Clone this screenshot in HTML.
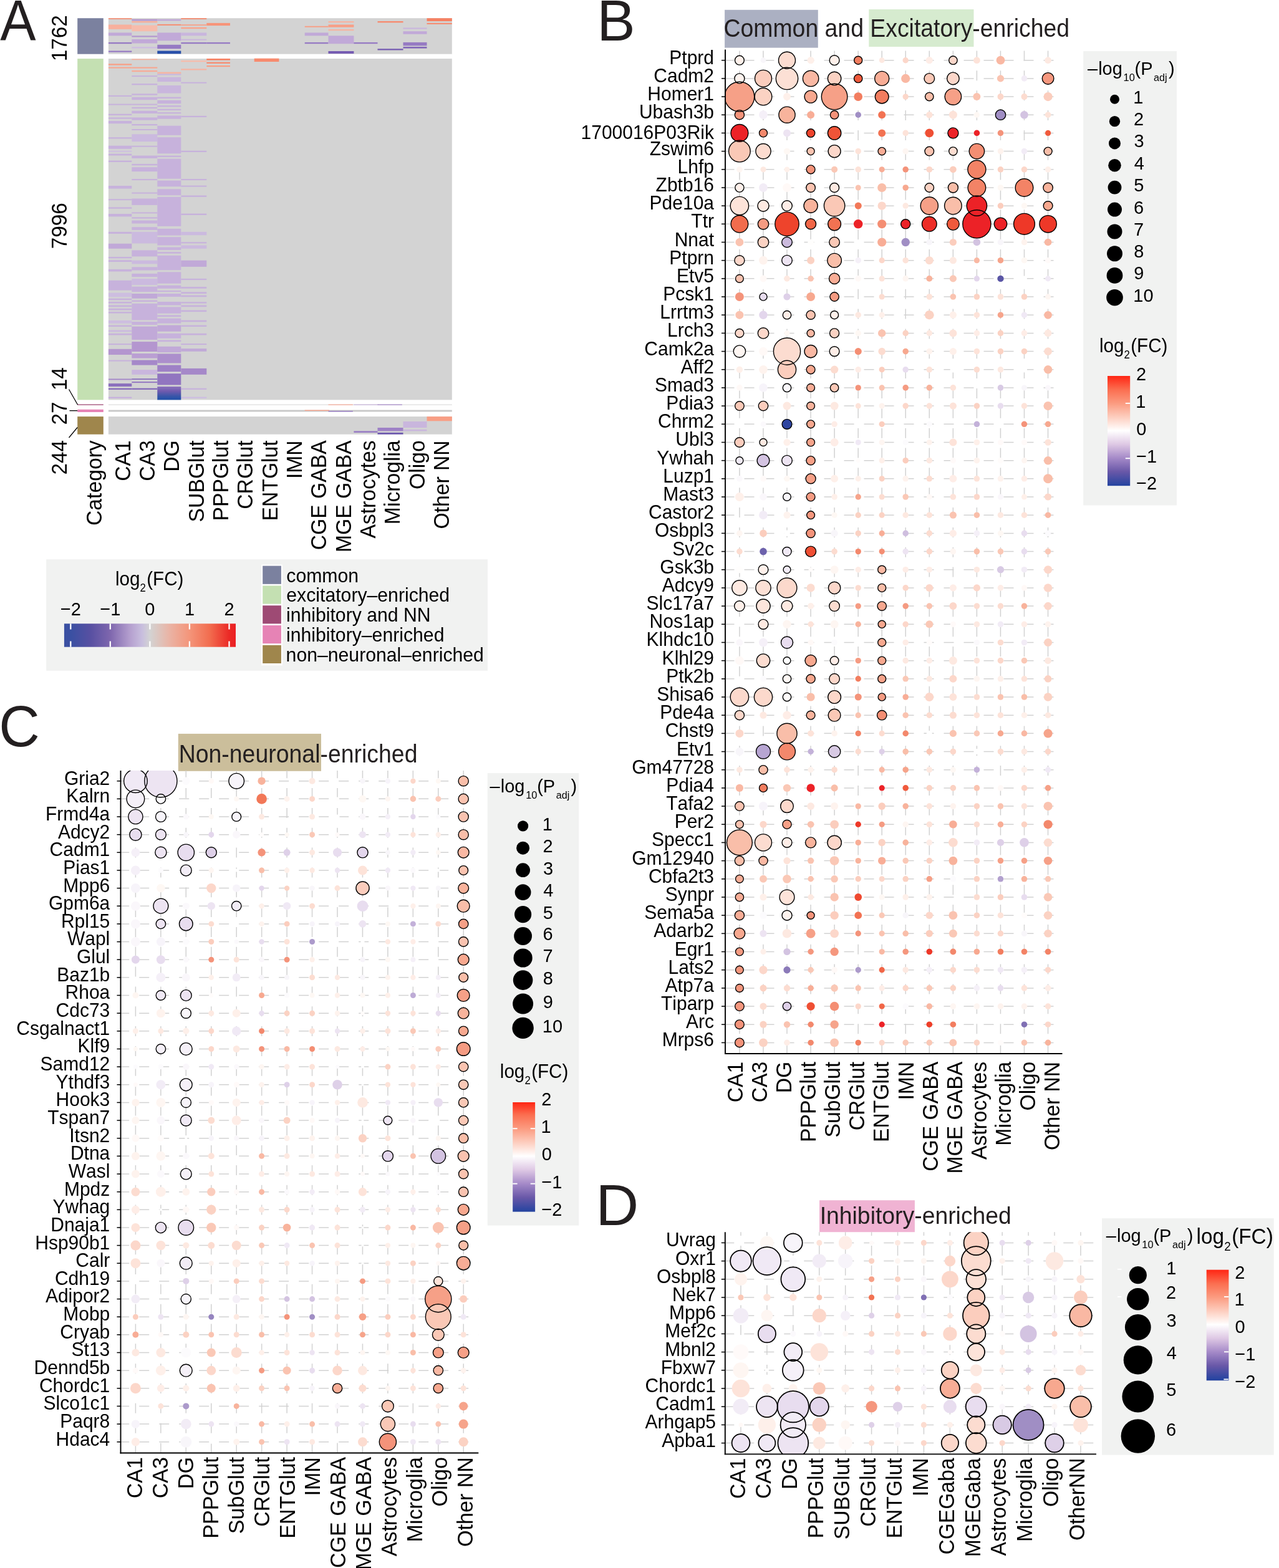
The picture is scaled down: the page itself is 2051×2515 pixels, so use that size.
<!DOCTYPE html>
<html><head><meta charset="utf-8"><title>Figure</title>
<style>
html,body{margin:0;padding:0;background:#fff;width:2051px;height:2515px;overflow:hidden;}
svg{display:block;}
text{font-family:"Liberation Sans", Arial, Helvetica, sans-serif;font-kerning:none;font-variant-ligatures:none;}
</style></head><body>
<svg xmlns="http://www.w3.org/2000/svg" width="2051" height="2515" viewBox="0 0 2051 2515">
<rect width="2051" height="2515" fill="#fff"/>
<text transform="translate(0.18,64.80) scale(1,1.0436)" font-size="89" text-anchor="start" fill="#231f20" textLength="57.34" lengthAdjust="spacingAndGlyphs">A</text>
<rect x="124.2" y="29.2" width="41.6" height="57.5" fill="#7b819f"/>
<rect x="124.2" y="94.1" width="41.6" height="547.3" fill="#c4e0b2"/>
<rect x="124.2" y="648.5" width="41.6" height="1.3" fill="#9e4a74"/>
<rect x="124.2" y="656.8" width="41.6" height="4.2" fill="#e683b5"/>
<rect x="124.2" y="668.1" width="41.6" height="28.6" fill="#9f864c"/>
<rect x="173.9" y="29.2" width="550.9" height="57.5" fill="#d3d3d3"/>
<rect x="173.9" y="94.1" width="550.9" height="547.3" fill="#d3d3d3"/>
<rect x="173.9" y="648.6" width="550.9" height="1.2" fill="#dcdcdc"/>
<rect x="173.9" y="657.6" width="550.9" height="2.8" fill="#c8c8c8"/>
<rect x="173.9" y="668.1" width="550.9" height="28.6" fill="#d3d3d3"/>
<rect x="173.90" y="29.20" width="37.40" height="1.60" fill="#f78a6e"/>
<rect x="173.90" y="39.50" width="37.40" height="7.40" fill="#f7b09d"/>
<rect x="173.90" y="52.40" width="37.40" height="4.90" fill="#c1a9d8"/>
<rect x="173.90" y="67.90" width="37.40" height="2.30" fill="#967ac3"/>
<rect x="173.90" y="81.50" width="37.40" height="2.20" fill="#967ac3"/>
<rect x="211.30" y="30.80" width="41.00" height="2.60" fill="#b496cf"/>
<rect x="211.30" y="34.00" width="41.00" height="2.30" fill="#f7ac98"/>
<rect x="211.30" y="40.50" width="41.00" height="9.70" fill="#f6bcac"/>
<rect x="211.30" y="57.30" width="41.00" height="2.20" fill="#b496cf"/>
<rect x="211.30" y="63.00" width="41.00" height="6.50" fill="#c1a9d8"/>
<rect x="211.30" y="75.00" width="41.00" height="2.60" fill="#cdbee0"/>
<rect x="252.30" y="30.80" width="38.00" height="2.60" fill="#c1a9d8"/>
<rect x="252.30" y="38.90" width="38.00" height="1.90" fill="#f78a6e"/>
<rect x="252.30" y="52.40" width="38.00" height="12.90" fill="#c1a9d8"/>
<rect x="252.30" y="71.80" width="38.00" height="6.40" fill="#967ac3"/>
<rect x="252.30" y="81.50" width="38.00" height="4.80" fill="#2850aa"/>
<rect x="290.30" y="29.20" width="41.00" height="1.60" fill="#f68062"/>
<rect x="290.30" y="39.30" width="41.00" height="1.70" fill="#f89e85"/>
<rect x="290.30" y="43.70" width="41.00" height="2.50" fill="#f8a58e"/>
<rect x="290.30" y="52.40" width="41.00" height="4.90" fill="#c9b6dd"/>
<rect x="290.30" y="62.70" width="41.00" height="1.90" fill="#c9b6dd"/>
<rect x="290.30" y="67.90" width="41.00" height="2.30" fill="#967ac3"/>
<rect x="331.30" y="36.90" width="37.70" height="4.20" fill="#f79479"/>
<rect x="331.30" y="67.90" width="37.70" height="2.30" fill="#967ac3"/>
<rect x="488.70" y="41.80" width="37.80" height="1.90" fill="#f89e85"/>
<rect x="488.70" y="52.40" width="37.80" height="4.90" fill="#c1a9d8"/>
<rect x="488.70" y="67.90" width="37.80" height="2.30" fill="#967ac3"/>
<rect x="526.50" y="34.00" width="40.90" height="2.30" fill="#f6b4a2"/>
<rect x="526.50" y="39.50" width="40.90" height="4.20" fill="#f89e85"/>
<rect x="526.50" y="46.90" width="40.90" height="2.30" fill="#f6b4a2"/>
<rect x="526.50" y="57.30" width="40.90" height="12.90" fill="#c1a9d8"/>
<rect x="526.50" y="82.00" width="40.90" height="4.00" fill="#765cb2"/>
<rect x="567.40" y="67.90" width="38.10" height="2.30" fill="#967ac3"/>
<rect x="605.50" y="34.00" width="41.00" height="2.30" fill="#f78a6e"/>
<rect x="605.50" y="78.20" width="41.00" height="2.30" fill="#765cb2"/>
<rect x="646.50" y="44.40" width="38.00" height="2.20" fill="#c9b6dd"/>
<rect x="646.50" y="50.20" width="38.00" height="4.50" fill="#c1a9d8"/>
<rect x="646.50" y="67.90" width="38.00" height="5.50" fill="#967ac3"/>
<rect x="646.50" y="75.00" width="38.00" height="2.60" fill="#8166b8"/>
<rect x="684.50" y="29.20" width="40.30" height="4.80" fill="#f68062"/>
<rect x="684.50" y="36.90" width="40.30" height="2.00" fill="#f78a6e"/>
<rect x="173.90" y="102.30" width="37.40" height="2.30" fill="#f89e85"/>
<rect x="173.90" y="107.60" width="37.40" height="2.00" fill="#f8a58e"/>
<rect x="173.90" y="152.90" width="37.40" height="2.00" fill="#c7b2dc"/>
<rect x="173.90" y="166.60" width="37.40" height="2.00" fill="#c7b2dc"/>
<rect x="173.90" y="182.70" width="37.40" height="2.30" fill="#c7b2dc"/>
<rect x="173.90" y="188.40" width="37.40" height="2.30" fill="#c7b2dc"/>
<rect x="173.90" y="194.00" width="37.40" height="4.20" fill="#c7b2dc"/>
<rect x="173.90" y="220.20" width="37.40" height="2.30" fill="#c7b2dc"/>
<rect x="173.90" y="233.70" width="37.40" height="5.10" fill="#c7b2dc"/>
<rect x="173.90" y="241.70" width="37.40" height="2.00" fill="#cdbee0"/>
<rect x="173.90" y="246.70" width="37.40" height="2.70" fill="#c7b2dc"/>
<rect x="173.90" y="257.60" width="37.40" height="2.40" fill="#c7b2dc"/>
<rect x="173.90" y="298.00" width="37.40" height="4.60" fill="#c7b2dc"/>
<rect x="173.90" y="319.20" width="37.40" height="2.00" fill="#c7b2dc"/>
<rect x="173.90" y="332.40" width="37.40" height="2.30" fill="#c7b2dc"/>
<rect x="173.90" y="343.00" width="37.40" height="4.40" fill="#c7b2dc"/>
<rect x="173.90" y="371.90" width="37.40" height="3.00" fill="#c7b2dc"/>
<rect x="173.90" y="390.80" width="37.40" height="8.00" fill="#c1a9d8"/>
<rect x="173.90" y="412.00" width="37.40" height="2.30" fill="#c7b2dc"/>
<rect x="173.90" y="417.30" width="37.40" height="2.70" fill="#c7b2dc"/>
<rect x="173.90" y="431.90" width="37.40" height="3.60" fill="#c7b2dc"/>
<rect x="173.90" y="449.80" width="37.40" height="15.90" fill="#c7b2dc"/>
<rect x="173.90" y="469.70" width="37.40" height="6.60" fill="#cdbee0"/>
<rect x="173.90" y="478.70" width="37.40" height="2.60" fill="#c7b2dc"/>
<rect x="173.90" y="484.00" width="37.40" height="2.60" fill="#c7b2dc"/>
<rect x="173.90" y="489.50" width="37.40" height="2.70" fill="#c7b2dc"/>
<rect x="173.90" y="494.80" width="37.40" height="2.70" fill="#c7b2dc"/>
<rect x="173.90" y="500.10" width="37.40" height="2.40" fill="#c7b2dc"/>
<rect x="173.90" y="514.00" width="37.40" height="4.70" fill="#cdbee0"/>
<rect x="173.90" y="521.60" width="37.40" height="2.40" fill="#c7b2dc"/>
<rect x="173.90" y="529.50" width="37.40" height="2.70" fill="#cbbadf"/>
<rect x="173.90" y="534.80" width="37.40" height="2.70" fill="#c7b2dc"/>
<rect x="173.90" y="551.10" width="37.40" height="2.00" fill="#c7b2dc"/>
<rect x="173.90" y="559.80" width="37.40" height="9.20" fill="#b496cf"/>
<rect x="173.90" y="577.60" width="37.40" height="2.00" fill="#c7b2dc"/>
<rect x="173.90" y="607.50" width="37.40" height="1.90" fill="#a588c9"/>
<rect x="173.90" y="615.10" width="37.40" height="4.90" fill="#8b70bd"/>
<rect x="173.90" y="622.70" width="37.40" height="2.20" fill="#8166b8"/>
<rect x="173.90" y="636.60" width="37.40" height="2.40" fill="#c7b2dc"/>
<rect x="211.30" y="94.40" width="41.00" height="1.80" fill="#f6b4a2"/>
<rect x="211.30" y="107.60" width="41.00" height="2.00" fill="#f8a58e"/>
<rect x="211.30" y="112.90" width="41.00" height="2.30" fill="#f7ac98"/>
<rect x="211.30" y="121.10" width="41.00" height="2.00" fill="#c7b2dc"/>
<rect x="211.30" y="134.10" width="41.00" height="2.30" fill="#c7b2dc"/>
<rect x="211.30" y="150.30" width="41.00" height="2.40" fill="#c7b2dc"/>
<rect x="211.30" y="155.80" width="41.00" height="4.40" fill="#c7b2dc"/>
<rect x="211.30" y="166.60" width="41.00" height="2.00" fill="#c7b2dc"/>
<rect x="211.30" y="171.90" width="41.00" height="2.20" fill="#c7b2dc"/>
<rect x="211.30" y="177.80" width="41.00" height="4.20" fill="#c7b2dc"/>
<rect x="211.30" y="188.40" width="41.00" height="4.30" fill="#c7b2dc"/>
<rect x="211.30" y="199.00" width="41.00" height="2.30" fill="#c7b2dc"/>
<rect x="211.30" y="207.00" width="41.00" height="2.00" fill="#c7b2dc"/>
<rect x="211.30" y="215.20" width="41.00" height="11.90" fill="#cbbadf"/>
<rect x="211.30" y="233.70" width="41.00" height="2.00" fill="#c7b2dc"/>
<rect x="211.30" y="249.60" width="41.00" height="4.30" fill="#c7b2dc"/>
<rect x="211.30" y="262.90" width="41.00" height="2.40" fill="#c7b2dc"/>
<rect x="211.30" y="268.20" width="41.00" height="6.90" fill="#c7b2dc"/>
<rect x="211.30" y="287.00" width="41.00" height="2.10" fill="#c7b2dc"/>
<rect x="211.30" y="308.60" width="41.00" height="2.00" fill="#c7b2dc"/>
<rect x="211.30" y="318.50" width="41.00" height="10.40" fill="#c7b2dc"/>
<rect x="211.30" y="340.40" width="41.00" height="2.00" fill="#c7b2dc"/>
<rect x="211.30" y="348.30" width="41.00" height="2.30" fill="#c7b2dc"/>
<rect x="211.30" y="353.60" width="41.00" height="4.90" fill="#c7b2dc"/>
<rect x="211.30" y="364.20" width="41.00" height="4.70" fill="#c7b2dc"/>
<rect x="211.30" y="371.90" width="41.00" height="18.50" fill="#cbbadf"/>
<rect x="211.30" y="401.40" width="41.00" height="10.00" fill="#c7b2dc"/>
<rect x="211.30" y="417.70" width="41.00" height="5.60" fill="#cbbadf"/>
<rect x="211.30" y="428.30" width="41.00" height="5.30" fill="#c7b2dc"/>
<rect x="211.30" y="438.90" width="41.00" height="5.30" fill="#c7b2dc"/>
<rect x="211.30" y="447.10" width="41.00" height="10.00" fill="#cbbadf"/>
<rect x="211.30" y="459.70" width="41.00" height="8.40" fill="#c7b2dc"/>
<rect x="211.30" y="471.00" width="41.00" height="7.70" fill="#c1a9d8"/>
<rect x="211.30" y="481.60" width="41.00" height="2.40" fill="#c7b2dc"/>
<rect x="211.30" y="486.90" width="41.00" height="26.50" fill="#c7b2dc"/>
<rect x="211.30" y="516.00" width="41.00" height="5.00" fill="#c7b2dc"/>
<rect x="211.30" y="523.70" width="41.00" height="21.20" fill="#c1a9d8"/>
<rect x="211.30" y="548.10" width="41.00" height="15.90" fill="#b496cf"/>
<rect x="211.30" y="567.00" width="41.00" height="7.60" fill="#ba9fd3"/>
<rect x="211.30" y="577.60" width="41.00" height="8.00" fill="#a588c9"/>
<rect x="211.30" y="593.10" width="41.00" height="7.70" fill="#c9b6dd"/>
<rect x="211.30" y="607.20" width="41.00" height="1.80" fill="#8b70bd"/>
<rect x="211.30" y="612.10" width="41.00" height="2.00" fill="#967ac3"/>
<rect x="211.30" y="622.70" width="41.00" height="2.20" fill="#8166b8"/>
<rect x="252.30" y="115.60" width="38.00" height="2.60" fill="#f6b4a2"/>
<rect x="252.30" y="118.50" width="38.00" height="2.00" fill="#c9b6dd"/>
<rect x="252.30" y="123.80" width="38.00" height="7.30" fill="#c9b6dd"/>
<rect x="252.30" y="137.00" width="38.00" height="12.60" fill="#c9b6dd"/>
<rect x="252.30" y="155.60" width="38.00" height="2.40" fill="#c7b2dc"/>
<rect x="252.30" y="160.90" width="38.00" height="5.30" fill="#c7b2dc"/>
<rect x="252.30" y="169.10" width="38.00" height="2.40" fill="#c7b2dc"/>
<rect x="252.30" y="174.80" width="38.00" height="2.20" fill="#c7b2dc"/>
<rect x="252.30" y="180.10" width="38.00" height="2.20" fill="#c7b2dc"/>
<rect x="252.30" y="185.40" width="38.00" height="5.30" fill="#c7b2dc"/>
<rect x="252.30" y="201.70" width="38.00" height="15.10" fill="#c7b2dc"/>
<rect x="252.30" y="220.20" width="38.00" height="26.10" fill="#c7b2dc"/>
<rect x="252.30" y="249.60" width="38.00" height="2.40" fill="#c7b2dc"/>
<rect x="252.30" y="254.70" width="38.00" height="32.00" fill="#c7b2dc"/>
<rect x="252.30" y="289.60" width="38.00" height="9.70" fill="#c7b2dc"/>
<rect x="252.30" y="303.30" width="38.00" height="9.90" fill="#c7b2dc"/>
<rect x="252.30" y="315.90" width="38.00" height="47.00" fill="#c7b2dc"/>
<rect x="252.30" y="366.90" width="38.00" height="10.70" fill="#c7b2dc"/>
<rect x="252.30" y="380.20" width="38.00" height="13.30" fill="#c7b2dc"/>
<rect x="252.30" y="396.50" width="38.00" height="4.50" fill="#c7b2dc"/>
<rect x="252.30" y="404.10" width="38.00" height="2.60" fill="#c7b2dc"/>
<rect x="252.30" y="409.80" width="38.00" height="23.40" fill="#c7b2dc"/>
<rect x="252.30" y="436.30" width="38.00" height="18.50" fill="#c7b2dc"/>
<rect x="252.30" y="457.70" width="38.00" height="5.10" fill="#c7b2dc"/>
<rect x="252.30" y="466.00" width="38.00" height="2.10" fill="#c7b2dc"/>
<rect x="252.30" y="471.00" width="38.00" height="5.00" fill="#c7b2dc"/>
<rect x="252.30" y="484.00" width="38.00" height="5.50" fill="#c7b2dc"/>
<rect x="252.30" y="492.40" width="38.00" height="10.40" fill="#c7b2dc"/>
<rect x="252.30" y="505.40" width="38.00" height="2.70" fill="#c7b2dc"/>
<rect x="252.30" y="510.70" width="38.00" height="8.00" fill="#c7b2dc"/>
<rect x="252.30" y="521.60" width="38.00" height="10.10" fill="#c1a9d8"/>
<rect x="252.30" y="534.80" width="38.00" height="8.00" fill="#c7b2dc"/>
<rect x="252.30" y="545.40" width="38.00" height="2.70" fill="#c7b2dc"/>
<rect x="252.30" y="555.80" width="38.00" height="9.30" fill="#c1a9d8"/>
<rect x="252.30" y="567.40" width="38.00" height="15.10" fill="#ac8fcc"/>
<rect x="252.30" y="585.60" width="38.00" height="10.60" fill="#9e81c6"/>
<rect x="252.30" y="599.20" width="38.00" height="18.20" fill="#9175c0"/>
<rect x="290.30" y="97.00" width="41.00" height="2.30" fill="#f6bcac"/>
<rect x="290.30" y="110.30" width="41.00" height="2.20" fill="#f6b4a2"/>
<rect x="290.30" y="131.70" width="41.00" height="2.00" fill="#c7b2dc"/>
<rect x="290.30" y="185.80" width="41.00" height="2.20" fill="#c7b2dc"/>
<rect x="290.30" y="241.70" width="41.00" height="2.30" fill="#c7b2dc"/>
<rect x="290.30" y="287.00" width="41.00" height="2.10" fill="#c7b2dc"/>
<rect x="290.30" y="297.60" width="41.00" height="2.10" fill="#c7b2dc"/>
<rect x="290.30" y="313.50" width="41.00" height="2.40" fill="#c7b2dc"/>
<rect x="290.30" y="342.60" width="41.00" height="2.40" fill="#c7b2dc"/>
<rect x="290.30" y="371.90" width="41.00" height="5.30" fill="#cbbadf"/>
<rect x="290.30" y="388.20" width="41.00" height="2.20" fill="#c7b2dc"/>
<rect x="290.30" y="393.50" width="41.00" height="5.30" fill="#cbbadf"/>
<rect x="290.30" y="417.70" width="41.00" height="10.20" fill="#c1a9d8"/>
<rect x="290.30" y="446.90" width="41.00" height="2.20" fill="#c7b2dc"/>
<rect x="290.30" y="460.10" width="41.00" height="2.70" fill="#c7b2dc"/>
<rect x="290.30" y="468.30" width="41.00" height="2.70" fill="#c7b2dc"/>
<rect x="290.30" y="473.60" width="41.00" height="2.70" fill="#c7b2dc"/>
<rect x="290.30" y="484.20" width="41.00" height="2.40" fill="#c7b2dc"/>
<rect x="290.30" y="489.50" width="41.00" height="2.70" fill="#c7b2dc"/>
<rect x="290.30" y="497.50" width="41.00" height="2.60" fill="#c7b2dc"/>
<rect x="290.30" y="513.60" width="41.00" height="2.70" fill="#c7b2dc"/>
<rect x="290.30" y="521.60" width="41.00" height="2.40" fill="#c7b2dc"/>
<rect x="290.30" y="534.80" width="41.00" height="2.70" fill="#c7b2dc"/>
<rect x="290.30" y="551.10" width="41.00" height="2.00" fill="#c7b2dc"/>
<rect x="290.30" y="559.10" width="41.00" height="4.60" fill="#c1a9d8"/>
<rect x="290.30" y="590.90" width="41.00" height="9.90" fill="#a588c9"/>
<rect x="290.30" y="622.70" width="41.00" height="2.20" fill="#c7b2dc"/>
<rect x="290.30" y="636.60" width="41.00" height="2.40" fill="#cdbee0"/>
<rect x="331.30" y="94.00" width="37.70" height="2.60" fill="#f68062"/>
<rect x="331.30" y="99.70" width="37.70" height="2.20" fill="#f78a6e"/>
<rect x="331.30" y="105.00" width="37.70" height="2.20" fill="#f89e85"/>
<rect x="407.70" y="93.70" width="39.70" height="5.30" fill="#f78a6e"/>
<rect x="684.50" y="668.10" width="40.30" height="7.20" fill="#f89e85"/>
<rect x="646.50" y="676.00" width="38.00" height="10.00" fill="#c9b6dd"/>
<rect x="646.50" y="688.90" width="38.00" height="2.50" fill="#c9b6dd"/>
<rect x="605.50" y="686.00" width="41.00" height="5.40" fill="#9e81c6"/>
<rect x="605.50" y="693.90" width="41.00" height="2.80" fill="#6e59af"/>
<rect x="567.40" y="691.40" width="38.10" height="2.50" fill="#967ac3"/>
<defs><linearGradient id="gDG" x1="0" x2="0" y1="0" y2="1"><stop offset="0" stop-color="#8d74bd"/><stop offset="0.35" stop-color="#6f5aae"/><stop offset="0.75" stop-color="#3555a8"/><stop offset="1" stop-color="#2150a8"/></linearGradient></defs>
<rect x="252.30" y="620.0" width="38.00" height="21.4" fill="url(#gDG)"/>
<rect x="526.50" y="648.6" width="39.35" height="1.2" fill="#f7ac98"/>
<rect x="567.40" y="648.6" width="39.35" height="1.2" fill="#c9b6dd"/>
<rect x="605.50" y="648.6" width="39.35" height="1.2" fill="#a588c9"/>
<rect x="488.70" y="657.6" width="39.35" height="1.4" fill="#f8a58e"/>
<rect x="526.50" y="659.0" width="39.35" height="1.4" fill="#967ac3"/>
<text transform="translate(107.20,61.30) rotate(-90) scale(1,1.0436)" font-size="33.3" text-anchor="middle" fill="#000">1762</text>
<text transform="translate(107.20,362.30) rotate(-90) scale(1,1.0436)" font-size="33.3" text-anchor="middle" fill="#000">7996</text>
<text transform="translate(107.20,607.70) rotate(-90) scale(1,1.0436)" font-size="33.3" text-anchor="middle" fill="#000">14</text>
<text transform="translate(107.20,663.00) rotate(-90) scale(1,1.0436)" font-size="33.3" text-anchor="middle" fill="#000">27</text>
<text transform="translate(107.20,733.80) rotate(-90) scale(1,1.0436)" font-size="33.3" text-anchor="middle" fill="#000">244</text>
<line x1="110.5" y1="624.5" x2="124.6" y2="649.2" stroke="#000" stroke-width="1.3"/>
<line x1="111.5" y1="658.7" x2="124.2" y2="658.7" stroke="#000" stroke-width="1.3"/>
<line x1="110.5" y1="702" x2="124.2" y2="685.5" stroke="#000" stroke-width="1.3"/>
<text transform="translate(162.60,706.30) rotate(-90) scale(1,1.0436)" font-size="33.7" text-anchor="end" fill="#000">Category</text>
<text transform="translate(208.60,706.30) rotate(-90) scale(1,1.0436)" font-size="33.7" text-anchor="end" fill="#000">CA1</text>
<text transform="translate(247.95,706.30) rotate(-90) scale(1,1.0436)" font-size="33.7" text-anchor="end" fill="#000">CA3</text>
<text transform="translate(287.30,706.30) rotate(-90) scale(1,1.0436)" font-size="33.7" text-anchor="end" fill="#000">DG</text>
<text transform="translate(326.65,706.30) rotate(-90) scale(1,1.0436)" font-size="33.7" text-anchor="end" fill="#000">SUBGlut</text>
<text transform="translate(366.00,706.30) rotate(-90) scale(1,1.0436)" font-size="33.7" text-anchor="end" fill="#000">PPPGlut</text>
<text transform="translate(405.35,706.30) rotate(-90) scale(1,1.0436)" font-size="33.7" text-anchor="end" fill="#000">CRGlut</text>
<text transform="translate(444.70,706.30) rotate(-90) scale(1,1.0436)" font-size="33.7" text-anchor="end" fill="#000">ENTGlut</text>
<text transform="translate(484.05,706.30) rotate(-90) scale(1,1.0436)" font-size="33.7" text-anchor="end" fill="#000">IMN</text>
<text transform="translate(523.40,706.30) rotate(-90) scale(1,1.0436)" font-size="33.7" text-anchor="end" fill="#000">CGE GABA</text>
<text transform="translate(562.75,706.30) rotate(-90) scale(1,1.0436)" font-size="33.7" text-anchor="end" fill="#000">MGE GABA</text>
<text transform="translate(602.10,706.30) rotate(-90) scale(1,1.0436)" font-size="33.7" text-anchor="end" fill="#000">Astrocytes</text>
<text transform="translate(641.45,706.30) rotate(-90) scale(1,1.0436)" font-size="33.7" text-anchor="end" fill="#000">Microglia</text>
<text transform="translate(680.80,706.30) rotate(-90) scale(1,1.0436)" font-size="33.7" text-anchor="end" fill="#000">Oligo</text>
<text transform="translate(720.15,706.30) rotate(-90) scale(1,1.0436)" font-size="33.7" text-anchor="end" fill="#000">Other NN</text>
<rect x="74.2" y="897.2" width="707.8" height="178.6" fill="#f1f2f1"/>
<defs><linearGradient id="gA" x1="0" x2="1" y1="0" y2="0"><stop offset="0.0000" stop-color="#3a50a2"/><stop offset="0.0392" stop-color="#3a50a2"/><stop offset="0.1544" stop-color="#5850a2"/><stop offset="0.2696" stop-color="#7f67ae"/><stop offset="0.3848" stop-color="#b5a0cf"/><stop offset="0.4539" stop-color="#c8bede"/><stop offset="0.5000" stop-color="#d3d3d3"/><stop offset="0.6152" stop-color="#eab3a4"/><stop offset="0.7304" stop-color="#f4957a"/><stop offset="0.8456" stop-color="#f26e50"/><stop offset="0.9608" stop-color="#eb2a26"/><stop offset="1.0000" stop-color="#eb2024"/></linearGradient></defs>
<rect x="102.9" y="1000.3" width="275.1" height="37.4" fill="url(#gA)"/>
<line x1="113.3" y1="1000.3" x2="113.3" y2="1009.5" stroke="#fff" stroke-width="2.3"/>
<line x1="113.3" y1="1028.5" x2="113.3" y2="1037.7" stroke="#fff" stroke-width="2.3"/>
<text transform="translate(113.30,987.30) scale(1,1.0436)" font-size="29" text-anchor="middle" fill="#000">−2</text>
<line x1="176.8" y1="1000.3" x2="176.8" y2="1009.5" stroke="#fff" stroke-width="2.3"/>
<line x1="176.8" y1="1028.5" x2="176.8" y2="1037.7" stroke="#fff" stroke-width="2.3"/>
<text transform="translate(176.85,987.30) scale(1,1.0436)" font-size="29" text-anchor="middle" fill="#000">−1</text>
<line x1="240.4" y1="1000.3" x2="240.4" y2="1009.5" stroke="#fff" stroke-width="2.3"/>
<line x1="240.4" y1="1028.5" x2="240.4" y2="1037.7" stroke="#fff" stroke-width="2.3"/>
<text transform="translate(240.40,987.30) scale(1,1.0436)" font-size="29" text-anchor="middle" fill="#000">0</text>
<line x1="303.9" y1="1000.3" x2="303.9" y2="1009.5" stroke="#fff" stroke-width="2.3"/>
<line x1="303.9" y1="1028.5" x2="303.9" y2="1037.7" stroke="#fff" stroke-width="2.3"/>
<text transform="translate(303.95,987.30) scale(1,1.0436)" font-size="29" text-anchor="middle" fill="#000">1</text>
<line x1="367.5" y1="1000.3" x2="367.5" y2="1009.5" stroke="#fff" stroke-width="2.3"/>
<line x1="367.5" y1="1028.5" x2="367.5" y2="1037.7" stroke="#fff" stroke-width="2.3"/>
<text transform="translate(367.50,987.30) scale(1,1.0436)" font-size="29" text-anchor="middle" fill="#000">2</text>
<text transform="translate(0,938.70) scale(1,1.0436)" fill="#000"><tspan x="184.91" y="0.00" font-size="29.6">log</tspan><tspan x="224.56" y="9.49" font-size="16.8">2</tspan><tspan x="235.26" y="0.00" font-size="29.6">(FC)</tspan></text>
<rect x="419.2" y="905.6" width="33.6" height="161.8" fill="#fff"/>
<rect x="421.2" y="907.6" width="29.7" height="29.2" fill="#7b819f"/>
<text transform="translate(459.32,933.50) scale(1,1.0436)" font-size="30.2" text-anchor="start" fill="#000">common</text>
<rect x="421.2" y="939.4" width="29.7" height="29.2" fill="#c4e0b2"/>
<text transform="translate(459.32,965.30) scale(1,1.0436)" font-size="30.2" text-anchor="start" fill="#000">excitatory–enriched</text>
<rect x="421.2" y="971.2" width="29.7" height="29.2" fill="#9e4a74"/>
<text transform="translate(458.98,997.10) scale(1,1.0436)" font-size="30.2" text-anchor="start" fill="#000">inhibitory and NN</text>
<rect x="421.2" y="1003.0" width="29.7" height="29.2" fill="#e683b5"/>
<text transform="translate(458.98,1028.90) scale(1,1.0436)" font-size="30.2" text-anchor="start" fill="#000">inhibitory–enriched</text>
<rect x="421.2" y="1034.8" width="29.7" height="29.2" fill="#9f864c"/>
<text transform="translate(458.59,1060.70) scale(1,1.0436)" font-size="30.2" text-anchor="start" fill="#000">non–neuronal–enriched</text>
<text transform="translate(957.35,65.00) scale(1,1.0436)" font-size="89" text-anchor="start" fill="#231f20" textLength="61.41" lengthAdjust="spacingAndGlyphs">B</text>
<rect x="1162.1" y="15.8" width="149.7" height="60.8" fill="#abb0c2"/>
<rect x="1393.3" y="15" width="168.2" height="60" fill="#d6ebcf"/>
<text transform="translate(1160.60,59.00) scale(1,1.0436)" font-size="38.3" text-anchor="start" fill="#231f20" textLength="554.51" lengthAdjust="spacingAndGlyphs">Common and Excitatory-enriched</text>
<clipPath id="clipB"><rect x="1163.0" y="79.4" width="540.5" height="1610.6"/></clipPath>
<g stroke="#d2d2d2" stroke-width="1.5" fill="none"><line x1="1161.5" y1="96.70" x2="1703.5" y2="96.70" stroke-dasharray="16 16"/><line x1="1161.5" y1="125.88" x2="1703.5" y2="125.88" stroke-dasharray="16 16"/><line x1="1161.5" y1="155.06" x2="1703.5" y2="155.06" stroke-dasharray="16 16"/><line x1="1161.5" y1="184.24" x2="1703.5" y2="184.24" stroke-dasharray="16 16"/><line x1="1161.5" y1="213.42" x2="1703.5" y2="213.42" stroke-dasharray="16 16"/><line x1="1161.5" y1="242.60" x2="1703.5" y2="242.60" stroke-dasharray="16 16"/><line x1="1161.5" y1="271.78" x2="1703.5" y2="271.78" stroke-dasharray="16 16"/><line x1="1161.5" y1="300.96" x2="1703.5" y2="300.96" stroke-dasharray="16 16"/><line x1="1161.5" y1="330.14" x2="1703.5" y2="330.14" stroke-dasharray="16 16"/><line x1="1161.5" y1="359.32" x2="1703.5" y2="359.32" stroke-dasharray="16 16"/><line x1="1161.5" y1="388.50" x2="1703.5" y2="388.50" stroke-dasharray="16 16"/><line x1="1161.5" y1="417.68" x2="1703.5" y2="417.68" stroke-dasharray="16 16"/><line x1="1161.5" y1="446.86" x2="1703.5" y2="446.86" stroke-dasharray="16 16"/><line x1="1161.5" y1="476.04" x2="1703.5" y2="476.04" stroke-dasharray="16 16"/><line x1="1161.5" y1="505.22" x2="1703.5" y2="505.22" stroke-dasharray="16 16"/><line x1="1161.5" y1="534.40" x2="1703.5" y2="534.40" stroke-dasharray="16 16"/><line x1="1161.5" y1="563.58" x2="1703.5" y2="563.58" stroke-dasharray="16 16"/><line x1="1161.5" y1="592.76" x2="1703.5" y2="592.76" stroke-dasharray="16 16"/><line x1="1161.5" y1="621.94" x2="1703.5" y2="621.94" stroke-dasharray="16 16"/><line x1="1161.5" y1="651.12" x2="1703.5" y2="651.12" stroke-dasharray="16 16"/><line x1="1161.5" y1="680.30" x2="1703.5" y2="680.30" stroke-dasharray="16 16"/><line x1="1161.5" y1="709.48" x2="1703.5" y2="709.48" stroke-dasharray="16 16"/><line x1="1161.5" y1="738.66" x2="1703.5" y2="738.66" stroke-dasharray="16 16"/><line x1="1161.5" y1="767.84" x2="1703.5" y2="767.84" stroke-dasharray="16 16"/><line x1="1161.5" y1="797.02" x2="1703.5" y2="797.02" stroke-dasharray="16 16"/><line x1="1161.5" y1="826.20" x2="1703.5" y2="826.20" stroke-dasharray="16 16"/><line x1="1161.5" y1="855.38" x2="1703.5" y2="855.38" stroke-dasharray="16 16"/><line x1="1161.5" y1="884.56" x2="1703.5" y2="884.56" stroke-dasharray="16 16"/><line x1="1161.5" y1="913.74" x2="1703.5" y2="913.74" stroke-dasharray="16 16"/><line x1="1161.5" y1="942.92" x2="1703.5" y2="942.92" stroke-dasharray="16 16"/><line x1="1161.5" y1="972.10" x2="1703.5" y2="972.10" stroke-dasharray="16 16"/><line x1="1161.5" y1="1001.28" x2="1703.5" y2="1001.28" stroke-dasharray="16 16"/><line x1="1161.5" y1="1030.46" x2="1703.5" y2="1030.46" stroke-dasharray="16 16"/><line x1="1161.5" y1="1059.64" x2="1703.5" y2="1059.64" stroke-dasharray="16 16"/><line x1="1161.5" y1="1088.82" x2="1703.5" y2="1088.82" stroke-dasharray="16 16"/><line x1="1161.5" y1="1118.00" x2="1703.5" y2="1118.00" stroke-dasharray="16 16"/><line x1="1161.5" y1="1147.18" x2="1703.5" y2="1147.18" stroke-dasharray="16 16"/><line x1="1161.5" y1="1176.36" x2="1703.5" y2="1176.36" stroke-dasharray="16 16"/><line x1="1161.5" y1="1205.54" x2="1703.5" y2="1205.54" stroke-dasharray="16 16"/><line x1="1161.5" y1="1234.72" x2="1703.5" y2="1234.72" stroke-dasharray="16 16"/><line x1="1161.5" y1="1263.90" x2="1703.5" y2="1263.90" stroke-dasharray="16 16"/><line x1="1161.5" y1="1293.08" x2="1703.5" y2="1293.08" stroke-dasharray="16 16"/><line x1="1161.5" y1="1322.26" x2="1703.5" y2="1322.26" stroke-dasharray="16 16"/><line x1="1161.5" y1="1351.44" x2="1703.5" y2="1351.44" stroke-dasharray="16 16"/><line x1="1161.5" y1="1380.62" x2="1703.5" y2="1380.62" stroke-dasharray="16 16"/><line x1="1161.5" y1="1409.80" x2="1703.5" y2="1409.80" stroke-dasharray="16 16"/><line x1="1161.5" y1="1438.98" x2="1703.5" y2="1438.98" stroke-dasharray="16 16"/><line x1="1161.5" y1="1468.16" x2="1703.5" y2="1468.16" stroke-dasharray="16 16"/><line x1="1161.5" y1="1497.34" x2="1703.5" y2="1497.34" stroke-dasharray="16 16"/><line x1="1161.5" y1="1526.52" x2="1703.5" y2="1526.52" stroke-dasharray="16 16"/><line x1="1161.5" y1="1555.70" x2="1703.5" y2="1555.70" stroke-dasharray="16 16"/><line x1="1161.5" y1="1584.88" x2="1703.5" y2="1584.88" stroke-dasharray="16 16"/><line x1="1161.5" y1="1614.06" x2="1703.5" y2="1614.06" stroke-dasharray="16 16"/><line x1="1161.5" y1="1643.24" x2="1703.5" y2="1643.24" stroke-dasharray="16 16"/><line x1="1161.5" y1="1672.42" x2="1703.5" y2="1672.42" stroke-dasharray="16 16"/><line x1="1185.90" y1="1690.0" x2="1185.90" y2="79.4" stroke-dasharray="16 15.85"/><line x1="1223.95" y1="1690.0" x2="1223.95" y2="79.4" stroke-dasharray="16 15.85"/><line x1="1262.00" y1="1690.0" x2="1262.00" y2="79.4" stroke-dasharray="16 15.85"/><line x1="1300.05" y1="1690.0" x2="1300.05" y2="79.4" stroke-dasharray="16 15.85"/><line x1="1338.10" y1="1690.0" x2="1338.10" y2="79.4" stroke-dasharray="16 15.85"/><line x1="1376.15" y1="1690.0" x2="1376.15" y2="79.4" stroke-dasharray="16 15.85"/><line x1="1414.20" y1="1690.0" x2="1414.20" y2="79.4" stroke-dasharray="16 15.85"/><line x1="1452.25" y1="1690.0" x2="1452.25" y2="79.4" stroke-dasharray="16 15.85"/><line x1="1490.30" y1="1690.0" x2="1490.30" y2="79.4" stroke-dasharray="16 15.85"/><line x1="1528.35" y1="1690.0" x2="1528.35" y2="79.4" stroke-dasharray="16 15.85"/><line x1="1566.40" y1="1690.0" x2="1566.40" y2="79.4" stroke-dasharray="16 15.85"/><line x1="1604.45" y1="1690.0" x2="1604.45" y2="79.4" stroke-dasharray="16 15.85"/><line x1="1642.50" y1="1690.0" x2="1642.50" y2="79.4" stroke-dasharray="16 15.85"/><line x1="1680.55" y1="1690.0" x2="1680.55" y2="79.4" stroke-dasharray="16 15.85"/></g>
<g clip-path="url(#clipB)"><circle cx="1185.9" cy="155.1" r="23.8" fill="#f6a087"/><circle cx="1566.4" cy="359.3" r="22.6" fill="#ec2227"/><circle cx="1262.0" cy="563.6" r="21.6" fill="#fcdcd0"/><circle cx="1338.1" cy="155.1" r="20.8" fill="#f6a087"/><circle cx="1185.9" cy="1351.4" r="20.4" fill="#f9bea9"/><circle cx="1262.0" cy="359.3" r="19.2" fill="#ee442c"/><circle cx="1262.0" cy="125.9" r="17.7" fill="#fce0d5"/><circle cx="1185.9" cy="242.6" r="17.3" fill="#fac8b6"/><circle cx="1642.5" cy="359.3" r="16.9" fill="#ee3828"/><circle cx="1338.1" cy="330.1" r="16.7" fill="#fac8b6"/><circle cx="1566.4" cy="330.1" r="16.2" fill="#ec2227"/><circle cx="1262.0" cy="1176.4" r="16.1" fill="#f9bea9"/><circle cx="1262.0" cy="942.9" r="15.9" fill="#fcd9cc"/><circle cx="1185.9" cy="330.1" r="14.7" fill="#fde3d9"/><circle cx="1185.9" cy="1118.0" r="14.7" fill="#fcd9cc"/><circle cx="1262.0" cy="592.8" r="14.6" fill="#fbcdbd"/><circle cx="1224.0" cy="1118.0" r="14.6" fill="#fcd9cc"/><circle cx="1566.4" cy="271.8" r="14.5" fill="#f38366"/><circle cx="1566.4" cy="301.0" r="14.3" fill="#f38366"/><circle cx="1642.5" cy="301.0" r="14.3" fill="#f38366"/><circle cx="1490.3" cy="330.1" r="14.1" fill="#f6a087"/><circle cx="1185.9" cy="213.4" r="13.9" fill="#ec2227"/><circle cx="1224.0" cy="155.1" r="13.8" fill="#fbd2c3"/><circle cx="1528.4" cy="330.1" r="13.8" fill="#f9bea9"/><circle cx="1185.9" cy="359.3" r="13.8" fill="#f16c4d"/><circle cx="1680.6" cy="359.3" r="13.7" fill="#ee3828"/><circle cx="1262.0" cy="96.7" r="13.5" fill="#fcdcd0"/><circle cx="1224.0" cy="125.9" r="13.5" fill="#fbcdbd"/><circle cx="1224.0" cy="1351.4" r="13.5" fill="#fcdcd0"/><circle cx="1262.0" cy="1205.5" r="13.4" fill="#f3886c"/><circle cx="1528.4" cy="155.1" r="13.2" fill="#f6a087"/><circle cx="1262.0" cy="184.2" r="13.1" fill="#f8b39c"/><circle cx="1300.1" cy="125.9" r="12.7" fill="#f9b8a3"/><circle cx="1566.4" cy="242.6" r="12.2" fill="#f48e73"/><circle cx="1224.0" cy="242.6" r="12.1" fill="#fcdcd0"/><circle cx="1185.9" cy="942.9" r="12.1" fill="#fde9e1"/><circle cx="1224.0" cy="942.9" r="12.1" fill="#fce0d5"/><circle cx="1262.0" cy="1439.0" r="11.9" fill="#fde3d9"/><circle cx="1490.3" cy="359.3" r="11.8" fill="#ed2d27"/><circle cx="1414.2" cy="125.9" r="11.5" fill="#f8ad96"/><circle cx="1224.0" cy="1205.5" r="11.5" fill="#b7a5d2"/><circle cx="1338.1" cy="417.7" r="11.3" fill="#f9bea9"/><circle cx="1338.1" cy="1351.4" r="11.2" fill="#fcd7ca"/><circle cx="1300.1" cy="330.1" r="11.1" fill="#f8b39c"/><circle cx="1224.0" cy="972.1" r="11.1" fill="#fde5dc"/><circle cx="1414.2" cy="155.1" r="10.9" fill="#f27d5f"/><circle cx="1338.1" cy="125.9" r="10.7" fill="#fbd2c3"/><circle cx="1338.1" cy="213.4" r="10.7" fill="#f05438"/><circle cx="1224.0" cy="1059.6" r="10.7" fill="#fcdcd0"/><circle cx="1338.1" cy="359.3" r="10.4" fill="#f27252"/><circle cx="1338.1" cy="1118.0" r="10.4" fill="#fcd7ca"/><circle cx="1262.0" cy="1293.1" r="10.3" fill="#fcd9cc"/><circle cx="1604.5" cy="359.3" r="10.2" fill="#ec2227"/><circle cx="1300.1" cy="563.6" r="10.1" fill="#f9b8a3"/><circle cx="1300.1" cy="155.1" r="10.0" fill="#f7a88f"/><circle cx="1338.1" cy="242.6" r="10.0" fill="#fcd7ca"/><circle cx="1224.0" cy="738.7" r="9.9" fill="#d3c3e1"/><circle cx="1338.1" cy="1147.2" r="9.9" fill="#fac8b6"/><circle cx="1528.4" cy="125.9" r="9.8" fill="#fcd7ca"/><circle cx="1528.4" cy="359.3" r="9.8" fill="#f05a3c"/><circle cx="1185.9" cy="563.6" r="9.7" fill="#fef6f2"/><circle cx="1338.1" cy="942.9" r="9.7" fill="#fcd7ca"/><circle cx="1338.1" cy="1205.5" r="9.7" fill="#d8cae4"/><circle cx="1262.0" cy="1030.5" r="9.5" fill="#e8ddef"/><circle cx="1680.6" cy="125.9" r="9.3" fill="#f5977e"/><circle cx="1224.0" cy="330.1" r="9.1" fill="#fde9e1"/><circle cx="1300.1" cy="1059.6" r="9.1" fill="#f7a88f"/><circle cx="1262.0" cy="972.1" r="8.9" fill="#fde9e1"/><circle cx="1185.9" cy="1497.3" r="8.8" fill="#f7a88f"/><circle cx="1224.0" cy="359.3" r="8.7" fill="#f59b82"/><circle cx="1224.0" cy="388.5" r="8.7" fill="#fbd2c3"/><circle cx="1224.0" cy="534.4" r="8.7" fill="#fcd7ca"/><circle cx="1338.1" cy="446.9" r="8.6" fill="#f8ad96"/><circle cx="1528.4" cy="213.4" r="8.5" fill="#ec2227"/><circle cx="1300.1" cy="359.3" r="8.5" fill="#f16647"/><circle cx="1300.1" cy="884.6" r="8.5" fill="#ef4f34"/><circle cx="1300.1" cy="1351.4" r="8.5" fill="#f8b39c"/><circle cx="1490.3" cy="125.9" r="8.3" fill="#fac8b6"/><circle cx="1262.0" cy="330.1" r="8.3" fill="#feede7"/><circle cx="1262.0" cy="388.5" r="8.3" fill="#cbbadd"/><circle cx="1338.1" cy="388.5" r="8.3" fill="#fac8b6"/><circle cx="1262.0" cy="417.7" r="8.3" fill="#ede4f2"/><circle cx="1262.0" cy="738.7" r="8.3" fill="#ede4f2"/><circle cx="1185.9" cy="972.1" r="8.3" fill="#fef0ea"/><circle cx="1338.1" cy="972.1" r="8.3" fill="#fcdcd0"/><circle cx="1338.1" cy="1088.8" r="8.3" fill="#fcd7ca"/><circle cx="1604.5" cy="184.2" r="8.2" fill="#a08ec4"/><circle cx="1185.9" cy="125.9" r="8.0" fill="#fef3ee"/><circle cx="1528.4" cy="301.0" r="8.0" fill="#f9bea9"/><circle cx="1185.9" cy="417.7" r="8.0" fill="#fcd7ca"/><circle cx="1300.1" cy="767.8" r="8.0" fill="#f6a087"/><circle cx="1262.0" cy="1468.2" r="8.0" fill="#fef3ee"/><circle cx="1338.1" cy="96.7" r="7.9" fill="#fef0ea"/><circle cx="1338.1" cy="563.6" r="7.9" fill="#feede7"/><circle cx="1262.0" cy="680.3" r="7.9" fill="#2e45a0"/><circle cx="1224.0" cy="913.7" r="7.9" fill="#fef0ea"/><circle cx="1224.0" cy="1001.3" r="7.9" fill="#fde9e1"/><circle cx="1262.0" cy="1351.4" r="7.9" fill="#feede7"/><circle cx="1185.9" cy="709.5" r="7.8" fill="#fbcdbd"/><circle cx="1680.6" cy="301.0" r="7.7" fill="#f8b39c"/><circle cx="1224.0" cy="651.1" r="7.7" fill="#fbcdbd"/><circle cx="1414.2" cy="1147.2" r="7.7" fill="#f48e73"/><circle cx="1185.9" cy="184.2" r="7.6" fill="#f4937a"/><circle cx="1452.2" cy="359.3" r="7.6" fill="#ec2227"/><circle cx="1185.9" cy="1147.2" r="7.6" fill="#fcd7ca"/><circle cx="1185.9" cy="1380.6" r="7.6" fill="#f9bea9"/><circle cx="1185.9" cy="1468.2" r="7.6" fill="#f8ad96"/><circle cx="1338.1" cy="301.0" r="7.5" fill="#fde9e1"/><circle cx="1338.1" cy="534.4" r="7.5" fill="#fbd2c3"/><circle cx="1185.9" cy="96.7" r="7.4" fill="#fef0ea"/><circle cx="1680.6" cy="330.1" r="7.4" fill="#f7a88f"/><circle cx="1490.3" cy="242.6" r="7.3" fill="#fac3b0"/><circle cx="1300.1" cy="301.0" r="7.3" fill="#fac3b0"/><circle cx="1185.9" cy="651.1" r="7.3" fill="#fac8b6"/><circle cx="1185.9" cy="1293.1" r="7.3" fill="#fac3b0"/><circle cx="1185.9" cy="1614.1" r="7.3" fill="#f5977e"/><circle cx="1185.9" cy="1643.2" r="7.3" fill="#f4937a"/><circle cx="1185.9" cy="1672.4" r="7.3" fill="#f4937a"/><circle cx="1490.3" cy="301.0" r="7.2" fill="#fbd2c3"/><circle cx="1338.1" cy="476.0" r="7.2" fill="#f59b82"/><circle cx="1414.2" cy="972.1" r="7.2" fill="#f7a88f"/><circle cx="1185.9" cy="301.0" r="7.1" fill="#fef0ea"/><circle cx="1300.1" cy="505.2" r="7.1" fill="#fac3b0"/><circle cx="1300.1" cy="738.7" r="7.1" fill="#f6a087"/><circle cx="1300.1" cy="855.4" r="7.1" fill="#f4937a"/><circle cx="1262.0" cy="884.6" r="7.1" fill="#f0e9f5"/><circle cx="1300.1" cy="1088.8" r="7.1" fill="#f7a88f"/><circle cx="1224.0" cy="1234.7" r="7.1" fill="#f9bea9"/><circle cx="1262.0" cy="1322.3" r="7.1" fill="#f6a087"/><circle cx="1224.0" cy="1380.6" r="7.1" fill="#f9b8a3"/><circle cx="1300.1" cy="271.8" r="6.9" fill="#f4937a"/><circle cx="1185.9" cy="534.4" r="6.9" fill="#fcd7ca"/><circle cx="1300.1" cy="592.8" r="6.9" fill="#f7a88f"/><circle cx="1680.6" cy="767.8" r="7.5" fill="#f9bea9"/><circle cx="1300.1" cy="797.0" r="6.9" fill="#f59b82"/><circle cx="1300.1" cy="1147.2" r="6.9" fill="#f8b39c"/><circle cx="1300.1" cy="1497.3" r="7.5" fill="#f6a087"/><circle cx="1338.1" cy="1059.6" r="6.8" fill="#feede7"/><circle cx="1338.1" cy="1380.6" r="7.4" fill="#fac8b6"/><circle cx="1528.4" cy="96.7" r="6.7" fill="#fcd7ca"/><circle cx="1376.2" cy="125.9" r="6.7" fill="#f05a3c"/><circle cx="1490.3" cy="155.1" r="6.7" fill="#f9bea9"/><circle cx="1338.1" cy="184.2" r="6.7" fill="#f4937a"/><circle cx="1300.1" cy="213.4" r="6.7" fill="#ee442c"/><circle cx="1528.4" cy="242.6" r="6.7" fill="#fcdcd0"/><circle cx="1376.2" cy="359.3" r="7.3" fill="#ec2227"/><circle cx="1262.0" cy="505.2" r="6.7" fill="#feede7"/><circle cx="1490.3" cy="505.2" r="7.3" fill="#fbd2c3"/><circle cx="1262.0" cy="621.9" r="6.7" fill="#faf7fb"/><circle cx="1338.1" cy="621.9" r="6.7" fill="#fac8b6"/><circle cx="1262.0" cy="1088.8" r="6.7" fill="#fef8f4"/><circle cx="1262.0" cy="1118.0" r="6.7" fill="#fffcfb"/><circle cx="1528.4" cy="1351.4" r="7.3" fill="#fcdcd0"/><circle cx="1642.5" cy="1351.4" r="7.3" fill="#ded0e8"/><circle cx="1185.9" cy="1439.0" r="6.7" fill="#f8ad96"/><circle cx="1262.0" cy="1497.3" r="7.3" fill="#fde9e1"/><circle cx="1262.0" cy="1614.1" r="6.7" fill="#ded0e8"/><circle cx="1338.1" cy="1614.1" r="7.3" fill="#f48e73"/><circle cx="1376.2" cy="96.7" r="6.5" fill="#f27d5f"/><circle cx="1452.2" cy="125.9" r="7.1" fill="#f9b8a3"/><circle cx="1680.6" cy="155.1" r="7.1" fill="#fbcdbd"/><circle cx="1224.0" cy="213.4" r="6.5" fill="#f3886c"/><circle cx="1680.6" cy="242.6" r="6.5" fill="#f9bea9"/><circle cx="1414.2" cy="301.0" r="7.1" fill="#f9bea9"/><circle cx="1414.2" cy="359.3" r="7.1" fill="#f48e73"/><circle cx="1414.2" cy="388.5" r="7.1" fill="#f8ad96"/><circle cx="1338.1" cy="505.2" r="6.5" fill="#fef0ea"/><circle cx="1680.6" cy="651.1" r="7.1" fill="#fac3b0"/><circle cx="1414.2" cy="913.7" r="6.5" fill="#f9b8a3"/><circle cx="1414.2" cy="942.9" r="6.5" fill="#f9bea9"/><circle cx="1414.2" cy="1030.5" r="6.5" fill="#f7a88f"/><circle cx="1414.2" cy="1059.6" r="6.5" fill="#f7a88f"/><circle cx="1414.2" cy="1088.8" r="6.5" fill="#f6a48b"/><circle cx="1680.6" cy="1176.4" r="7.1" fill="#f6a48b"/><circle cx="1224.0" cy="1263.9" r="6.5" fill="#f27d5f"/><circle cx="1224.0" cy="1293.1" r="7.1" fill="#f7f4fa"/><circle cx="1680.6" cy="1293.1" r="7.1" fill="#fac3b0"/><circle cx="1680.6" cy="1322.3" r="7.1" fill="#f3886c"/><circle cx="1185.9" cy="446.9" r="6.4" fill="#fac3b0"/><circle cx="1185.9" cy="476.0" r="7.0" fill="#f4937a"/><circle cx="1300.1" cy="476.0" r="7.0" fill="#f7a88f"/><circle cx="1300.1" cy="621.9" r="6.4" fill="#f8ad96"/><circle cx="1300.1" cy="651.1" r="6.4" fill="#f8b39c"/><circle cx="1300.1" cy="680.3" r="6.4" fill="#f7a88f"/><circle cx="1300.1" cy="709.5" r="6.4" fill="#f6a48b"/><circle cx="1185.9" cy="797.0" r="7.0" fill="#fef0ea"/><circle cx="1300.1" cy="826.2" r="6.4" fill="#f5977e"/><circle cx="1185.9" cy="1059.6" r="7.0" fill="#fff9f7"/><circle cx="1185.9" cy="1322.3" r="6.4" fill="#fac3b0"/><circle cx="1185.9" cy="1409.8" r="6.4" fill="#f8ad96"/><circle cx="1185.9" cy="1526.5" r="6.4" fill="#f59b82"/><circle cx="1185.9" cy="1555.7" r="6.4" fill="#f5977e"/><circle cx="1185.9" cy="1584.9" r="6.4" fill="#f5977e"/><circle cx="1604.5" cy="96.7" r="6.9" fill="#f9b8a3"/><circle cx="1376.2" cy="155.1" r="6.9" fill="#f27d5f"/><circle cx="1224.0" cy="184.2" r="6.9" fill="#f5f0f8"/><circle cx="1490.3" cy="213.4" r="6.9" fill="#ef4f34"/><circle cx="1224.0" cy="301.0" r="6.9" fill="#f2ecf6"/><circle cx="1262.0" cy="301.0" r="6.9" fill="#fff9f7"/><circle cx="1224.0" cy="417.7" r="6.9" fill="#fef3ee"/><circle cx="1224.0" cy="563.6" r="6.9" fill="#fff9f7"/><circle cx="1224.0" cy="592.8" r="6.9" fill="#fef3ee"/><circle cx="1224.0" cy="621.9" r="6.9" fill="#f7f4fa"/><circle cx="1262.0" cy="797.0" r="6.3" fill="#f8f6fa"/><circle cx="1224.0" cy="826.2" r="6.9" fill="#f2ecf6"/><circle cx="1224.0" cy="1030.5" r="6.9" fill="#f5f0f8"/><circle cx="1490.3" cy="1118.0" r="6.9" fill="#fcd7ca"/><circle cx="1338.1" cy="1322.3" r="6.9" fill="#fbcdbd"/><circle cx="1528.4" cy="1380.6" r="6.9" fill="#f8b39c"/><circle cx="1262.0" cy="1409.8" r="6.9" fill="#fac8b6"/><circle cx="1528.4" cy="1468.2" r="6.9" fill="#fac3b0"/><circle cx="1338.1" cy="1497.3" r="6.9" fill="#fcd7ca"/><circle cx="1224.0" cy="1672.4" r="6.9" fill="#fbd2c3"/><circle cx="1338.1" cy="1672.4" r="6.9" fill="#fac3b0"/><circle cx="1414.2" cy="242.6" r="6.2" fill="#f8ad96"/><circle cx="1414.2" cy="330.1" r="6.7" fill="#fcd7ca"/><circle cx="1452.2" cy="388.5" r="6.7" fill="#a08ec4"/><circle cx="1224.0" cy="476.0" r="6.1" fill="#e8ddef"/><circle cx="1224.0" cy="505.2" r="6.7" fill="#e3d6ec"/><circle cx="1680.6" cy="592.8" r="6.7" fill="#f9bea9"/><circle cx="1680.6" cy="738.7" r="6.7" fill="#f9bea9"/><circle cx="1680.6" cy="942.9" r="6.7" fill="#fcd7ca"/><circle cx="1262.0" cy="1001.3" r="6.7" fill="#fef6f2"/><circle cx="1414.2" cy="1001.3" r="6.1" fill="#f7a88f"/><circle cx="1414.2" cy="1118.0" r="6.1" fill="#f59b82"/><circle cx="1680.6" cy="1118.0" r="6.7" fill="#fbd2c3"/><circle cx="1262.0" cy="1147.2" r="6.7" fill="#feede7"/><circle cx="1680.6" cy="1351.4" r="6.7" fill="#fcdcd0"/><circle cx="1680.6" cy="1380.6" r="6.7" fill="#f6a087"/><circle cx="1338.1" cy="1439.0" r="6.7" fill="#fac3b0"/><circle cx="1680.6" cy="1439.0" r="6.7" fill="#fac8b6"/><circle cx="1338.1" cy="1468.2" r="6.7" fill="#fbcdbd"/><circle cx="1680.6" cy="1468.2" r="6.7" fill="#fbd2c3"/><circle cx="1338.1" cy="1526.5" r="6.7" fill="#f5977e"/><circle cx="1224.0" cy="1555.7" r="6.7" fill="#fcd7ca"/><circle cx="1338.1" cy="1643.2" r="6.7" fill="#f6a48b"/><circle cx="1300.1" cy="242.6" r="6.0" fill="#fac3b0"/><circle cx="1300.1" cy="534.4" r="6.0" fill="#f9b8a3"/><circle cx="1224.0" cy="709.5" r="6.0" fill="#fde9e1"/><circle cx="1185.9" cy="738.7" r="6.0" fill="#f0e9f5"/><circle cx="1300.1" cy="942.9" r="6.6" fill="#fcdcd0"/><circle cx="1300.1" cy="1118.0" r="6.6" fill="#f9bea9"/><circle cx="1300.1" cy="1263.9" r="6.6" fill="#ec2227"/><circle cx="1300.1" cy="1468.2" r="6.0" fill="#f4937a"/><circle cx="1300.1" cy="1614.1" r="6.6" fill="#ef4f34"/><circle cx="1528.4" cy="184.2" r="6.5" fill="#fde3d9"/><circle cx="1185.9" cy="388.5" r="6.5" fill="#fac3b0"/><circle cx="1490.3" cy="417.7" r="6.5" fill="#fcdcd0"/><circle cx="1185.9" cy="505.2" r="6.5" fill="#fac3b0"/><circle cx="1262.0" cy="651.1" r="6.5" fill="#fde9e1"/><circle cx="1338.1" cy="651.1" r="6.5" fill="#fde9e1"/><circle cx="1338.1" cy="709.5" r="6.5" fill="#feede7"/><circle cx="1262.0" cy="913.7" r="5.9" fill="#f2ecf6"/><circle cx="1338.1" cy="913.7" r="6.5" fill="#fef6f2"/><circle cx="1680.6" cy="913.7" r="6.5" fill="#fcd7ca"/><circle cx="1338.1" cy="1001.3" r="6.5" fill="#fef6f2"/><circle cx="1680.6" cy="1030.5" r="6.5" fill="#fbd2c3"/><circle cx="1262.0" cy="1059.6" r="5.9" fill="#ffffff"/><circle cx="1528.4" cy="1059.6" r="6.5" fill="#fde9e1"/><circle cx="1185.9" cy="1176.4" r="6.5" fill="#fcd7ca"/><circle cx="1185.9" cy="1205.5" r="6.5" fill="#f8f6fa"/><circle cx="1528.4" cy="1497.3" r="6.5" fill="#fac8b6"/><circle cx="1642.5" cy="184.2" r="6.3" fill="#d3c3e1"/><circle cx="1680.6" cy="505.2" r="6.3" fill="#f9b8a3"/><circle cx="1680.6" cy="563.6" r="6.3" fill="#fcdcd0"/><circle cx="1680.6" cy="972.1" r="6.3" fill="#fcd7ca"/><circle cx="1528.4" cy="1322.3" r="6.3" fill="#f8ad96"/><circle cx="1680.6" cy="1497.3" r="6.3" fill="#fbd2c3"/><circle cx="1414.2" cy="534.4" r="6.2" fill="#fac3b0"/><circle cx="1338.1" cy="592.8" r="6.2" fill="#fcdcd0"/><circle cx="1262.0" cy="1263.9" r="6.2" fill="#fac8b6"/><circle cx="1414.2" cy="1380.6" r="6.2" fill="#f8ad96"/><circle cx="1185.9" cy="1263.9" r="6.1" fill="#f9b8a3"/><circle cx="1262.0" cy="155.1" r="6.0" fill="#fef0ea"/><circle cx="1566.4" cy="155.1" r="6.0" fill="#fac3b0"/><circle cx="1300.1" cy="184.2" r="6.0" fill="#f8ad96"/><circle cx="1414.2" cy="184.2" r="6.0" fill="#f27252"/><circle cx="1262.0" cy="213.4" r="6.0" fill="#ede4f2"/><circle cx="1414.2" cy="213.4" r="6.0" fill="#f27252"/><circle cx="1300.1" cy="417.7" r="6.0" fill="#fbd2c3"/><circle cx="1528.4" cy="534.4" r="6.0" fill="#fde3d9"/><circle cx="1528.4" cy="709.5" r="6.0" fill="#fde3d9"/><circle cx="1338.1" cy="767.8" r="6.0" fill="#fef0ea"/><circle cx="1528.4" cy="767.8" r="6.0" fill="#feede7"/><circle cx="1490.3" cy="942.9" r="6.0" fill="#fcd7ca"/><circle cx="1528.4" cy="972.1" r="6.0" fill="#fcd7ca"/><circle cx="1490.3" cy="1001.3" r="6.0" fill="#fac8b6"/><circle cx="1528.4" cy="1088.8" r="6.0" fill="#fcd7ca"/><circle cx="1528.4" cy="1118.0" r="6.0" fill="#fde3d9"/><circle cx="1338.1" cy="1293.1" r="6.0" fill="#fef3ee"/><circle cx="1224.0" cy="1409.8" r="6.0" fill="#fac8b6"/><circle cx="1300.1" cy="1293.1" r="5.9" fill="#fde9e1"/><circle cx="1376.2" cy="1439.0" r="5.9" fill="#ef4930"/><circle cx="1376.2" cy="1468.2" r="5.9" fill="#f27252"/><circle cx="1528.4" cy="1672.4" r="5.9" fill="#fac3b0"/><circle cx="1566.4" cy="388.5" r="5.8" fill="#d3c3e1"/><circle cx="1680.6" cy="388.5" r="5.8" fill="#f9b8a3"/><circle cx="1680.6" cy="534.4" r="5.8" fill="#fde9e1"/><circle cx="1414.2" cy="563.6" r="5.8" fill="#fcdcd0"/><circle cx="1224.0" cy="797.0" r="5.8" fill="#faf7fb"/><circle cx="1224.0" cy="855.4" r="5.8" fill="#fbcdbd"/><circle cx="1224.0" cy="884.6" r="5.8" fill="#6d62ac"/><circle cx="1680.6" cy="1088.8" r="5.8" fill="#fbd2c3"/><circle cx="1414.2" cy="1293.1" r="5.8" fill="#fbcdbd"/><circle cx="1414.2" cy="1351.4" r="5.8" fill="#fbd2c3"/><circle cx="1338.1" cy="1409.8" r="5.8" fill="#fac8b6"/><circle cx="1490.3" cy="1468.2" r="5.8" fill="#fcd7ca"/><circle cx="1338.1" cy="1584.9" r="5.8" fill="#fac8b6"/><circle cx="1300.1" cy="96.7" r="5.6" fill="#fef0ea"/><circle cx="1490.3" cy="96.7" r="5.6" fill="#feede7"/><circle cx="1604.5" cy="125.9" r="5.6" fill="#fac3b0"/><circle cx="1376.2" cy="330.1" r="5.6" fill="#f27858"/><circle cx="1528.4" cy="388.5" r="5.6" fill="#fbcdbd"/><circle cx="1528.4" cy="417.7" r="5.6" fill="#fde9e1"/><circle cx="1528.4" cy="446.9" r="5.6" fill="#fac8b6"/><circle cx="1262.0" cy="476.0" r="5.6" fill="#ded0e8"/><circle cx="1528.4" cy="505.2" r="5.6" fill="#fef0ea"/><circle cx="1376.2" cy="563.6" r="5.6" fill="#f48e73"/><circle cx="1528.4" cy="563.6" r="5.6" fill="#fef0ea"/><circle cx="1528.4" cy="651.1" r="5.6" fill="#fde3d9"/><circle cx="1262.0" cy="709.5" r="5.6" fill="#fef0ea"/><circle cx="1680.6" cy="797.0" r="5.6" fill="#fcd7ca"/><circle cx="1262.0" cy="826.2" r="5.6" fill="#fef3ee"/><circle cx="1528.4" cy="826.2" r="5.6" fill="#fac3b0"/><circle cx="1338.1" cy="855.4" r="5.6" fill="#f8f6fa"/><circle cx="1528.4" cy="855.4" r="5.6" fill="#feede7"/><circle cx="1185.9" cy="913.7" r="5.6" fill="#fffefd"/><circle cx="1604.5" cy="913.7" r="5.6" fill="#d8cae4"/><circle cx="1528.4" cy="942.9" r="5.6" fill="#feede7"/><circle cx="1566.4" cy="942.9" r="5.6" fill="#fcd7ca"/><circle cx="1376.2" cy="1118.0" r="5.6" fill="#f4937a"/><circle cx="1224.0" cy="1147.2" r="5.6" fill="#fde9e1"/><circle cx="1528.4" cy="1147.2" r="5.6" fill="#fcdcd0"/><circle cx="1528.4" cy="1176.4" r="5.6" fill="#fac3b0"/><circle cx="1338.1" cy="1263.9" r="5.6" fill="#f9bea9"/><circle cx="1224.0" cy="1322.3" r="5.6" fill="#fcd7ca"/><circle cx="1604.5" cy="1351.4" r="5.6" fill="#ded0e8"/><circle cx="1262.0" cy="1380.6" r="5.6" fill="#fde3d9"/><circle cx="1224.0" cy="1439.0" r="5.6" fill="#fef0ea"/><circle cx="1224.0" cy="1468.2" r="5.6" fill="#fcfbfd"/><circle cx="1224.0" cy="1497.3" r="5.6" fill="#ede4f2"/><circle cx="1490.3" cy="1497.3" r="5.6" fill="#fbcdbd"/><circle cx="1262.0" cy="1526.5" r="5.6" fill="#d3c3e1"/><circle cx="1262.0" cy="1555.7" r="5.6" fill="#8b7ab9"/><circle cx="1224.0" cy="1614.1" r="5.6" fill="#fcdcd0"/><circle cx="1224.0" cy="1643.2" r="5.6" fill="#fbd2c3"/><circle cx="1224.0" cy="446.9" r="5.5" fill="#fff9f7"/><circle cx="1224.0" cy="1584.9" r="5.5" fill="#fbd2c3"/><circle cx="1566.4" cy="96.7" r="5.4" fill="#fde3d9"/><circle cx="1680.6" cy="96.7" r="5.4" fill="#fde9e1"/><circle cx="1528.4" cy="271.8" r="5.4" fill="#fbcdbd"/><circle cx="1185.9" cy="1030.5" r="5.4" fill="#faf7fb"/><circle cx="1680.6" cy="1059.6" r="5.4" fill="#fde9e1"/><circle cx="1300.1" cy="1322.3" r="5.4" fill="#fac3b0"/><circle cx="1490.3" cy="184.2" r="5.2" fill="#fde3d9"/><circle cx="1262.0" cy="242.6" r="5.2" fill="#fef8f4"/><circle cx="1604.5" cy="446.9" r="5.2" fill="#5a55a5"/><circle cx="1185.9" cy="592.8" r="5.2" fill="#fef0ea"/><circle cx="1680.6" cy="709.5" r="5.2" fill="#fde3d9"/><circle cx="1262.0" cy="1584.9" r="5.2" fill="#fcdcd0"/><circle cx="1262.0" cy="1643.2" r="5.2" fill="#fac3b0"/><circle cx="1338.1" cy="271.8" r="5.1" fill="#fac8b6"/><circle cx="1604.5" cy="155.1" r="5.0" fill="#fcd7ca"/><circle cx="1642.5" cy="155.1" r="5.0" fill="#fcdcd0"/><circle cx="1300.1" cy="972.1" r="5.0" fill="#fef0ea"/><circle cx="1300.1" cy="1176.4" r="5.0" fill="#fde3d9"/><circle cx="1300.1" cy="1380.6" r="5.0" fill="#fac3b0"/><circle cx="1490.3" cy="271.8" r="4.9" fill="#fcd7ca"/><circle cx="1490.3" cy="446.9" r="4.9" fill="#f8b39c"/><circle cx="1528.4" cy="1526.5" r="4.9" fill="#f3886c"/><circle cx="1642.5" cy="125.9" r="4.8" fill="#f2ecf6"/><circle cx="1376.2" cy="184.2" r="4.8" fill="#a08ec4"/><circle cx="1680.6" cy="184.2" r="4.8" fill="#fde3d9"/><circle cx="1452.2" cy="213.4" r="4.8" fill="#fde3d9"/><circle cx="1566.4" cy="213.4" r="4.8" fill="#ec2227"/><circle cx="1604.5" cy="213.4" r="4.8" fill="#f4937a"/><circle cx="1376.2" cy="242.6" r="4.8" fill="#fde3d9"/><circle cx="1452.2" cy="242.6" r="4.8" fill="#fef6f2"/><circle cx="1604.5" cy="242.6" r="4.8" fill="#fef3ee"/><circle cx="1642.5" cy="242.6" r="4.8" fill="#f2ecf6"/><circle cx="1185.9" cy="271.8" r="4.8" fill="#fef6f2"/><circle cx="1376.2" cy="271.8" r="4.8" fill="#fde3d9"/><circle cx="1452.2" cy="271.8" r="4.8" fill="#f4937a"/><circle cx="1604.5" cy="271.8" r="4.8" fill="#fbd2c3"/><circle cx="1642.5" cy="271.8" r="4.8" fill="#fcd7ca"/><circle cx="1680.6" cy="271.8" r="4.8" fill="#fef0ea"/><circle cx="1452.2" cy="301.0" r="4.8" fill="#f7a88f"/><circle cx="1604.5" cy="301.0" r="4.8" fill="#fef8f4"/><circle cx="1452.2" cy="330.1" r="4.8" fill="#fde9e1"/><circle cx="1604.5" cy="330.1" r="4.8" fill="#fbcdbd"/><circle cx="1642.5" cy="330.1" r="4.8" fill="#fef8f4"/><circle cx="1300.1" cy="388.5" r="4.8" fill="#fffefd"/><circle cx="1490.3" cy="388.5" r="4.8" fill="#f8f6fa"/><circle cx="1604.5" cy="388.5" r="4.8" fill="#f8f6fa"/><circle cx="1642.5" cy="388.5" r="4.8" fill="#fef3ee"/><circle cx="1376.2" cy="417.7" r="4.8" fill="#f5f0f8"/><circle cx="1452.2" cy="417.7" r="4.8" fill="#fde3d9"/><circle cx="1604.5" cy="417.7" r="4.8" fill="#f6a48b"/><circle cx="1642.5" cy="417.7" r="4.8" fill="#fef8f4"/><circle cx="1262.0" cy="446.9" r="4.8" fill="#fde9e1"/><circle cx="1376.2" cy="446.9" r="4.8" fill="#fff9f7"/><circle cx="1452.2" cy="446.9" r="4.8" fill="#fef6f2"/><circle cx="1490.3" cy="476.0" r="4.8" fill="#fde3d9"/><circle cx="1528.4" cy="476.0" r="4.8" fill="#fac3b0"/><circle cx="1566.4" cy="476.0" r="4.8" fill="#fbd2c3"/><circle cx="1604.5" cy="476.0" r="4.8" fill="#fde3d9"/><circle cx="1642.5" cy="476.0" r="4.8" fill="#fbd2c3"/><circle cx="1376.2" cy="505.2" r="4.8" fill="#fde9e1"/><circle cx="1566.4" cy="505.2" r="4.8" fill="#fde3d9"/><circle cx="1604.5" cy="505.2" r="4.8" fill="#f6a48b"/><circle cx="1642.5" cy="505.2" r="4.8" fill="#f0e9f5"/><circle cx="1376.2" cy="534.4" r="4.8" fill="#fef8f4"/><circle cx="1452.2" cy="534.4" r="4.8" fill="#fbd2c3"/><circle cx="1490.3" cy="534.4" r="4.8" fill="#fde9e1"/><circle cx="1566.4" cy="534.4" r="4.8" fill="#feede7"/><circle cx="1604.5" cy="534.4" r="4.8" fill="#fbd2c3"/><circle cx="1642.5" cy="534.4" r="4.8" fill="#feede7"/><circle cx="1452.2" cy="563.6" r="4.8" fill="#f7a88f"/><circle cx="1490.3" cy="563.6" r="4.8" fill="#fef3ee"/><circle cx="1566.4" cy="563.6" r="4.8" fill="#fde3d9"/><circle cx="1604.5" cy="563.6" r="4.8" fill="#fbd2c3"/><circle cx="1642.5" cy="563.6" r="4.8" fill="#fbd2c3"/><circle cx="1376.2" cy="592.8" r="4.8" fill="#feede7"/><circle cx="1452.2" cy="592.8" r="4.8" fill="#e8ddef"/><circle cx="1490.3" cy="592.8" r="4.8" fill="#fde3d9"/><circle cx="1528.4" cy="592.8" r="4.8" fill="#ffffff"/><circle cx="1566.4" cy="592.8" r="4.8" fill="#fcdcd0"/><circle cx="1604.5" cy="592.8" r="4.8" fill="#fde9e1"/><circle cx="1185.9" cy="621.9" r="4.8" fill="#fff9f7"/><circle cx="1452.2" cy="621.9" r="4.8" fill="#f59b82"/><circle cx="1490.3" cy="621.9" r="4.8" fill="#f8b39c"/><circle cx="1528.4" cy="621.9" r="4.8" fill="#fde3d9"/><circle cx="1604.5" cy="621.9" r="4.8" fill="#d8cae4"/><circle cx="1452.2" cy="651.1" r="4.8" fill="#fcd7ca"/><circle cx="1490.3" cy="651.1" r="4.8" fill="#fde3d9"/><circle cx="1566.4" cy="651.1" r="4.8" fill="#fbd2c3"/><circle cx="1604.5" cy="651.1" r="4.8" fill="#e8ddef"/><circle cx="1642.5" cy="651.1" r="4.8" fill="#fde3d9"/><circle cx="1338.1" cy="680.3" r="4.8" fill="#feede7"/><circle cx="1566.4" cy="680.3" r="4.8" fill="#c3b1d9"/><circle cx="1642.5" cy="680.3" r="4.8" fill="#f4937a"/><circle cx="1680.6" cy="680.3" r="4.8" fill="#f7a88f"/><circle cx="1566.4" cy="709.5" r="4.8" fill="#fef0ea"/><circle cx="1452.2" cy="738.7" r="4.8" fill="#fbcdbd"/><circle cx="1490.3" cy="738.7" r="4.8" fill="#fde9e1"/><circle cx="1566.4" cy="738.7" r="4.8" fill="#fef3ee"/><circle cx="1185.9" cy="767.8" r="4.8" fill="#fbf9fc"/><circle cx="1224.0" cy="767.8" r="4.8" fill="#fffaf9"/><circle cx="1262.0" cy="767.8" r="4.8" fill="#fef8f4"/><circle cx="1452.2" cy="767.8" r="4.8" fill="#fef3ee"/><circle cx="1490.3" cy="767.8" r="4.8" fill="#fcdcd0"/><circle cx="1566.4" cy="767.8" r="4.8" fill="#fde3d9"/><circle cx="1604.5" cy="767.8" r="4.8" fill="#fef3ee"/><circle cx="1642.5" cy="767.8" r="4.8" fill="#feede7"/><circle cx="1338.1" cy="797.0" r="4.8" fill="#fef0ea"/><circle cx="1452.2" cy="797.0" r="4.8" fill="#fac8b6"/><circle cx="1528.4" cy="797.0" r="4.8" fill="#fde3d9"/><circle cx="1566.4" cy="797.0" r="4.8" fill="#fcd7ca"/><circle cx="1452.2" cy="826.2" r="4.8" fill="#fde9e1"/><circle cx="1490.3" cy="826.2" r="4.8" fill="#fde3d9"/><circle cx="1566.4" cy="826.2" r="4.8" fill="#f9bea9"/><circle cx="1604.5" cy="826.2" r="4.8" fill="#fde9e1"/><circle cx="1642.5" cy="826.2" r="4.8" fill="#fde3d9"/><circle cx="1680.6" cy="826.2" r="4.8" fill="#f9b8a3"/><circle cx="1185.9" cy="855.4" r="4.8" fill="#fef6f2"/><circle cx="1262.0" cy="855.4" r="4.8" fill="#ffffff"/><circle cx="1452.2" cy="855.4" r="4.8" fill="#cfbedf"/><circle cx="1490.3" cy="855.4" r="4.8" fill="#fcdcd0"/><circle cx="1566.4" cy="855.4" r="4.8" fill="#f5f0f8"/><circle cx="1642.5" cy="855.4" r="4.8" fill="#e8ddef"/><circle cx="1185.9" cy="884.6" r="4.8" fill="#fcdcd0"/><circle cx="1338.1" cy="884.6" r="4.8" fill="#fcdcd0"/><circle cx="1452.2" cy="884.6" r="4.8" fill="#ede4f2"/><circle cx="1490.3" cy="884.6" r="4.8" fill="#fcd7ca"/><circle cx="1528.4" cy="884.6" r="4.8" fill="#fef6f2"/><circle cx="1566.4" cy="884.6" r="4.8" fill="#f9bea9"/><circle cx="1604.5" cy="884.6" r="4.8" fill="#fac8b6"/><circle cx="1642.5" cy="884.6" r="4.8" fill="#e8ddef"/><circle cx="1680.6" cy="884.6" r="4.8" fill="#fac8b6"/><circle cx="1452.2" cy="913.7" r="4.8" fill="#feede7"/><circle cx="1490.3" cy="913.7" r="4.8" fill="#feede7"/><circle cx="1566.4" cy="913.7" r="4.8" fill="#fde9e1"/><circle cx="1642.5" cy="913.7" r="4.8" fill="#f2ecf6"/><circle cx="1452.2" cy="942.9" r="4.8" fill="#fcd7ca"/><circle cx="1604.5" cy="942.9" r="4.8" fill="#feede7"/><circle cx="1452.2" cy="972.1" r="4.8" fill="#f59b82"/><circle cx="1490.3" cy="972.1" r="4.8" fill="#fac3b0"/><circle cx="1566.4" cy="972.1" r="4.8" fill="#fcdcd0"/><circle cx="1604.5" cy="972.1" r="4.8" fill="#fcdcd0"/><circle cx="1642.5" cy="972.1" r="4.8" fill="#f8b39c"/><circle cx="1452.2" cy="1001.3" r="4.8" fill="#fcd7ca"/><circle cx="1566.4" cy="1001.3" r="4.8" fill="#fde9e1"/><circle cx="1604.5" cy="1001.3" r="4.8" fill="#f2ecf6"/><circle cx="1642.5" cy="1001.3" r="4.8" fill="#feede7"/><circle cx="1680.6" cy="1001.3" r="4.8" fill="#fef3ee"/><circle cx="1338.1" cy="1030.5" r="4.8" fill="#fcfbfd"/><circle cx="1452.2" cy="1030.5" r="4.8" fill="#feede7"/><circle cx="1604.5" cy="1030.5" r="4.8" fill="#fcdcd0"/><circle cx="1642.5" cy="1030.5" r="4.8" fill="#f2ecf6"/><circle cx="1452.2" cy="1059.6" r="4.8" fill="#fde9e1"/><circle cx="1490.3" cy="1059.6" r="4.8" fill="#feede7"/><circle cx="1566.4" cy="1059.6" r="4.8" fill="#fde3d9"/><circle cx="1604.5" cy="1059.6" r="4.8" fill="#fcd7ca"/><circle cx="1642.5" cy="1059.6" r="4.8" fill="#fac8b6"/><circle cx="1224.0" cy="1088.8" r="4.8" fill="#fcfbfd"/><circle cx="1452.2" cy="1088.8" r="4.8" fill="#fac8b6"/><circle cx="1490.3" cy="1088.8" r="4.8" fill="#fde9e1"/><circle cx="1566.4" cy="1088.8" r="4.8" fill="#fef6f2"/><circle cx="1604.5" cy="1088.8" r="4.8" fill="#fef0ea"/><circle cx="1642.5" cy="1088.8" r="4.8" fill="#fde3d9"/><circle cx="1452.2" cy="1118.0" r="4.8" fill="#f8ad96"/><circle cx="1566.4" cy="1118.0" r="4.8" fill="#fcdcd0"/><circle cx="1604.5" cy="1118.0" r="4.8" fill="#fac3b0"/><circle cx="1642.5" cy="1118.0" r="4.8" fill="#f9bea9"/><circle cx="1452.2" cy="1147.2" r="4.8" fill="#fac3b0"/><circle cx="1490.3" cy="1147.2" r="4.8" fill="#fcdcd0"/><circle cx="1566.4" cy="1147.2" r="4.8" fill="#fde3d9"/><circle cx="1604.5" cy="1147.2" r="4.8" fill="#fde3d9"/><circle cx="1642.5" cy="1147.2" r="4.8" fill="#fef0ea"/><circle cx="1680.6" cy="1147.2" r="4.8" fill="#fde9e1"/><circle cx="1338.1" cy="1176.4" r="4.8" fill="#fef3ee"/><circle cx="1452.2" cy="1176.4" r="4.8" fill="#f3886c"/><circle cx="1566.4" cy="1176.4" r="4.8" fill="#fac8b6"/><circle cx="1604.5" cy="1176.4" r="4.8" fill="#f7a88f"/><circle cx="1642.5" cy="1176.4" r="4.8" fill="#f9b8a3"/><circle cx="1452.2" cy="1205.5" r="4.8" fill="#f9bea9"/><circle cx="1490.3" cy="1205.5" r="4.8" fill="#fac8b6"/><circle cx="1528.4" cy="1205.5" r="4.8" fill="#fcd7ca"/><circle cx="1604.5" cy="1205.5" r="4.8" fill="#fcdcd0"/><circle cx="1642.5" cy="1205.5" r="4.8" fill="#fde9e1"/><circle cx="1680.6" cy="1205.5" r="4.8" fill="#fcd7ca"/><circle cx="1185.9" cy="1234.7" r="4.8" fill="#fde9e1"/><circle cx="1262.0" cy="1234.7" r="4.8" fill="#fde3d9"/><circle cx="1338.1" cy="1234.7" r="4.8" fill="#fcdcd0"/><circle cx="1452.2" cy="1234.7" r="4.8" fill="#f6a48b"/><circle cx="1490.3" cy="1234.7" r="4.8" fill="#fde9e1"/><circle cx="1566.4" cy="1234.7" r="4.8" fill="#c3b1d9"/><circle cx="1642.5" cy="1234.7" r="4.8" fill="#fef0ea"/><circle cx="1452.2" cy="1263.9" r="4.8" fill="#f05a3c"/><circle cx="1490.3" cy="1263.9" r="4.8" fill="#fbd2c3"/><circle cx="1528.4" cy="1263.9" r="4.8" fill="#fbd2c3"/><circle cx="1566.4" cy="1263.9" r="4.8" fill="#fac3b0"/><circle cx="1642.5" cy="1263.9" r="4.8" fill="#fcd7ca"/><circle cx="1680.6" cy="1263.9" r="4.8" fill="#f6a087"/><circle cx="1452.2" cy="1293.1" r="4.8" fill="#f8b39c"/><circle cx="1490.3" cy="1293.1" r="4.8" fill="#fde3d9"/><circle cx="1528.4" cy="1293.1" r="4.8" fill="#fef3ee"/><circle cx="1566.4" cy="1293.1" r="4.8" fill="#fbd2c3"/><circle cx="1604.5" cy="1293.1" r="4.8" fill="#fac3b0"/><circle cx="1642.5" cy="1293.1" r="4.8" fill="#fde3d9"/><circle cx="1452.2" cy="1322.3" r="4.8" fill="#fef6f2"/><circle cx="1490.3" cy="1322.3" r="4.8" fill="#fde3d9"/><circle cx="1566.4" cy="1322.3" r="4.8" fill="#fcdcd0"/><circle cx="1604.5" cy="1322.3" r="4.8" fill="#f8ad96"/><circle cx="1642.5" cy="1322.3" r="4.8" fill="#fbd2c3"/><circle cx="1452.2" cy="1351.4" r="4.8" fill="#f8b39c"/><circle cx="1490.3" cy="1351.4" r="4.8" fill="#feede7"/><circle cx="1566.4" cy="1351.4" r="4.8" fill="#f2ecf6"/><circle cx="1452.2" cy="1380.6" r="4.8" fill="#fac8b6"/><circle cx="1490.3" cy="1380.6" r="4.8" fill="#fbd2c3"/><circle cx="1566.4" cy="1380.6" r="4.8" fill="#fbd2c3"/><circle cx="1604.5" cy="1380.6" r="4.8" fill="#f6a087"/><circle cx="1642.5" cy="1380.6" r="4.8" fill="#f6a087"/><circle cx="1452.2" cy="1409.8" r="4.8" fill="#fbd2c3"/><circle cx="1490.3" cy="1409.8" r="4.8" fill="#f6a087"/><circle cx="1528.4" cy="1409.8" r="4.8" fill="#fcfbfd"/><circle cx="1566.4" cy="1409.8" r="4.8" fill="#fbd2c3"/><circle cx="1604.5" cy="1409.8" r="4.8" fill="#b2a0ce"/><circle cx="1642.5" cy="1409.8" r="4.8" fill="#f8b39c"/><circle cx="1680.6" cy="1409.8" r="4.8" fill="#fac8b6"/><circle cx="1452.2" cy="1439.0" r="4.8" fill="#fef0ea"/><circle cx="1490.3" cy="1439.0" r="4.8" fill="#fef3ee"/><circle cx="1566.4" cy="1439.0" r="4.8" fill="#fcdcd0"/><circle cx="1604.5" cy="1439.0" r="4.8" fill="#fbcdbd"/><circle cx="1642.5" cy="1439.0" r="4.8" fill="#e8ddef"/><circle cx="1452.2" cy="1468.2" r="4.8" fill="#f8f6fa"/><circle cx="1566.4" cy="1468.2" r="4.8" fill="#fbd2c3"/><circle cx="1604.5" cy="1468.2" r="4.8" fill="#fde3d9"/><circle cx="1452.2" cy="1497.3" r="4.8" fill="#f9bea9"/><circle cx="1566.4" cy="1497.3" r="4.8" fill="#fcdcd0"/><circle cx="1604.5" cy="1497.3" r="4.8" fill="#fcd7ca"/><circle cx="1642.5" cy="1497.3" r="4.8" fill="#f8f6fa"/><circle cx="1452.2" cy="1526.5" r="4.8" fill="#f5977e"/><circle cx="1490.3" cy="1526.5" r="4.8" fill="#ee3828"/><circle cx="1566.4" cy="1526.5" r="4.8" fill="#f7a88f"/><circle cx="1604.5" cy="1526.5" r="4.8" fill="#f27d5f"/><circle cx="1642.5" cy="1526.5" r="4.8" fill="#f38366"/><circle cx="1680.6" cy="1526.5" r="4.8" fill="#f38366"/><circle cx="1338.1" cy="1555.7" r="4.8" fill="#fff9f7"/><circle cx="1452.2" cy="1555.7" r="4.8" fill="#fde9e1"/><circle cx="1490.3" cy="1555.7" r="4.8" fill="#f5f0f8"/><circle cx="1528.4" cy="1555.7" r="4.8" fill="#fcd7ca"/><circle cx="1566.4" cy="1555.7" r="4.8" fill="#fcdcd0"/><circle cx="1604.5" cy="1555.7" r="4.8" fill="#f0e9f5"/><circle cx="1642.5" cy="1555.7" r="4.8" fill="#f5f0f8"/><circle cx="1680.6" cy="1555.7" r="4.8" fill="#fcd7ca"/><circle cx="1452.2" cy="1584.9" r="4.8" fill="#fcd7ca"/><circle cx="1490.3" cy="1584.9" r="4.8" fill="#fac8b6"/><circle cx="1528.4" cy="1584.9" r="4.8" fill="#fbd2c3"/><circle cx="1566.4" cy="1584.9" r="4.8" fill="#f5f0f8"/><circle cx="1604.5" cy="1584.9" r="4.8" fill="#e8ddef"/><circle cx="1642.5" cy="1584.9" r="4.8" fill="#fde3d9"/><circle cx="1680.6" cy="1584.9" r="4.8" fill="#feede7"/><circle cx="1452.2" cy="1614.1" r="4.8" fill="#fcfbfd"/><circle cx="1490.3" cy="1614.1" r="4.8" fill="#f9b8a3"/><circle cx="1528.4" cy="1614.1" r="4.8" fill="#fef6f2"/><circle cx="1566.4" cy="1614.1" r="4.8" fill="#fef6f2"/><circle cx="1604.5" cy="1614.1" r="4.8" fill="#fef3ee"/><circle cx="1642.5" cy="1614.1" r="4.8" fill="#fef3ee"/><circle cx="1680.6" cy="1614.1" r="4.8" fill="#fde3d9"/><circle cx="1490.3" cy="1643.2" r="4.8" fill="#ee3e28"/><circle cx="1528.4" cy="1643.2" r="4.8" fill="#f27d5f"/><circle cx="1642.5" cy="1643.2" r="4.8" fill="#8070b4"/><circle cx="1680.6" cy="1643.2" r="4.8" fill="#fcd7ca"/><circle cx="1262.0" cy="1672.4" r="4.8" fill="#feede7"/><circle cx="1452.2" cy="1672.4" r="4.8" fill="#fac8b6"/><circle cx="1490.3" cy="1672.4" r="4.8" fill="#fac8b6"/><circle cx="1566.4" cy="1672.4" r="4.8" fill="#fbd2c3"/><circle cx="1642.5" cy="1672.4" r="4.8" fill="#fac3b0"/><circle cx="1680.6" cy="1672.4" r="4.8" fill="#f8b39c"/><circle cx="1452.2" cy="96.7" r="4.7" fill="#fcd7ca"/><circle cx="1452.2" cy="155.1" r="4.7" fill="#fcd7ca"/><circle cx="1300.1" cy="446.9" r="4.7" fill="#fac3b0"/><circle cx="1376.2" cy="621.9" r="4.7" fill="#f4937a"/><circle cx="1376.2" cy="797.0" r="4.7" fill="#f6a48b"/><circle cx="1376.2" cy="826.2" r="4.7" fill="#fbd2c3"/><circle cx="1376.2" cy="855.4" r="4.7" fill="#fbd2c3"/><circle cx="1376.2" cy="884.6" r="4.7" fill="#f3886c"/><circle cx="1376.2" cy="913.7" r="4.7" fill="#feede7"/><circle cx="1376.2" cy="942.9" r="4.7" fill="#fcdcd0"/><circle cx="1376.2" cy="972.1" r="4.7" fill="#f59b82"/><circle cx="1300.1" cy="1001.3" r="4.7" fill="#fde3d9"/><circle cx="1376.2" cy="1001.3" r="4.7" fill="#f8b39c"/><circle cx="1300.1" cy="1030.5" r="4.7" fill="#fff9f7"/><circle cx="1376.2" cy="1059.6" r="4.7" fill="#f59b82"/><circle cx="1376.2" cy="1088.8" r="4.7" fill="#f27d5f"/><circle cx="1376.2" cy="1147.2" r="4.7" fill="#fac3b0"/><circle cx="1376.2" cy="1176.4" r="4.7" fill="#f38366"/><circle cx="1300.1" cy="1205.5" r="4.7" fill="#c3b1d9"/><circle cx="1376.2" cy="1205.5" r="4.7" fill="#fcdcd0"/><circle cx="1300.1" cy="1234.7" r="4.7" fill="#fef3ee"/><circle cx="1376.2" cy="1293.1" r="4.7" fill="#f9b8a3"/><circle cx="1376.2" cy="1322.3" r="4.7" fill="#ee3828"/><circle cx="1376.2" cy="1351.4" r="4.7" fill="#f8ad96"/><circle cx="1376.2" cy="1380.6" r="4.7" fill="#f8b39c"/><circle cx="1300.1" cy="1409.8" r="4.7" fill="#fac3b0"/><circle cx="1376.2" cy="1409.8" r="4.7" fill="#fbcdbd"/><circle cx="1300.1" cy="1439.0" r="4.7" fill="#fde9e1"/><circle cx="1376.2" cy="1497.3" r="4.7" fill="#f4937a"/><circle cx="1300.1" cy="1526.5" r="4.7" fill="#f5977e"/><circle cx="1300.1" cy="1555.7" r="4.7" fill="#fac8b6"/><circle cx="1376.2" cy="1555.7" r="4.7" fill="#ac9acb"/><circle cx="1300.1" cy="1584.9" r="4.7" fill="#f8ad96"/><circle cx="1376.2" cy="1584.9" r="4.7" fill="#fac3b0"/><circle cx="1376.2" cy="1614.1" r="4.7" fill="#fcd7ca"/><circle cx="1300.1" cy="1643.2" r="4.7" fill="#f3886c"/><circle cx="1300.1" cy="1672.4" r="4.7" fill="#f3886c"/><circle cx="1376.2" cy="1672.4" r="4.7" fill="#f27d5f"/><circle cx="1566.4" cy="184.2" r="4.6" fill="#fef8f4"/><circle cx="1680.6" cy="213.4" r="4.6" fill="#f05a3c"/><circle cx="1224.0" cy="271.8" r="4.6" fill="#fde9e1"/><circle cx="1414.2" cy="271.8" r="4.6" fill="#f8ad96"/><circle cx="1414.2" cy="417.7" r="4.6" fill="#fcd7ca"/><circle cx="1566.4" cy="417.7" r="4.6" fill="#f9b8a3"/><circle cx="1680.6" cy="417.7" r="4.6" fill="#fffaf9"/><circle cx="1414.2" cy="446.9" r="4.6" fill="#fde3d9"/><circle cx="1566.4" cy="446.9" r="4.6" fill="#e3d6ec"/><circle cx="1414.2" cy="476.0" r="4.6" fill="#fcdcd0"/><circle cx="1414.2" cy="505.2" r="4.6" fill="#fef0ea"/><circle cx="1414.2" cy="592.8" r="4.6" fill="#fbcdbd"/><circle cx="1642.5" cy="592.8" r="4.6" fill="#ffffff"/><circle cx="1414.2" cy="621.9" r="4.6" fill="#fac3b0"/><circle cx="1414.2" cy="651.1" r="4.6" fill="#fef3ee"/><circle cx="1414.2" cy="680.3" r="4.6" fill="#fbcdbd"/><circle cx="1414.2" cy="709.5" r="4.6" fill="#fef6f2"/><circle cx="1414.2" cy="738.7" r="4.6" fill="#fef0ea"/><circle cx="1376.2" cy="767.8" r="4.6" fill="#fef0ea"/><circle cx="1414.2" cy="767.8" r="4.6" fill="#fbd2c3"/><circle cx="1414.2" cy="797.0" r="4.6" fill="#fcdcd0"/><circle cx="1414.2" cy="826.2" r="4.6" fill="#fbd2c3"/><circle cx="1414.2" cy="855.4" r="4.6" fill="#f8ad96"/><circle cx="1604.5" cy="855.4" r="4.6" fill="#fef8f4"/><circle cx="1680.6" cy="855.4" r="4.6" fill="#fcfbfd"/><circle cx="1414.2" cy="884.6" r="4.6" fill="#f48e73"/><circle cx="1642.5" cy="942.9" r="4.6" fill="#fff9f7"/><circle cx="1566.4" cy="1030.5" r="4.6" fill="#fbf9fc"/><circle cx="1414.2" cy="1176.4" r="4.6" fill="#fcdcd0"/><circle cx="1414.2" cy="1205.5" r="4.6" fill="#ded0e8"/><circle cx="1414.2" cy="1234.7" r="4.6" fill="#f9b8a3"/><circle cx="1680.6" cy="1234.7" r="4.6" fill="#f0e9f5"/><circle cx="1414.2" cy="1263.9" r="4.6" fill="#ec2227"/><circle cx="1604.5" cy="1263.9" r="4.6" fill="#fff9f7"/><circle cx="1414.2" cy="1322.3" r="4.6" fill="#f59b82"/><circle cx="1414.2" cy="1409.8" r="4.6" fill="#fcd7ca"/><circle cx="1414.2" cy="1439.0" r="4.6" fill="#fef8f4"/><circle cx="1414.2" cy="1468.2" r="4.6" fill="#fac8b6"/><circle cx="1414.2" cy="1497.3" r="4.6" fill="#fac3b0"/><circle cx="1224.0" cy="1526.5" r="4.6" fill="#fef0ea"/><circle cx="1414.2" cy="1526.5" r="4.6" fill="#f9b8a3"/><circle cx="1414.2" cy="1555.7" r="4.6" fill="#f16647"/><circle cx="1414.2" cy="1584.9" r="4.6" fill="#feede7"/><circle cx="1414.2" cy="1614.1" r="4.6" fill="#f16647"/><circle cx="1414.2" cy="1643.2" r="4.6" fill="#ec2227"/><circle cx="1414.2" cy="1672.4" r="4.6" fill="#fcd7ca"/><circle cx="1376.2" cy="301.0" r="4.5" fill="#fac3b0"/><circle cx="1642.5" cy="446.9" r="4.5" fill="#ffffff"/><circle cx="1680.6" cy="446.9" r="4.5" fill="#f0e9f5"/><circle cx="1680.6" cy="476.0" r="4.5" fill="#fef6f2"/><circle cx="1642.5" cy="621.9" r="4.5" fill="#f8f6fa"/><circle cx="1680.6" cy="621.9" r="4.5" fill="#faf7fb"/><circle cx="1376.2" cy="651.1" r="4.5" fill="#fde3d9"/><circle cx="1490.3" cy="680.3" r="4.5" fill="#fcfbfd"/><circle cx="1376.2" cy="709.5" r="4.5" fill="#f0e9f5"/><circle cx="1452.2" cy="709.5" r="4.5" fill="#fcfbfd"/><circle cx="1490.3" cy="709.5" r="4.5" fill="#fef3ee"/><circle cx="1604.5" cy="709.5" r="4.5" fill="#fffaf9"/><circle cx="1642.5" cy="709.5" r="4.5" fill="#fffaf9"/><circle cx="1528.4" cy="738.7" r="4.5" fill="#fffaf9"/><circle cx="1604.5" cy="738.7" r="4.5" fill="#fffcfb"/><circle cx="1642.5" cy="738.7" r="4.5" fill="#fef6f2"/><circle cx="1490.3" cy="797.0" r="4.5" fill="#fff9f7"/><circle cx="1604.5" cy="797.0" r="4.5" fill="#faf7fb"/><circle cx="1642.5" cy="797.0" r="4.5" fill="#fef0ea"/><circle cx="1338.1" cy="826.2" r="4.5" fill="#fef8f4"/><circle cx="1528.4" cy="1001.3" r="4.5" fill="#fffaf9"/><circle cx="1490.3" cy="1030.5" r="4.5" fill="#fffcfb"/><circle cx="1490.3" cy="1176.4" r="4.5" fill="#ffffff"/><circle cx="1566.4" cy="1205.5" r="4.5" fill="#ffffff"/><circle cx="1528.4" cy="1234.7" r="4.5" fill="#fef8f4"/><circle cx="1642.5" cy="1468.2" r="4.5" fill="#fffcfb"/><circle cx="1604.5" cy="1672.4" r="4.5" fill="#fffcfb"/><circle cx="1224.0" cy="96.7" r="4.4" fill="#f8f6fa"/><circle cx="1414.2" cy="96.7" r="4.4" fill="#fde9e1"/><circle cx="1262.0" cy="271.8" r="4.4" fill="#fef0ea"/><circle cx="1262.0" cy="534.4" r="4.4" fill="#fef8f4"/><circle cx="1224.0" cy="680.3" r="4.4" fill="#fbf9fc"/><circle cx="1300.1" cy="913.7" r="3.5" fill="#fffcfb"/><circle cx="1338.1" cy="738.7" r="3.2" fill="#ffffff"/><circle cx="1376.2" cy="738.7" r="3.2" fill="#fffcfb"/><circle cx="1185.9" cy="96.7" r="7.4" fill="none" stroke="#000" stroke-width="1.4"/><circle cx="1262.0" cy="96.7" r="13.5" fill="none" stroke="#000" stroke-width="1.4"/><circle cx="1338.1" cy="96.7" r="7.9" fill="none" stroke="#000" stroke-width="1.4"/><circle cx="1376.2" cy="96.7" r="6.5" fill="none" stroke="#000" stroke-width="1.4"/><circle cx="1528.4" cy="96.7" r="6.7" fill="none" stroke="#000" stroke-width="1.4"/><circle cx="1185.9" cy="125.9" r="8.0" fill="none" stroke="#000" stroke-width="1.4"/><circle cx="1224.0" cy="125.9" r="13.5" fill="none" stroke="#000" stroke-width="1.4"/><circle cx="1262.0" cy="125.9" r="17.7" fill="none" stroke="#000" stroke-width="1.4"/><circle cx="1300.1" cy="125.9" r="12.7" fill="none" stroke="#000" stroke-width="1.4"/><circle cx="1338.1" cy="125.9" r="10.7" fill="none" stroke="#000" stroke-width="1.4"/><circle cx="1376.2" cy="125.9" r="6.7" fill="none" stroke="#000" stroke-width="1.4"/><circle cx="1414.2" cy="125.9" r="11.5" fill="none" stroke="#000" stroke-width="1.4"/><circle cx="1490.3" cy="125.9" r="8.3" fill="none" stroke="#000" stroke-width="1.4"/><circle cx="1528.4" cy="125.9" r="9.8" fill="none" stroke="#000" stroke-width="1.4"/><circle cx="1680.6" cy="125.9" r="9.3" fill="none" stroke="#000" stroke-width="1.4"/><circle cx="1185.9" cy="155.1" r="23.8" fill="none" stroke="#000" stroke-width="1.4"/><circle cx="1224.0" cy="155.1" r="13.8" fill="none" stroke="#000" stroke-width="1.4"/><circle cx="1300.1" cy="155.1" r="10.0" fill="none" stroke="#000" stroke-width="1.4"/><circle cx="1338.1" cy="155.1" r="20.8" fill="none" stroke="#000" stroke-width="1.4"/><circle cx="1414.2" cy="155.1" r="10.9" fill="none" stroke="#000" stroke-width="1.4"/><circle cx="1490.3" cy="155.1" r="6.7" fill="none" stroke="#000" stroke-width="1.4"/><circle cx="1528.4" cy="155.1" r="13.2" fill="none" stroke="#000" stroke-width="1.4"/><circle cx="1185.9" cy="184.2" r="7.6" fill="none" stroke="#000" stroke-width="1.4"/><circle cx="1262.0" cy="184.2" r="13.1" fill="none" stroke="#000" stroke-width="1.4"/><circle cx="1338.1" cy="184.2" r="6.7" fill="none" stroke="#000" stroke-width="1.4"/><circle cx="1604.5" cy="184.2" r="8.2" fill="none" stroke="#000" stroke-width="1.4"/><circle cx="1185.9" cy="213.4" r="13.9" fill="none" stroke="#000" stroke-width="1.4"/><circle cx="1224.0" cy="213.4" r="6.5" fill="none" stroke="#000" stroke-width="1.4"/><circle cx="1300.1" cy="213.4" r="6.7" fill="none" stroke="#000" stroke-width="1.4"/><circle cx="1338.1" cy="213.4" r="10.7" fill="none" stroke="#000" stroke-width="1.4"/><circle cx="1528.4" cy="213.4" r="8.5" fill="none" stroke="#000" stroke-width="1.4"/><circle cx="1185.9" cy="242.6" r="17.3" fill="none" stroke="#000" stroke-width="1.4"/><circle cx="1224.0" cy="242.6" r="12.1" fill="none" stroke="#000" stroke-width="1.4"/><circle cx="1300.1" cy="242.6" r="6.0" fill="none" stroke="#000" stroke-width="1.4"/><circle cx="1338.1" cy="242.6" r="10.0" fill="none" stroke="#000" stroke-width="1.4"/><circle cx="1414.2" cy="242.6" r="6.2" fill="none" stroke="#000" stroke-width="1.4"/><circle cx="1490.3" cy="242.6" r="7.3" fill="none" stroke="#000" stroke-width="1.4"/><circle cx="1528.4" cy="242.6" r="6.7" fill="none" stroke="#000" stroke-width="1.4"/><circle cx="1566.4" cy="242.6" r="12.2" fill="none" stroke="#000" stroke-width="1.4"/><circle cx="1680.6" cy="242.6" r="6.5" fill="none" stroke="#000" stroke-width="1.4"/><circle cx="1300.1" cy="271.8" r="6.9" fill="none" stroke="#000" stroke-width="1.4"/><circle cx="1566.4" cy="271.8" r="14.5" fill="none" stroke="#000" stroke-width="1.4"/><circle cx="1185.9" cy="301.0" r="7.1" fill="none" stroke="#000" stroke-width="1.4"/><circle cx="1300.1" cy="301.0" r="7.3" fill="none" stroke="#000" stroke-width="1.4"/><circle cx="1338.1" cy="301.0" r="7.5" fill="none" stroke="#000" stroke-width="1.4"/><circle cx="1490.3" cy="301.0" r="7.2" fill="none" stroke="#000" stroke-width="1.4"/><circle cx="1528.4" cy="301.0" r="8.0" fill="none" stroke="#000" stroke-width="1.4"/><circle cx="1566.4" cy="301.0" r="14.3" fill="none" stroke="#000" stroke-width="1.4"/><circle cx="1642.5" cy="301.0" r="14.3" fill="none" stroke="#000" stroke-width="1.4"/><circle cx="1680.6" cy="301.0" r="7.7" fill="none" stroke="#000" stroke-width="1.4"/><circle cx="1185.9" cy="330.1" r="14.7" fill="none" stroke="#000" stroke-width="1.4"/><circle cx="1224.0" cy="330.1" r="9.1" fill="none" stroke="#000" stroke-width="1.4"/><circle cx="1262.0" cy="330.1" r="8.3" fill="none" stroke="#000" stroke-width="1.4"/><circle cx="1300.1" cy="330.1" r="11.1" fill="none" stroke="#000" stroke-width="1.4"/><circle cx="1338.1" cy="330.1" r="16.7" fill="none" stroke="#000" stroke-width="1.4"/><circle cx="1490.3" cy="330.1" r="14.1" fill="none" stroke="#000" stroke-width="1.4"/><circle cx="1528.4" cy="330.1" r="13.8" fill="none" stroke="#000" stroke-width="1.4"/><circle cx="1566.4" cy="330.1" r="16.2" fill="none" stroke="#000" stroke-width="1.4"/><circle cx="1680.6" cy="330.1" r="7.4" fill="none" stroke="#000" stroke-width="1.4"/><circle cx="1185.9" cy="359.3" r="13.8" fill="none" stroke="#000" stroke-width="1.4"/><circle cx="1224.0" cy="359.3" r="8.7" fill="none" stroke="#000" stroke-width="1.4"/><circle cx="1262.0" cy="359.3" r="19.2" fill="none" stroke="#000" stroke-width="1.4"/><circle cx="1300.1" cy="359.3" r="8.5" fill="none" stroke="#000" stroke-width="1.4"/><circle cx="1338.1" cy="359.3" r="10.4" fill="none" stroke="#000" stroke-width="1.4"/><circle cx="1452.2" cy="359.3" r="7.6" fill="none" stroke="#000" stroke-width="1.4"/><circle cx="1490.3" cy="359.3" r="11.8" fill="none" stroke="#000" stroke-width="1.4"/><circle cx="1528.4" cy="359.3" r="9.8" fill="none" stroke="#000" stroke-width="1.4"/><circle cx="1566.4" cy="359.3" r="22.6" fill="none" stroke="#000" stroke-width="1.4"/><circle cx="1604.5" cy="359.3" r="10.2" fill="none" stroke="#000" stroke-width="1.4"/><circle cx="1642.5" cy="359.3" r="16.9" fill="none" stroke="#000" stroke-width="1.4"/><circle cx="1680.6" cy="359.3" r="13.7" fill="none" stroke="#000" stroke-width="1.4"/><circle cx="1224.0" cy="388.5" r="8.7" fill="none" stroke="#000" stroke-width="1.4"/><circle cx="1262.0" cy="388.5" r="8.3" fill="none" stroke="#000" stroke-width="1.4"/><circle cx="1338.1" cy="388.5" r="8.3" fill="none" stroke="#000" stroke-width="1.4"/><circle cx="1185.9" cy="417.7" r="8.0" fill="none" stroke="#000" stroke-width="1.4"/><circle cx="1262.0" cy="417.7" r="8.3" fill="none" stroke="#000" stroke-width="1.4"/><circle cx="1338.1" cy="417.7" r="11.3" fill="none" stroke="#000" stroke-width="1.4"/><circle cx="1185.9" cy="446.9" r="6.4" fill="none" stroke="#000" stroke-width="1.4"/><circle cx="1338.1" cy="446.9" r="8.6" fill="none" stroke="#000" stroke-width="1.4"/><circle cx="1224.0" cy="476.0" r="6.1" fill="none" stroke="#000" stroke-width="1.4"/><circle cx="1338.1" cy="476.0" r="7.2" fill="none" stroke="#000" stroke-width="1.4"/><circle cx="1262.0" cy="505.2" r="6.7" fill="none" stroke="#000" stroke-width="1.4"/><circle cx="1300.1" cy="505.2" r="7.1" fill="none" stroke="#000" stroke-width="1.4"/><circle cx="1338.1" cy="505.2" r="6.5" fill="none" stroke="#000" stroke-width="1.4"/><circle cx="1185.9" cy="534.4" r="6.9" fill="none" stroke="#000" stroke-width="1.4"/><circle cx="1224.0" cy="534.4" r="8.7" fill="none" stroke="#000" stroke-width="1.4"/><circle cx="1300.1" cy="534.4" r="6.0" fill="none" stroke="#000" stroke-width="1.4"/><circle cx="1338.1" cy="534.4" r="7.5" fill="none" stroke="#000" stroke-width="1.4"/><circle cx="1185.9" cy="563.6" r="9.7" fill="none" stroke="#000" stroke-width="1.4"/><circle cx="1262.0" cy="563.6" r="21.6" fill="none" stroke="#000" stroke-width="1.4"/><circle cx="1300.1" cy="563.6" r="10.1" fill="none" stroke="#000" stroke-width="1.4"/><circle cx="1338.1" cy="563.6" r="7.9" fill="none" stroke="#000" stroke-width="1.4"/><circle cx="1262.0" cy="592.8" r="14.6" fill="none" stroke="#000" stroke-width="1.4"/><circle cx="1300.1" cy="592.8" r="6.9" fill="none" stroke="#000" stroke-width="1.4"/><circle cx="1262.0" cy="621.9" r="6.7" fill="none" stroke="#000" stroke-width="1.4"/><circle cx="1300.1" cy="621.9" r="6.4" fill="none" stroke="#000" stroke-width="1.4"/><circle cx="1338.1" cy="621.9" r="6.7" fill="none" stroke="#000" stroke-width="1.4"/><circle cx="1185.9" cy="651.1" r="7.3" fill="none" stroke="#000" stroke-width="1.4"/><circle cx="1224.0" cy="651.1" r="7.7" fill="none" stroke="#000" stroke-width="1.4"/><circle cx="1300.1" cy="651.1" r="6.4" fill="none" stroke="#000" stroke-width="1.4"/><circle cx="1262.0" cy="680.3" r="7.9" fill="none" stroke="#000" stroke-width="1.4"/><circle cx="1300.1" cy="680.3" r="6.4" fill="none" stroke="#000" stroke-width="1.4"/><circle cx="1185.9" cy="709.5" r="7.8" fill="none" stroke="#000" stroke-width="1.4"/><circle cx="1224.0" cy="709.5" r="6.0" fill="none" stroke="#000" stroke-width="1.4"/><circle cx="1300.1" cy="709.5" r="6.4" fill="none" stroke="#000" stroke-width="1.4"/><circle cx="1185.9" cy="738.7" r="6.0" fill="none" stroke="#000" stroke-width="1.4"/><circle cx="1224.0" cy="738.7" r="9.9" fill="none" stroke="#000" stroke-width="1.4"/><circle cx="1262.0" cy="738.7" r="8.3" fill="none" stroke="#000" stroke-width="1.4"/><circle cx="1300.1" cy="738.7" r="7.1" fill="none" stroke="#000" stroke-width="1.4"/><circle cx="1300.1" cy="767.8" r="8.0" fill="none" stroke="#000" stroke-width="1.4"/><circle cx="1262.0" cy="797.0" r="6.3" fill="none" stroke="#000" stroke-width="1.4"/><circle cx="1300.1" cy="797.0" r="6.9" fill="none" stroke="#000" stroke-width="1.4"/><circle cx="1300.1" cy="826.2" r="6.4" fill="none" stroke="#000" stroke-width="1.4"/><circle cx="1300.1" cy="855.4" r="7.1" fill="none" stroke="#000" stroke-width="1.4"/><circle cx="1262.0" cy="884.6" r="7.1" fill="none" stroke="#000" stroke-width="1.4"/><circle cx="1300.1" cy="884.6" r="8.5" fill="none" stroke="#000" stroke-width="1.4"/><circle cx="1224.0" cy="913.7" r="7.9" fill="none" stroke="#000" stroke-width="1.4"/><circle cx="1262.0" cy="913.7" r="5.9" fill="none" stroke="#000" stroke-width="1.4"/><circle cx="1414.2" cy="913.7" r="6.5" fill="none" stroke="#000" stroke-width="1.4"/><circle cx="1185.9" cy="942.9" r="12.1" fill="none" stroke="#000" stroke-width="1.4"/><circle cx="1224.0" cy="942.9" r="12.1" fill="none" stroke="#000" stroke-width="1.4"/><circle cx="1262.0" cy="942.9" r="15.9" fill="none" stroke="#000" stroke-width="1.4"/><circle cx="1338.1" cy="942.9" r="9.7" fill="none" stroke="#000" stroke-width="1.4"/><circle cx="1414.2" cy="942.9" r="6.5" fill="none" stroke="#000" stroke-width="1.4"/><circle cx="1185.9" cy="972.1" r="8.3" fill="none" stroke="#000" stroke-width="1.4"/><circle cx="1224.0" cy="972.1" r="11.1" fill="none" stroke="#000" stroke-width="1.4"/><circle cx="1262.0" cy="972.1" r="8.9" fill="none" stroke="#000" stroke-width="1.4"/><circle cx="1338.1" cy="972.1" r="8.3" fill="none" stroke="#000" stroke-width="1.4"/><circle cx="1414.2" cy="972.1" r="7.2" fill="none" stroke="#000" stroke-width="1.4"/><circle cx="1224.0" cy="1001.3" r="7.9" fill="none" stroke="#000" stroke-width="1.4"/><circle cx="1414.2" cy="1001.3" r="6.1" fill="none" stroke="#000" stroke-width="1.4"/><circle cx="1262.0" cy="1030.5" r="9.5" fill="none" stroke="#000" stroke-width="1.4"/><circle cx="1414.2" cy="1030.5" r="6.5" fill="none" stroke="#000" stroke-width="1.4"/><circle cx="1224.0" cy="1059.6" r="10.7" fill="none" stroke="#000" stroke-width="1.4"/><circle cx="1262.0" cy="1059.6" r="5.9" fill="none" stroke="#000" stroke-width="1.4"/><circle cx="1300.1" cy="1059.6" r="9.1" fill="none" stroke="#000" stroke-width="1.4"/><circle cx="1338.1" cy="1059.6" r="6.8" fill="none" stroke="#000" stroke-width="1.4"/><circle cx="1414.2" cy="1059.6" r="6.5" fill="none" stroke="#000" stroke-width="1.4"/><circle cx="1262.0" cy="1088.8" r="6.7" fill="none" stroke="#000" stroke-width="1.4"/><circle cx="1300.1" cy="1088.8" r="7.1" fill="none" stroke="#000" stroke-width="1.4"/><circle cx="1338.1" cy="1088.8" r="8.3" fill="none" stroke="#000" stroke-width="1.4"/><circle cx="1414.2" cy="1088.8" r="6.5" fill="none" stroke="#000" stroke-width="1.4"/><circle cx="1185.9" cy="1118.0" r="14.7" fill="none" stroke="#000" stroke-width="1.4"/><circle cx="1224.0" cy="1118.0" r="14.6" fill="none" stroke="#000" stroke-width="1.4"/><circle cx="1262.0" cy="1118.0" r="6.7" fill="none" stroke="#000" stroke-width="1.4"/><circle cx="1338.1" cy="1118.0" r="10.4" fill="none" stroke="#000" stroke-width="1.4"/><circle cx="1414.2" cy="1118.0" r="6.1" fill="none" stroke="#000" stroke-width="1.4"/><circle cx="1185.9" cy="1147.2" r="7.6" fill="none" stroke="#000" stroke-width="1.4"/><circle cx="1300.1" cy="1147.2" r="6.9" fill="none" stroke="#000" stroke-width="1.4"/><circle cx="1338.1" cy="1147.2" r="9.9" fill="none" stroke="#000" stroke-width="1.4"/><circle cx="1414.2" cy="1147.2" r="7.7" fill="none" stroke="#000" stroke-width="1.4"/><circle cx="1262.0" cy="1176.4" r="16.1" fill="none" stroke="#000" stroke-width="1.4"/><circle cx="1224.0" cy="1205.5" r="11.5" fill="none" stroke="#000" stroke-width="1.4"/><circle cx="1262.0" cy="1205.5" r="13.4" fill="none" stroke="#000" stroke-width="1.4"/><circle cx="1338.1" cy="1205.5" r="9.7" fill="none" stroke="#000" stroke-width="1.4"/><circle cx="1224.0" cy="1234.7" r="7.1" fill="none" stroke="#000" stroke-width="1.4"/><circle cx="1224.0" cy="1263.9" r="6.5" fill="none" stroke="#000" stroke-width="1.4"/><circle cx="1185.9" cy="1293.1" r="7.3" fill="none" stroke="#000" stroke-width="1.4"/><circle cx="1262.0" cy="1293.1" r="10.3" fill="none" stroke="#000" stroke-width="1.4"/><circle cx="1185.9" cy="1322.3" r="6.4" fill="none" stroke="#000" stroke-width="1.4"/><circle cx="1262.0" cy="1322.3" r="7.1" fill="none" stroke="#000" stroke-width="1.4"/><circle cx="1185.9" cy="1351.4" r="20.4" fill="none" stroke="#000" stroke-width="1.4"/><circle cx="1224.0" cy="1351.4" r="13.5" fill="none" stroke="#000" stroke-width="1.4"/><circle cx="1262.0" cy="1351.4" r="7.9" fill="none" stroke="#000" stroke-width="1.4"/><circle cx="1300.1" cy="1351.4" r="8.5" fill="none" stroke="#000" stroke-width="1.4"/><circle cx="1338.1" cy="1351.4" r="11.2" fill="none" stroke="#000" stroke-width="1.4"/><circle cx="1185.9" cy="1380.6" r="7.6" fill="none" stroke="#000" stroke-width="1.4"/><circle cx="1224.0" cy="1380.6" r="7.1" fill="none" stroke="#000" stroke-width="1.4"/><circle cx="1185.9" cy="1409.8" r="6.4" fill="none" stroke="#000" stroke-width="1.4"/><circle cx="1185.9" cy="1439.0" r="6.7" fill="none" stroke="#000" stroke-width="1.4"/><circle cx="1262.0" cy="1439.0" r="11.9" fill="none" stroke="#000" stroke-width="1.4"/><circle cx="1185.9" cy="1468.2" r="7.6" fill="none" stroke="#000" stroke-width="1.4"/><circle cx="1262.0" cy="1468.2" r="8.0" fill="none" stroke="#000" stroke-width="1.4"/><circle cx="1300.1" cy="1468.2" r="6.0" fill="none" stroke="#000" stroke-width="1.4"/><circle cx="1185.9" cy="1497.3" r="8.8" fill="none" stroke="#000" stroke-width="1.4"/><circle cx="1185.9" cy="1526.5" r="6.4" fill="none" stroke="#000" stroke-width="1.4"/><circle cx="1185.9" cy="1555.7" r="6.4" fill="none" stroke="#000" stroke-width="1.4"/><circle cx="1185.9" cy="1584.9" r="6.4" fill="none" stroke="#000" stroke-width="1.4"/><circle cx="1185.9" cy="1614.1" r="7.3" fill="none" stroke="#000" stroke-width="1.4"/><circle cx="1262.0" cy="1614.1" r="6.7" fill="none" stroke="#000" stroke-width="1.4"/><circle cx="1185.9" cy="1643.2" r="7.3" fill="none" stroke="#000" stroke-width="1.4"/><circle cx="1185.9" cy="1672.4" r="7.3" fill="none" stroke="#000" stroke-width="1.4"/></g>
<line x1="1163.0" y1="79.4" x2="1163.0" y2="1691.0" stroke="#000" stroke-width="1.9"/>
<line x1="1162.0" y1="1690.0" x2="1703.5" y2="1690.0" stroke="#000" stroke-width="1.9"/>
<g stroke="#000" stroke-width="1.5"><line x1="1157.0" y1="96.70" x2="1163.0" y2="96.70"/><line x1="1157.0" y1="125.88" x2="1163.0" y2="125.88"/><line x1="1157.0" y1="155.06" x2="1163.0" y2="155.06"/><line x1="1157.0" y1="184.24" x2="1163.0" y2="184.24"/><line x1="1157.0" y1="213.42" x2="1163.0" y2="213.42"/><line x1="1157.0" y1="242.60" x2="1163.0" y2="242.60"/><line x1="1157.0" y1="271.78" x2="1163.0" y2="271.78"/><line x1="1157.0" y1="300.96" x2="1163.0" y2="300.96"/><line x1="1157.0" y1="330.14" x2="1163.0" y2="330.14"/><line x1="1157.0" y1="359.32" x2="1163.0" y2="359.32"/><line x1="1157.0" y1="388.50" x2="1163.0" y2="388.50"/><line x1="1157.0" y1="417.68" x2="1163.0" y2="417.68"/><line x1="1157.0" y1="446.86" x2="1163.0" y2="446.86"/><line x1="1157.0" y1="476.04" x2="1163.0" y2="476.04"/><line x1="1157.0" y1="505.22" x2="1163.0" y2="505.22"/><line x1="1157.0" y1="534.40" x2="1163.0" y2="534.40"/><line x1="1157.0" y1="563.58" x2="1163.0" y2="563.58"/><line x1="1157.0" y1="592.76" x2="1163.0" y2="592.76"/><line x1="1157.0" y1="621.94" x2="1163.0" y2="621.94"/><line x1="1157.0" y1="651.12" x2="1163.0" y2="651.12"/><line x1="1157.0" y1="680.30" x2="1163.0" y2="680.30"/><line x1="1157.0" y1="709.48" x2="1163.0" y2="709.48"/><line x1="1157.0" y1="738.66" x2="1163.0" y2="738.66"/><line x1="1157.0" y1="767.84" x2="1163.0" y2="767.84"/><line x1="1157.0" y1="797.02" x2="1163.0" y2="797.02"/><line x1="1157.0" y1="826.20" x2="1163.0" y2="826.20"/><line x1="1157.0" y1="855.38" x2="1163.0" y2="855.38"/><line x1="1157.0" y1="884.56" x2="1163.0" y2="884.56"/><line x1="1157.0" y1="913.74" x2="1163.0" y2="913.74"/><line x1="1157.0" y1="942.92" x2="1163.0" y2="942.92"/><line x1="1157.0" y1="972.10" x2="1163.0" y2="972.10"/><line x1="1157.0" y1="1001.28" x2="1163.0" y2="1001.28"/><line x1="1157.0" y1="1030.46" x2="1163.0" y2="1030.46"/><line x1="1157.0" y1="1059.64" x2="1163.0" y2="1059.64"/><line x1="1157.0" y1="1088.82" x2="1163.0" y2="1088.82"/><line x1="1157.0" y1="1118.00" x2="1163.0" y2="1118.00"/><line x1="1157.0" y1="1147.18" x2="1163.0" y2="1147.18"/><line x1="1157.0" y1="1176.36" x2="1163.0" y2="1176.36"/><line x1="1157.0" y1="1205.54" x2="1163.0" y2="1205.54"/><line x1="1157.0" y1="1234.72" x2="1163.0" y2="1234.72"/><line x1="1157.0" y1="1263.90" x2="1163.0" y2="1263.90"/><line x1="1157.0" y1="1293.08" x2="1163.0" y2="1293.08"/><line x1="1157.0" y1="1322.26" x2="1163.0" y2="1322.26"/><line x1="1157.0" y1="1351.44" x2="1163.0" y2="1351.44"/><line x1="1157.0" y1="1380.62" x2="1163.0" y2="1380.62"/><line x1="1157.0" y1="1409.80" x2="1163.0" y2="1409.80"/><line x1="1157.0" y1="1438.98" x2="1163.0" y2="1438.98"/><line x1="1157.0" y1="1468.16" x2="1163.0" y2="1468.16"/><line x1="1157.0" y1="1497.34" x2="1163.0" y2="1497.34"/><line x1="1157.0" y1="1526.52" x2="1163.0" y2="1526.52"/><line x1="1157.0" y1="1555.70" x2="1163.0" y2="1555.70"/><line x1="1157.0" y1="1584.88" x2="1163.0" y2="1584.88"/><line x1="1157.0" y1="1614.06" x2="1163.0" y2="1614.06"/><line x1="1157.0" y1="1643.24" x2="1163.0" y2="1643.24"/><line x1="1157.0" y1="1672.42" x2="1163.0" y2="1672.42"/></g>
<text transform="translate(1145.00,102.70) scale(1,1.0436)" font-size="30.0" text-anchor="end" fill="#000">Ptprd</text>
<text transform="translate(1145.00,131.88) scale(1,1.0436)" font-size="30.0" text-anchor="end" fill="#000">Cadm2</text>
<text transform="translate(1145.00,161.06) scale(1,1.0436)" font-size="30.0" text-anchor="end" fill="#000">Homer1</text>
<text transform="translate(1145.00,190.24) scale(1,1.0436)" font-size="30.0" text-anchor="end" fill="#000">Ubash3b</text>
<text transform="translate(1145.00,222.82) scale(1,1.0436)" font-size="30.0" text-anchor="end" fill="#000">1700016P03Rik</text>
<text transform="translate(1145.00,248.60) scale(1,1.0436)" font-size="30.0" text-anchor="end" fill="#000">Zswim6</text>
<text transform="translate(1145.00,277.78) scale(1,1.0436)" font-size="30.0" text-anchor="end" fill="#000">Lhfp</text>
<text transform="translate(1145.00,306.96) scale(1,1.0436)" font-size="30.0" text-anchor="end" fill="#000">Zbtb16</text>
<text transform="translate(1145.00,336.14) scale(1,1.0436)" font-size="30.0" text-anchor="end" fill="#000">Pde10a</text>
<text transform="translate(1145.00,365.32) scale(1,1.0436)" font-size="30.0" text-anchor="end" fill="#000">Ttr</text>
<text transform="translate(1145.00,394.50) scale(1,1.0436)" font-size="30.0" text-anchor="end" fill="#000">Nnat</text>
<text transform="translate(1145.00,423.68) scale(1,1.0436)" font-size="30.0" text-anchor="end" fill="#000">Ptprn</text>
<text transform="translate(1145.00,452.86) scale(1,1.0436)" font-size="30.0" text-anchor="end" fill="#000">Etv5</text>
<text transform="translate(1145.00,482.04) scale(1,1.0436)" font-size="30.0" text-anchor="end" fill="#000">Pcsk1</text>
<text transform="translate(1145.00,511.22) scale(1,1.0436)" font-size="30.0" text-anchor="end" fill="#000">Lrrtm3</text>
<text transform="translate(1145.00,540.40) scale(1,1.0436)" font-size="30.0" text-anchor="end" fill="#000">Lrch3</text>
<text transform="translate(1145.00,569.58) scale(1,1.0436)" font-size="30.0" text-anchor="end" fill="#000">Camk2a</text>
<text transform="translate(1145.00,598.76) scale(1,1.0436)" font-size="30.0" text-anchor="end" fill="#000">Aff2</text>
<text transform="translate(1145.00,627.94) scale(1,1.0436)" font-size="30.0" text-anchor="end" fill="#000">Smad3</text>
<text transform="translate(1145.00,657.12) scale(1,1.0436)" font-size="30.0" text-anchor="end" fill="#000">Pdia3</text>
<text transform="translate(1145.00,686.30) scale(1,1.0436)" font-size="30.0" text-anchor="end" fill="#000">Chrm2</text>
<text transform="translate(1145.00,715.48) scale(1,1.0436)" font-size="30.0" text-anchor="end" fill="#000">Ubl3</text>
<text transform="translate(1145.00,744.66) scale(1,1.0436)" font-size="30.0" text-anchor="end" fill="#000">Ywhah</text>
<text transform="translate(1145.00,773.84) scale(1,1.0436)" font-size="30.0" text-anchor="end" fill="#000">Luzp1</text>
<text transform="translate(1145.00,803.02) scale(1,1.0436)" font-size="30.0" text-anchor="end" fill="#000">Mast3</text>
<text transform="translate(1145.00,832.20) scale(1,1.0436)" font-size="30.0" text-anchor="end" fill="#000">Castor2</text>
<text transform="translate(1145.00,861.38) scale(1,1.0436)" font-size="30.0" text-anchor="end" fill="#000">Osbpl3</text>
<text transform="translate(1145.00,890.56) scale(1,1.0436)" font-size="30.0" text-anchor="end" fill="#000">Sv2c</text>
<text transform="translate(1145.00,919.74) scale(1,1.0436)" font-size="30.0" text-anchor="end" fill="#000">Gsk3b</text>
<text transform="translate(1145.00,948.92) scale(1,1.0436)" font-size="30.0" text-anchor="end" fill="#000">Adcy9</text>
<text transform="translate(1145.00,978.10) scale(1,1.0436)" font-size="30.0" text-anchor="end" fill="#000">Slc17a7</text>
<text transform="translate(1145.00,1007.28) scale(1,1.0436)" font-size="30.0" text-anchor="end" fill="#000">Nos1ap</text>
<text transform="translate(1145.00,1036.46) scale(1,1.0436)" font-size="30.0" text-anchor="end" fill="#000">Klhdc10</text>
<text transform="translate(1145.00,1065.64) scale(1,1.0436)" font-size="30.0" text-anchor="end" fill="#000">Klhl29</text>
<text transform="translate(1145.00,1094.82) scale(1,1.0436)" font-size="30.0" text-anchor="end" fill="#000">Ptk2b</text>
<text transform="translate(1145.00,1124.00) scale(1,1.0436)" font-size="30.0" text-anchor="end" fill="#000">Shisa6</text>
<text transform="translate(1145.00,1153.18) scale(1,1.0436)" font-size="30.0" text-anchor="end" fill="#000">Pde4a</text>
<text transform="translate(1145.00,1182.36) scale(1,1.0436)" font-size="30.0" text-anchor="end" fill="#000">Chst9</text>
<text transform="translate(1145.00,1211.54) scale(1,1.0436)" font-size="30.0" text-anchor="end" fill="#000">Etv1</text>
<text transform="translate(1145.00,1240.72) scale(1,1.0436)" font-size="30.0" text-anchor="end" fill="#000">Gm47728</text>
<text transform="translate(1145.00,1269.90) scale(1,1.0436)" font-size="30.0" text-anchor="end" fill="#000">Pdia4</text>
<text transform="translate(1145.00,1299.08) scale(1,1.0436)" font-size="30.0" text-anchor="end" fill="#000">Tafa2</text>
<text transform="translate(1145.00,1328.26) scale(1,1.0436)" font-size="30.0" text-anchor="end" fill="#000">Per2</text>
<text transform="translate(1145.00,1357.44) scale(1,1.0436)" font-size="30.0" text-anchor="end" fill="#000">Specc1</text>
<text transform="translate(1145.00,1386.62) scale(1,1.0436)" font-size="30.0" text-anchor="end" fill="#000">Gm12940</text>
<text transform="translate(1145.00,1415.80) scale(1,1.0436)" font-size="30.0" text-anchor="end" fill="#000">Cbfa2t3</text>
<text transform="translate(1145.00,1444.98) scale(1,1.0436)" font-size="30.0" text-anchor="end" fill="#000">Synpr</text>
<text transform="translate(1145.00,1474.16) scale(1,1.0436)" font-size="30.0" text-anchor="end" fill="#000">Sema5a</text>
<text transform="translate(1145.00,1503.34) scale(1,1.0436)" font-size="30.0" text-anchor="end" fill="#000">Adarb2</text>
<text transform="translate(1145.00,1532.52) scale(1,1.0436)" font-size="30.0" text-anchor="end" fill="#000">Egr1</text>
<text transform="translate(1145.00,1561.70) scale(1,1.0436)" font-size="30.0" text-anchor="end" fill="#000">Lats2</text>
<text transform="translate(1145.00,1590.88) scale(1,1.0436)" font-size="30.0" text-anchor="end" fill="#000">Atp7a</text>
<text transform="translate(1145.00,1620.06) scale(1,1.0436)" font-size="30.0" text-anchor="end" fill="#000">Tiparp</text>
<text transform="translate(1145.00,1649.24) scale(1,1.0436)" font-size="30.0" text-anchor="end" fill="#000">Arc</text>
<text transform="translate(1145.00,1678.42) scale(1,1.0436)" font-size="30.0" text-anchor="end" fill="#000">Mrps6</text>
<text transform="translate(1191.00,1702.80) rotate(-90) scale(1,1.0436)" font-size="33.7" text-anchor="end" fill="#000">CA1</text>
<text transform="translate(1230.08,1702.80) rotate(-90) scale(1,1.0436)" font-size="33.7" text-anchor="end" fill="#000">CA3</text>
<text transform="translate(1269.16,1702.80) rotate(-90) scale(1,1.0436)" font-size="33.7" text-anchor="end" fill="#000">DG</text>
<text transform="translate(1308.24,1702.80) rotate(-90) scale(1,1.0436)" font-size="33.7" text-anchor="end" fill="#000">PPPGlut</text>
<text transform="translate(1347.32,1702.80) rotate(-90) scale(1,1.0436)" font-size="33.7" text-anchor="end" fill="#000">SubGlut</text>
<text transform="translate(1386.40,1702.80) rotate(-90) scale(1,1.0436)" font-size="33.7" text-anchor="end" fill="#000">CRGlut</text>
<text transform="translate(1425.48,1702.80) rotate(-90) scale(1,1.0436)" font-size="33.7" text-anchor="end" fill="#000">ENTGlut</text>
<text transform="translate(1464.56,1702.80) rotate(-90) scale(1,1.0436)" font-size="33.7" text-anchor="end" fill="#000">IMN</text>
<text transform="translate(1503.64,1702.80) rotate(-90) scale(1,1.0436)" font-size="33.7" text-anchor="end" fill="#000">CGE GABA</text>
<text transform="translate(1542.72,1702.80) rotate(-90) scale(1,1.0436)" font-size="33.7" text-anchor="end" fill="#000">MGE GABA</text>
<text transform="translate(1581.80,1702.80) rotate(-90) scale(1,1.0436)" font-size="33.7" text-anchor="end" fill="#000">Astrocytes</text>
<text transform="translate(1620.88,1702.80) rotate(-90) scale(1,1.0436)" font-size="33.7" text-anchor="end" fill="#000">Microglia</text>
<text transform="translate(1659.96,1702.80) rotate(-90) scale(1,1.0436)" font-size="33.7" text-anchor="end" fill="#000">Oligo</text>
<text transform="translate(1699.04,1702.80) rotate(-90) scale(1,1.0436)" font-size="33.7" text-anchor="end" fill="#000">Other NN</text>
<rect x="1737.2" y="82.1" width="149.8" height="728.4" fill="#f1f2f1"/>
<text transform="translate(0,120.00) scale(1,1.0436)" fill="#000"><tspan x="1744.00" y="0.00" font-size="29.0">–</tspan><tspan x="1761.15" y="0.00" font-size="29.0">log</tspan><tspan x="1801.55" y="9.49" font-size="16.4">10</tspan><tspan x="1819.60" y="0.00" font-size="29.0">(P</tspan><tspan x="1850.11" y="9.58" font-size="16.2">adj</tspan><tspan x="1873.93" y="0.00" font-size="29.0">)</tspan></text>
<circle cx="1787.5" cy="159.3" r="7.5" fill="#000"/>
<text transform="translate(1817.29,165.80) scale(1,1.0436)" font-size="29" text-anchor="start" fill="#000">1</text>
<circle cx="1787.5" cy="194.6" r="8.7" fill="#000"/>
<text transform="translate(1818.04,201.10) scale(1,1.0436)" font-size="29" text-anchor="start" fill="#000">2</text>
<circle cx="1787.5" cy="229.9" r="9.5" fill="#000"/>
<text transform="translate(1818.40,236.40) scale(1,1.0436)" font-size="29" text-anchor="start" fill="#000">3</text>
<circle cx="1787.5" cy="265.2" r="10.3" fill="#000"/>
<text transform="translate(1818.83,271.70) scale(1,1.0436)" font-size="29" text-anchor="start" fill="#000">4</text>
<circle cx="1787.5" cy="300.6" r="10.9" fill="#000"/>
<text transform="translate(1818.34,307.10) scale(1,1.0436)" font-size="29" text-anchor="start" fill="#000">5</text>
<circle cx="1787.5" cy="336.1" r="11.5" fill="#000"/>
<text transform="translate(1818.03,342.60) scale(1,1.0436)" font-size="29" text-anchor="start" fill="#000">6</text>
<circle cx="1787.5" cy="371.4" r="12.0" fill="#000"/>
<text transform="translate(1818.01,377.90) scale(1,1.0436)" font-size="29" text-anchor="start" fill="#000">7</text>
<circle cx="1787.5" cy="406.8" r="12.5" fill="#000"/>
<text transform="translate(1818.24,413.30) scale(1,1.0436)" font-size="29" text-anchor="start" fill="#000">8</text>
<circle cx="1787.5" cy="441.9" r="12.9" fill="#000"/>
<text transform="translate(1818.14,448.40) scale(1,1.0436)" font-size="29" text-anchor="start" fill="#000">9</text>
<circle cx="1787.5" cy="477.2" r="13.3" fill="#000"/>
<text transform="translate(1817.29,483.70) scale(1,1.0436)" font-size="29" text-anchor="start" fill="#000">10</text>
<text transform="translate(0,564.70) scale(1,1.0436)" fill="#000"><tspan x="1762.91" y="0.00" font-size="29.6">log</tspan><tspan x="1802.56" y="9.49" font-size="16.8">2</tspan><tspan x="1813.26" y="0.00" font-size="29.6">(FC)</tspan></text>
<defs><linearGradient id="gB" x1="0" x2="0" y1="0" y2="1"><stop offset="0.0000" stop-color="#ff2614"/><stop offset="0.1244" stop-color="#fb6e50"/><stop offset="0.2489" stop-color="#fb9b80"/><stop offset="0.3733" stop-color="#fdcdbe"/><stop offset="0.4977" stop-color="#ffffff"/><stop offset="0.6222" stop-color="#dec8e4"/><stop offset="0.7466" stop-color="#a58ac8"/><stop offset="0.8710" stop-color="#6958a8"/><stop offset="0.9955" stop-color="#2644a0"/></linearGradient></defs>
<rect x="1776.0" y="603.0" width="36.2" height="176.2" fill="url(#gB)"/>
<text transform="translate(1822.04,609.90) scale(1,1.0436)" font-size="29" text-anchor="start" fill="#000">2</text>
<line x1="1804.8" y1="646.9" x2="1812.2" y2="646.9" stroke="#fff" stroke-width="1.9"/>
<text transform="translate(1821.29,653.80) scale(1,1.0436)" font-size="29" text-anchor="start" fill="#000">1</text>
<text transform="translate(1822.37,698.20) scale(1,1.0436)" font-size="29" text-anchor="start" fill="#000">0</text>
<line x1="1804.8" y1="735.2" x2="1812.2" y2="735.2" stroke="#fff" stroke-width="1.9"/>
<text transform="translate(1822.07,742.10) scale(1,1.0436)" font-size="29" text-anchor="start" fill="#000">−1</text>
<text transform="translate(1822.07,785.30) scale(1,1.0436)" font-size="29" text-anchor="start" fill="#000">−2</text>
<text transform="translate(-1.81,1197.30) scale(1,1.0436)" font-size="89" text-anchor="start" fill="#231f20" textLength="65.57" lengthAdjust="spacingAndGlyphs">C</text>
<rect x="285.8" y="1176.9" width="229.2" height="59.9" fill="#cbbe9b"/>
<text transform="translate(286.63,1222.50) scale(1,1.0436)" font-size="38.4" text-anchor="start" fill="#231f20" textLength="382.88" lengthAdjust="spacingAndGlyphs">Non-neuronal-enriched</text>
<clipPath id="clipC"><rect x="193.5" y="1236.1" width="573.8" height="1094.4"/></clipPath>
<g stroke="#d2d2d2" stroke-width="1.5" fill="none"><line x1="191.2" y1="1252.70" x2="767.3" y2="1252.70" stroke-dasharray="16 16"/><line x1="191.2" y1="1281.35" x2="767.3" y2="1281.35" stroke-dasharray="16 16"/><line x1="191.2" y1="1310.00" x2="767.3" y2="1310.00" stroke-dasharray="16 16"/><line x1="191.2" y1="1338.65" x2="767.3" y2="1338.65" stroke-dasharray="16 16"/><line x1="191.2" y1="1367.30" x2="767.3" y2="1367.30" stroke-dasharray="16 16"/><line x1="191.2" y1="1395.95" x2="767.3" y2="1395.95" stroke-dasharray="16 16"/><line x1="191.2" y1="1424.60" x2="767.3" y2="1424.60" stroke-dasharray="16 16"/><line x1="191.2" y1="1453.25" x2="767.3" y2="1453.25" stroke-dasharray="16 16"/><line x1="191.2" y1="1481.90" x2="767.3" y2="1481.90" stroke-dasharray="16 16"/><line x1="191.2" y1="1510.55" x2="767.3" y2="1510.55" stroke-dasharray="16 16"/><line x1="191.2" y1="1539.20" x2="767.3" y2="1539.20" stroke-dasharray="16 16"/><line x1="191.2" y1="1567.85" x2="767.3" y2="1567.85" stroke-dasharray="16 16"/><line x1="191.2" y1="1596.50" x2="767.3" y2="1596.50" stroke-dasharray="16 16"/><line x1="191.2" y1="1625.15" x2="767.3" y2="1625.15" stroke-dasharray="16 16"/><line x1="191.2" y1="1653.80" x2="767.3" y2="1653.80" stroke-dasharray="16 16"/><line x1="191.2" y1="1682.45" x2="767.3" y2="1682.45" stroke-dasharray="16 16"/><line x1="191.2" y1="1711.10" x2="767.3" y2="1711.10" stroke-dasharray="16 16"/><line x1="191.2" y1="1739.75" x2="767.3" y2="1739.75" stroke-dasharray="16 16"/><line x1="191.2" y1="1768.40" x2="767.3" y2="1768.40" stroke-dasharray="16 16"/><line x1="191.2" y1="1797.05" x2="767.3" y2="1797.05" stroke-dasharray="16 16"/><line x1="191.2" y1="1825.70" x2="767.3" y2="1825.70" stroke-dasharray="16 16"/><line x1="191.2" y1="1854.35" x2="767.3" y2="1854.35" stroke-dasharray="16 16"/><line x1="191.2" y1="1883.00" x2="767.3" y2="1883.00" stroke-dasharray="16 16"/><line x1="191.2" y1="1911.65" x2="767.3" y2="1911.65" stroke-dasharray="16 16"/><line x1="191.2" y1="1940.30" x2="767.3" y2="1940.30" stroke-dasharray="16 16"/><line x1="191.2" y1="1968.95" x2="767.3" y2="1968.95" stroke-dasharray="16 16"/><line x1="191.2" y1="1997.60" x2="767.3" y2="1997.60" stroke-dasharray="16 16"/><line x1="191.2" y1="2026.25" x2="767.3" y2="2026.25" stroke-dasharray="16 16"/><line x1="191.2" y1="2054.90" x2="767.3" y2="2054.90" stroke-dasharray="16 16"/><line x1="191.2" y1="2083.55" x2="767.3" y2="2083.55" stroke-dasharray="16 16"/><line x1="191.2" y1="2112.20" x2="767.3" y2="2112.20" stroke-dasharray="16 16"/><line x1="191.2" y1="2140.85" x2="767.3" y2="2140.85" stroke-dasharray="16 16"/><line x1="191.2" y1="2169.50" x2="767.3" y2="2169.50" stroke-dasharray="16 16"/><line x1="191.2" y1="2198.15" x2="767.3" y2="2198.15" stroke-dasharray="16 16"/><line x1="191.2" y1="2226.80" x2="767.3" y2="2226.80" stroke-dasharray="16 16"/><line x1="191.2" y1="2255.45" x2="767.3" y2="2255.45" stroke-dasharray="16 16"/><line x1="191.2" y1="2284.10" x2="767.3" y2="2284.10" stroke-dasharray="16 16"/><line x1="191.2" y1="2312.75" x2="767.3" y2="2312.75" stroke-dasharray="16 16"/><line x1="217.40" y1="2330.5" x2="217.40" y2="1236.1" stroke-dasharray="16 15.83"/><line x1="257.85" y1="2330.5" x2="257.85" y2="1236.1" stroke-dasharray="16 15.83"/><line x1="298.30" y1="2330.5" x2="298.30" y2="1236.1" stroke-dasharray="16 15.83"/><line x1="338.75" y1="2330.5" x2="338.75" y2="1236.1" stroke-dasharray="16 15.83"/><line x1="379.20" y1="2330.5" x2="379.20" y2="1236.1" stroke-dasharray="16 15.83"/><line x1="419.65" y1="2330.5" x2="419.65" y2="1236.1" stroke-dasharray="16 15.83"/><line x1="460.10" y1="2330.5" x2="460.10" y2="1236.1" stroke-dasharray="16 15.83"/><line x1="500.55" y1="2330.5" x2="500.55" y2="1236.1" stroke-dasharray="16 15.83"/><line x1="541.00" y1="2330.5" x2="541.00" y2="1236.1" stroke-dasharray="16 15.83"/><line x1="581.45" y1="2330.5" x2="581.45" y2="1236.1" stroke-dasharray="16 15.83"/><line x1="621.90" y1="2330.5" x2="621.90" y2="1236.1" stroke-dasharray="16 15.83"/><line x1="662.35" y1="2330.5" x2="662.35" y2="1236.1" stroke-dasharray="16 15.83"/><line x1="702.80" y1="2330.5" x2="702.80" y2="1236.1" stroke-dasharray="16 15.83"/><line x1="743.25" y1="2330.5" x2="743.25" y2="1236.1" stroke-dasharray="16 15.83"/></g>
<g clip-path="url(#clipC)"><circle cx="257.9" cy="1252.7" r="26.1" fill="#ede4f2"/><circle cx="702.8" cy="2083.6" r="21.1" fill="#f6a087"/><circle cx="702.8" cy="2112.2" r="20.4" fill="#fac8b6"/><circle cx="217.4" cy="1252.7" r="18.8" fill="#f0e9f5"/><circle cx="217.4" cy="1281.4" r="14.3" fill="#f5f0f8"/><circle cx="621.9" cy="2312.8" r="13.6" fill="#f4937a"/><circle cx="298.3" cy="1367.3" r="13.2" fill="#e8ddef"/><circle cx="379.2" cy="1252.7" r="12.3" fill="#f7f4fa"/><circle cx="298.3" cy="1969.0" r="12.3" fill="#e8ddef"/><circle cx="257.9" cy="1453.2" r="11.9" fill="#ede4f2"/><circle cx="702.8" cy="1854.3" r="11.8" fill="#d3c3e1"/><circle cx="217.4" cy="1310.0" r="11.6" fill="#ede4f2"/><circle cx="621.9" cy="2284.1" r="11.6" fill="#fac8b6"/><circle cx="298.3" cy="1481.9" r="10.8" fill="#e8ddef"/><circle cx="743.2" cy="1682.5" r="10.8" fill="#f59b82"/><circle cx="743.2" cy="1969.0" r="10.8" fill="#f6a087"/><circle cx="743.2" cy="2026.2" r="10.8" fill="#f8ad96"/><circle cx="581.5" cy="1424.6" r="10.6" fill="#fbcdbd"/><circle cx="743.2" cy="1453.2" r="9.9" fill="#f9bea9"/><circle cx="743.2" cy="1596.5" r="9.9" fill="#f6a087"/><circle cx="298.3" cy="1682.5" r="9.9" fill="#f5f0f8"/><circle cx="298.3" cy="1739.8" r="9.9" fill="#f5f0f8"/><circle cx="298.3" cy="2026.2" r="9.9" fill="#f2ecf6"/><circle cx="298.3" cy="2198.2" r="9.9" fill="#f5f0f8"/><circle cx="217.4" cy="1338.7" r="9.6" fill="#e8ddef"/><circle cx="702.8" cy="2140.8" r="9.4" fill="#fac8b6"/><circle cx="621.9" cy="2255.4" r="9.4" fill="#fac8b6"/><circle cx="257.9" cy="1367.3" r="9.1" fill="#ede4f2"/><circle cx="743.2" cy="1367.3" r="8.9" fill="#f9b8a3"/><circle cx="298.3" cy="1396.0" r="8.9" fill="#f2ecf6"/><circle cx="743.2" cy="1539.2" r="8.9" fill="#f7a88f"/><circle cx="298.3" cy="1596.5" r="8.9" fill="#ede4f2"/><circle cx="743.2" cy="1625.2" r="8.9" fill="#f8b39c"/><circle cx="298.3" cy="1797.1" r="8.9" fill="#f0e9f5"/><circle cx="743.2" cy="1854.3" r="8.9" fill="#fac3b0"/><circle cx="298.3" cy="1883.0" r="8.9" fill="#f5f0f8"/><circle cx="743.2" cy="1940.3" r="8.9" fill="#f7a88f"/><circle cx="743.2" cy="2169.5" r="8.9" fill="#f6a087"/><circle cx="581.5" cy="1367.3" r="8.6" fill="#e3d6ec"/><circle cx="621.9" cy="1854.3" r="8.6" fill="#e3d6ec"/><circle cx="257.9" cy="1969.0" r="8.6" fill="#ede4f2"/><circle cx="338.8" cy="1367.3" r="8.5" fill="#ded0e8"/><circle cx="257.9" cy="1310.0" r="8.4" fill="#f7f4fa"/><circle cx="257.9" cy="1338.7" r="8.4" fill="#ede4f2"/><circle cx="743.2" cy="1424.6" r="8.4" fill="#f8b39c"/><circle cx="702.8" cy="1969.0" r="9.0" fill="#fac3b0"/><circle cx="702.8" cy="2169.5" r="8.4" fill="#f6a087"/><circle cx="298.3" cy="2312.8" r="9.0" fill="#f8f6fa"/><circle cx="581.5" cy="1453.2" r="8.9" fill="#e8ddef"/><circle cx="743.2" cy="1252.7" r="8.1" fill="#f9bea9"/><circle cx="743.2" cy="1281.4" r="8.1" fill="#fac3b0"/><circle cx="743.2" cy="1310.0" r="8.1" fill="#fac3b0"/><circle cx="743.2" cy="1338.7" r="8.1" fill="#f9bea9"/><circle cx="298.3" cy="1625.2" r="8.1" fill="#faf7fb"/><circle cx="298.3" cy="1768.4" r="8.1" fill="#f7f4fa"/><circle cx="298.3" cy="2083.6" r="8.1" fill="#f7f4fa"/><circle cx="379.2" cy="2169.5" r="8.5" fill="#fcdcd0"/><circle cx="217.4" cy="2226.8" r="8.5" fill="#fcd7ca"/><circle cx="257.9" cy="1281.4" r="7.7" fill="#fbf9fc"/><circle cx="419.6" cy="1281.4" r="8.3" fill="#f27858"/><circle cx="379.2" cy="1453.2" r="7.7" fill="#f2ecf6"/><circle cx="257.9" cy="1481.9" r="7.7" fill="#ede4f2"/><circle cx="743.2" cy="1481.9" r="7.7" fill="#f6a087"/><circle cx="743.2" cy="1510.5" r="7.7" fill="#fac3b0"/><circle cx="257.9" cy="1596.5" r="7.7" fill="#f0e9f5"/><circle cx="743.2" cy="1653.8" r="7.7" fill="#f7a88f"/><circle cx="257.9" cy="1682.5" r="7.7" fill="#f5f0f8"/><circle cx="743.2" cy="1711.1" r="7.7" fill="#fac3b0"/><circle cx="743.2" cy="1739.8" r="7.7" fill="#fac8b6"/><circle cx="581.5" cy="1768.4" r="8.3" fill="#fde9e1"/><circle cx="743.2" cy="1768.4" r="7.7" fill="#fac8b6"/><circle cx="743.2" cy="1797.1" r="7.7" fill="#fac8b6"/><circle cx="743.2" cy="1825.7" r="7.7" fill="#f9bea9"/><circle cx="743.2" cy="1883.0" r="7.7" fill="#fac3b0"/><circle cx="743.2" cy="1911.7" r="7.7" fill="#fac3b0"/><circle cx="702.8" cy="2198.2" r="7.7" fill="#f9b8a3"/><circle cx="541.0" cy="2226.8" r="7.7" fill="#f8ad96"/><circle cx="702.8" cy="2226.8" r="7.7" fill="#f7a88f"/><circle cx="298.3" cy="2284.1" r="8.3" fill="#f2ecf6"/><circle cx="379.2" cy="1310.0" r="7.4" fill="#f7f4fa"/><circle cx="743.2" cy="1396.0" r="7.4" fill="#fac3b0"/><circle cx="743.2" cy="1567.8" r="7.4" fill="#f9bea9"/><circle cx="257.9" cy="1911.7" r="8.0" fill="#fef0ea"/><circle cx="217.4" cy="1997.6" r="8.0" fill="#fcd7ca"/><circle cx="743.2" cy="1997.6" r="7.4" fill="#f9bea9"/><circle cx="217.4" cy="2026.2" r="8.0" fill="#fde3d9"/><circle cx="298.3" cy="2169.5" r="8.0" fill="#fcfbfd"/><circle cx="257.9" cy="2198.2" r="8.0" fill="#fef0ea"/><circle cx="541.0" cy="1739.8" r="7.8" fill="#ded0e8"/><circle cx="541.0" cy="2198.2" r="7.8" fill="#fcd7ca"/><circle cx="338.8" cy="1424.6" r="7.7" fill="#fcd7ca"/><circle cx="338.8" cy="1940.3" r="7.7" fill="#fbd2c3"/><circle cx="338.8" cy="1969.0" r="7.7" fill="#fac8b6"/><circle cx="702.8" cy="2054.9" r="7.1" fill="#fde3d9"/><circle cx="217.4" cy="1396.0" r="7.5" fill="#f5f0f8"/><circle cx="581.5" cy="1396.0" r="7.5" fill="#fde3d9"/><circle cx="217.4" cy="1424.6" r="7.5" fill="#f7f4fa"/><circle cx="217.4" cy="1453.2" r="7.5" fill="#faf7fb"/><circle cx="217.4" cy="1481.9" r="7.5" fill="#faf7fb"/><circle cx="217.4" cy="1510.5" r="7.5" fill="#faf7fb"/><circle cx="257.9" cy="1567.8" r="7.5" fill="#f5f0f8"/><circle cx="257.9" cy="1739.8" r="7.5" fill="#f2ecf6"/><circle cx="257.9" cy="1768.4" r="7.5" fill="#fef6f2"/><circle cx="379.2" cy="1797.1" r="7.5" fill="#feede7"/><circle cx="621.9" cy="1797.1" r="6.9" fill="#ede4f2"/><circle cx="257.9" cy="1854.3" r="7.5" fill="#fef6f2"/><circle cx="257.9" cy="1997.6" r="7.5" fill="#fde3d9"/><circle cx="379.2" cy="1997.6" r="7.5" fill="#fcdcd0"/><circle cx="257.9" cy="2169.5" r="7.5" fill="#fde9e1"/><circle cx="338.8" cy="2198.2" r="7.5" fill="#fcd7ca"/><circle cx="581.5" cy="2198.2" r="7.5" fill="#fde9e1"/><circle cx="743.2" cy="2284.1" r="7.5" fill="#f6a48b"/><circle cx="581.5" cy="2312.8" r="7.5" fill="#fcdcd0"/><circle cx="743.2" cy="2312.8" r="7.5" fill="#fbd2c3"/><circle cx="379.2" cy="1653.8" r="7.2" fill="#f0e9f5"/><circle cx="702.8" cy="1768.4" r="7.2" fill="#e8ddef"/><circle cx="541.0" cy="1367.3" r="7.0" fill="#e8ddef"/><circle cx="257.9" cy="1510.5" r="7.0" fill="#f7f4fa"/><circle cx="257.9" cy="1539.2" r="7.0" fill="#e8ddef"/><circle cx="257.9" cy="1625.2" r="7.0" fill="#fef3ee"/><circle cx="217.4" cy="1911.7" r="7.0" fill="#fcdcd0"/><circle cx="217.4" cy="1969.0" r="7.0" fill="#fde3d9"/><circle cx="217.4" cy="2083.6" r="7.0" fill="#f2ecf6"/><circle cx="338.8" cy="2169.5" r="7.0" fill="#fac8b6"/><circle cx="338.8" cy="2226.8" r="7.0" fill="#fac3b0"/><circle cx="743.2" cy="2255.4" r="7.0" fill="#f6a48b"/><circle cx="217.4" cy="1367.3" r="6.9" fill="#f5f0f8"/><circle cx="257.9" cy="1424.6" r="6.7" fill="#fef8f4"/><circle cx="581.5" cy="1825.7" r="6.7" fill="#fbd2c3"/><circle cx="338.8" cy="1911.7" r="6.7" fill="#fbcdbd"/><circle cx="581.5" cy="1911.7" r="6.7" fill="#fde3d9"/><circle cx="217.4" cy="2284.1" r="6.7" fill="#f7f4fa"/><circle cx="217.4" cy="2312.8" r="6.7" fill="#feede7"/><circle cx="217.4" cy="1539.2" r="6.5" fill="#e3d6ec"/><circle cx="298.3" cy="1567.8" r="6.5" fill="#faf7fb"/><circle cx="379.2" cy="1567.8" r="6.5" fill="#f2ecf6"/><circle cx="379.2" cy="1625.2" r="6.5" fill="#fef0ea"/><circle cx="379.2" cy="1768.4" r="6.5" fill="#fef3ee"/><circle cx="257.9" cy="1797.1" r="6.5" fill="#faf7fb"/><circle cx="217.4" cy="1854.3" r="6.5" fill="#fef3ee"/><circle cx="217.4" cy="1883.0" r="6.5" fill="#fef3ee"/><circle cx="217.4" cy="1940.3" r="6.5" fill="#feede7"/><circle cx="257.9" cy="2026.2" r="6.5" fill="#faf7fb"/><circle cx="379.2" cy="2026.2" r="6.5" fill="#fef0ea"/><circle cx="379.2" cy="2083.6" r="6.5" fill="#f5f0f8"/><circle cx="379.2" cy="2198.2" r="6.5" fill="#fef6f2"/><circle cx="460.1" cy="2198.2" r="6.5" fill="#fac3b0"/><circle cx="460.1" cy="1969.0" r="6.3" fill="#f8b39c"/><circle cx="298.3" cy="1252.7" r="6.2" fill="#fcfbfd"/><circle cx="419.6" cy="1252.7" r="6.2" fill="#f8b39c"/><circle cx="379.2" cy="1338.7" r="6.2" fill="#faf7fb"/><circle cx="419.6" cy="1367.3" r="6.2" fill="#f4937a"/><circle cx="379.2" cy="1424.6" r="6.2" fill="#f7f4fa"/><circle cx="338.8" cy="1453.2" r="6.2" fill="#ede4f2"/><circle cx="460.1" cy="1453.2" r="6.2" fill="#f0e9f5"/><circle cx="217.4" cy="1768.4" r="6.0" fill="#fef3ee"/><circle cx="217.4" cy="1797.1" r="6.0" fill="#fef6f2"/><circle cx="217.4" cy="1825.7" r="6.0" fill="#fff9f7"/><circle cx="257.9" cy="1883.0" r="6.0" fill="#fbf9fc"/><circle cx="298.3" cy="1911.7" r="6.0" fill="#fef3ee"/><circle cx="743.2" cy="2083.6" r="6.0" fill="#fbcdbd"/><circle cx="217.4" cy="2169.5" r="6.0" fill="#fde9e1"/><circle cx="257.9" cy="2226.8" r="6.0" fill="#feede7"/><circle cx="581.5" cy="2226.8" r="6.0" fill="#fcdcd0"/><circle cx="581.5" cy="1281.4" r="5.8" fill="#fef8f4"/><circle cx="581.5" cy="1481.9" r="5.8" fill="#ede4f2"/><circle cx="581.5" cy="2112.2" r="5.8" fill="#f6a087"/><circle cx="581.5" cy="1338.7" r="5.5" fill="#ede4f2"/><circle cx="460.1" cy="1367.3" r="5.5" fill="#ded0e8"/><circle cx="298.3" cy="1453.2" r="5.5" fill="#fbf9fc"/><circle cx="379.2" cy="1682.5" r="5.5" fill="#fde9e1"/><circle cx="338.8" cy="1797.1" r="5.5" fill="#fcdcd0"/><circle cx="460.1" cy="1797.1" r="5.5" fill="#fbd2c3"/><circle cx="338.8" cy="1997.6" r="5.5" fill="#fcdcd0"/><circle cx="379.2" cy="2226.8" r="5.5" fill="#fef0ea"/><circle cx="500.6" cy="1252.7" r="5.0" fill="#fde9e1"/><circle cx="581.5" cy="1310.0" r="5.0" fill="#faf7fb"/><circle cx="298.3" cy="1510.5" r="5.0" fill="#fcfbfd"/><circle cx="217.4" cy="1596.5" r="5.0" fill="#fef6f2"/><circle cx="298.3" cy="1653.8" r="5.0" fill="#fef0ea"/><circle cx="298.3" cy="1711.1" r="5.0" fill="#faf7fb"/><circle cx="257.9" cy="1825.7" r="5.0" fill="#fffcfb"/><circle cx="298.3" cy="1854.3" r="5.0" fill="#fbf9fc"/><circle cx="338.8" cy="1854.3" r="5.0" fill="#fde3d9"/><circle cx="298.3" cy="1940.3" r="5.0" fill="#fff9f7"/><circle cx="298.3" cy="1997.6" r="5.0" fill="#fde9e1"/><circle cx="298.3" cy="2054.9" r="5.0" fill="#ded0e8"/><circle cx="217.4" cy="2140.8" r="5.0" fill="#f8ad96"/><circle cx="298.3" cy="2140.8" r="5.0" fill="#fbd2c3"/><circle cx="298.3" cy="2226.8" r="5.0" fill="#fef0ea"/><circle cx="298.3" cy="2255.4" r="5.0" fill="#ac9acb"/><circle cx="379.2" cy="2312.8" r="5.0" fill="#fef3ee"/><circle cx="662.4" cy="1281.4" r="4.8" fill="#fac3b0"/><circle cx="460.1" cy="1281.4" r="4.5" fill="#fef3ee"/><circle cx="500.6" cy="1281.4" r="4.5" fill="#fcd7ca"/><circle cx="702.8" cy="1281.4" r="4.5" fill="#fbcdbd"/><circle cx="298.3" cy="1310.0" r="4.5" fill="#fbf9fc"/><circle cx="419.6" cy="1310.0" r="4.5" fill="#fde9e1"/><circle cx="500.6" cy="1310.0" r="4.5" fill="#fde9e1"/><circle cx="338.8" cy="1338.7" r="4.5" fill="#e3d6ec"/><circle cx="500.6" cy="1338.7" r="4.5" fill="#fac8b6"/><circle cx="500.6" cy="1367.3" r="4.5" fill="#fde9e1"/><circle cx="419.6" cy="1396.0" r="4.5" fill="#f9bea9"/><circle cx="541.0" cy="1424.6" r="4.5" fill="#fde3d9"/><circle cx="500.6" cy="1453.2" r="4.5" fill="#fcdcd0"/><circle cx="338.8" cy="1481.9" r="4.5" fill="#fcdcd0"/><circle cx="460.1" cy="1481.9" r="4.5" fill="#fbcdbd"/><circle cx="662.4" cy="1481.9" r="4.5" fill="#c3b1d9"/><circle cx="702.8" cy="1481.9" r="4.5" fill="#fcdcd0"/><circle cx="338.8" cy="1510.5" r="4.5" fill="#fbcdbd"/><circle cx="460.1" cy="1510.5" r="4.5" fill="#fde3d9"/><circle cx="500.6" cy="1510.5" r="4.5" fill="#ac9acb"/><circle cx="298.3" cy="1539.2" r="4.5" fill="#fbf9fc"/><circle cx="338.8" cy="1539.2" r="4.5" fill="#f4937a"/><circle cx="379.2" cy="1539.2" r="4.5" fill="#fde3d9"/><circle cx="460.1" cy="1539.2" r="4.5" fill="#f4937a"/><circle cx="500.6" cy="1567.8" r="4.5" fill="#fcdcd0"/><circle cx="419.6" cy="1596.5" r="4.5" fill="#f7a88f"/><circle cx="662.4" cy="1596.5" r="4.5" fill="#bdabd6"/><circle cx="338.8" cy="1625.2" r="4.5" fill="#fde9e1"/><circle cx="460.1" cy="1625.2" r="4.5" fill="#fbd2c3"/><circle cx="500.6" cy="1625.2" r="4.5" fill="#fbd2c3"/><circle cx="217.4" cy="1653.8" r="4.5" fill="#fef0ea"/><circle cx="257.9" cy="1653.8" r="4.5" fill="#fde9e1"/><circle cx="338.8" cy="1653.8" r="4.5" fill="#fcd7ca"/><circle cx="419.6" cy="1653.8" r="4.5" fill="#f3886c"/><circle cx="460.1" cy="1653.8" r="4.5" fill="#fde9e1"/><circle cx="500.6" cy="1653.8" r="4.5" fill="#fde3d9"/><circle cx="621.9" cy="1653.8" r="4.5" fill="#fde3d9"/><circle cx="662.4" cy="1653.8" r="4.5" fill="#fac8b6"/><circle cx="338.8" cy="1682.5" r="4.5" fill="#fcd7ca"/><circle cx="419.6" cy="1682.5" r="4.5" fill="#f4937a"/><circle cx="460.1" cy="1682.5" r="4.5" fill="#f9b8a3"/><circle cx="500.6" cy="1682.5" r="4.5" fill="#f48e73"/><circle cx="541.0" cy="1682.5" r="4.5" fill="#fde9e1"/><circle cx="702.8" cy="1682.5" r="4.5" fill="#fbcdbd"/><circle cx="338.8" cy="1711.1" r="4.5" fill="#f0e9f5"/><circle cx="460.1" cy="1711.1" r="4.5" fill="#feede7"/><circle cx="500.6" cy="1711.1" r="4.5" fill="#fde3d9"/><circle cx="621.9" cy="1711.1" r="4.5" fill="#fbd2c3"/><circle cx="662.4" cy="1711.1" r="4.5" fill="#fde3d9"/><circle cx="338.8" cy="1739.8" r="4.5" fill="#f7f4fa"/><circle cx="379.2" cy="1739.8" r="4.5" fill="#fffaf9"/><circle cx="460.1" cy="1739.8" r="4.5" fill="#ded0e8"/><circle cx="500.6" cy="1739.8" r="4.5" fill="#fcd7ca"/><circle cx="460.1" cy="1825.7" r="4.5" fill="#fef0ea"/><circle cx="500.6" cy="1825.7" r="4.5" fill="#fef3ee"/><circle cx="621.9" cy="1825.7" r="4.5" fill="#fde3d9"/><circle cx="419.6" cy="1854.3" r="4.5" fill="#f9b8a3"/><circle cx="460.1" cy="1854.3" r="4.5" fill="#fde9e1"/><circle cx="662.4" cy="1854.3" r="4.5" fill="#fac3b0"/><circle cx="338.8" cy="1883.0" r="4.5" fill="#fde3d9"/><circle cx="419.6" cy="1883.0" r="4.5" fill="#feede7"/><circle cx="500.6" cy="1883.0" r="4.5" fill="#fde9e1"/><circle cx="541.0" cy="1883.0" r="4.5" fill="#feede7"/><circle cx="419.6" cy="1911.7" r="4.5" fill="#f9b8a3"/><circle cx="419.6" cy="1940.3" r="4.5" fill="#fde9e1"/><circle cx="460.1" cy="1940.3" r="4.5" fill="#fcd7ca"/><circle cx="541.0" cy="1940.3" r="4.5" fill="#fde3d9"/><circle cx="581.5" cy="1940.3" r="4.5" fill="#f2ecf6"/><circle cx="419.6" cy="1969.0" r="4.5" fill="#fbd2c3"/><circle cx="500.6" cy="1969.0" r="4.5" fill="#f0e9f5"/><circle cx="541.0" cy="1969.0" r="4.5" fill="#fde3d9"/><circle cx="621.9" cy="1969.0" r="4.5" fill="#fcd7ca"/><circle cx="662.4" cy="1969.0" r="4.5" fill="#f9b8a3"/><circle cx="419.6" cy="1997.6" r="4.5" fill="#fac8b6"/><circle cx="460.1" cy="1997.6" r="4.5" fill="#f0e9f5"/><circle cx="500.6" cy="1997.6" r="4.5" fill="#fac3b0"/><circle cx="541.0" cy="1997.6" r="4.5" fill="#fde3d9"/><circle cx="702.8" cy="1997.6" r="4.5" fill="#fbd2c3"/><circle cx="662.4" cy="2026.2" r="4.5" fill="#fbd2c3"/><circle cx="379.2" cy="2054.9" r="4.5" fill="#fbcdbd"/><circle cx="419.6" cy="2054.9" r="4.5" fill="#fcdcd0"/><circle cx="581.5" cy="2054.9" r="4.5" fill="#f59b82"/><circle cx="621.9" cy="2054.9" r="4.5" fill="#fde3d9"/><circle cx="419.6" cy="2083.6" r="4.5" fill="#fcd7ca"/><circle cx="460.1" cy="2083.6" r="4.5" fill="#d3c3e1"/><circle cx="500.6" cy="2083.6" r="4.5" fill="#d3c3e1"/><circle cx="541.0" cy="2083.6" r="4.5" fill="#fde9e1"/><circle cx="217.4" cy="2112.2" r="4.5" fill="#fbcdbd"/><circle cx="257.9" cy="2112.2" r="4.5" fill="#ede4f2"/><circle cx="298.3" cy="2112.2" r="4.5" fill="#fef6f2"/><circle cx="338.8" cy="2112.2" r="4.5" fill="#9584bf"/><circle cx="379.2" cy="2112.2" r="4.5" fill="#fde9e1"/><circle cx="460.1" cy="2112.2" r="4.5" fill="#f4937a"/><circle cx="500.6" cy="2112.2" r="4.5" fill="#a08ec4"/><circle cx="541.0" cy="2112.2" r="4.5" fill="#fcd7ca"/><circle cx="621.9" cy="2112.2" r="4.5" fill="#fbcdbd"/><circle cx="662.4" cy="2112.2" r="4.5" fill="#fcd7ca"/><circle cx="743.2" cy="2112.2" r="4.5" fill="#f0e9f5"/><circle cx="338.8" cy="2140.8" r="4.5" fill="#fac3b0"/><circle cx="379.2" cy="2140.8" r="4.5" fill="#fcdcd0"/><circle cx="419.6" cy="2140.8" r="4.5" fill="#f9bea9"/><circle cx="500.6" cy="2140.8" r="4.5" fill="#fcdcd0"/><circle cx="541.0" cy="2140.8" r="4.5" fill="#fde3d9"/><circle cx="581.5" cy="2140.8" r="4.5" fill="#f6a48b"/><circle cx="621.9" cy="2140.8" r="4.5" fill="#fcd7ca"/><circle cx="662.4" cy="2140.8" r="4.5" fill="#f9b8a3"/><circle cx="743.2" cy="2140.8" r="4.5" fill="#fde3d9"/><circle cx="460.1" cy="2169.5" r="4.5" fill="#fde3d9"/><circle cx="541.0" cy="2169.5" r="4.5" fill="#fde3d9"/><circle cx="662.4" cy="2169.5" r="4.5" fill="#f9bea9"/><circle cx="217.4" cy="2198.2" r="4.5" fill="#fffaf9"/><circle cx="419.6" cy="2198.2" r="4.5" fill="#f59b82"/><circle cx="500.6" cy="2198.2" r="4.5" fill="#e8ddef"/><circle cx="419.6" cy="2226.8" r="4.5" fill="#fbd2c3"/><circle cx="460.1" cy="2226.8" r="4.5" fill="#fac3b0"/><circle cx="662.4" cy="2226.8" r="4.5" fill="#fde3d9"/><circle cx="743.2" cy="2226.8" r="4.5" fill="#fde3d9"/><circle cx="257.9" cy="2255.4" r="4.5" fill="#fde3d9"/><circle cx="379.2" cy="2255.4" r="4.5" fill="#f8b39c"/><circle cx="581.5" cy="2255.4" r="4.5" fill="#ede4f2"/><circle cx="338.8" cy="2284.1" r="4.5" fill="#ede4f2"/><circle cx="419.6" cy="2284.1" r="4.5" fill="#f9b8a3"/><circle cx="460.1" cy="2284.1" r="4.5" fill="#fef0ea"/><circle cx="500.6" cy="2284.1" r="4.5" fill="#f9bea9"/><circle cx="541.0" cy="2284.1" r="4.5" fill="#ede4f2"/><circle cx="581.5" cy="2284.1" r="4.5" fill="#f0e9f5"/><circle cx="662.4" cy="2284.1" r="4.5" fill="#e8ddef"/><circle cx="702.8" cy="2284.1" r="4.5" fill="#fac3b0"/><circle cx="419.6" cy="2312.8" r="4.5" fill="#fac3b0"/><circle cx="460.1" cy="2312.8" r="4.5" fill="#ede4f2"/><circle cx="500.6" cy="2312.8" r="4.5" fill="#fde9e1"/><circle cx="662.4" cy="2312.8" r="4.5" fill="#f0e9f5"/><circle cx="702.8" cy="2312.8" r="4.5" fill="#ede4f2"/><circle cx="581.5" cy="1252.7" r="4.2" fill="#f8f6fa"/><circle cx="621.9" cy="1252.7" r="4.2" fill="#f7f4fa"/><circle cx="662.4" cy="1252.7" r="4.2" fill="#fcd7ca"/><circle cx="621.9" cy="1281.4" r="4.2" fill="#fef6f2"/><circle cx="621.9" cy="1310.0" r="4.2" fill="#f5f0f8"/><circle cx="662.4" cy="1310.0" r="4.2" fill="#e3d6ec"/><circle cx="621.9" cy="1338.7" r="4.2" fill="#f2ecf6"/><circle cx="662.4" cy="1338.7" r="4.2" fill="#fde3d9"/><circle cx="702.8" cy="1338.7" r="4.2" fill="#fef0ea"/><circle cx="662.4" cy="1367.3" r="4.2" fill="#f2ecf6"/><circle cx="338.8" cy="1396.0" r="4.2" fill="#fef6f2"/><circle cx="460.1" cy="1396.0" r="4.2" fill="#fef0ea"/><circle cx="500.6" cy="1396.0" r="4.2" fill="#fde9e1"/><circle cx="541.0" cy="1396.0" r="4.2" fill="#ede4f2"/><circle cx="621.9" cy="1396.0" r="4.2" fill="#f0e9f5"/><circle cx="419.6" cy="1424.6" r="4.2" fill="#e3d6ec"/><circle cx="460.1" cy="1424.6" r="4.2" fill="#fbd2c3"/><circle cx="500.6" cy="1424.6" r="4.2" fill="#f8f6fa"/><circle cx="662.4" cy="1424.6" r="4.2" fill="#f0e9f5"/><circle cx="419.6" cy="1453.2" r="4.2" fill="#fef0ea"/><circle cx="662.4" cy="1453.2" r="4.2" fill="#fef0ea"/><circle cx="419.6" cy="1481.9" r="4.2" fill="#fef3ee"/><circle cx="500.6" cy="1481.9" r="4.2" fill="#f7f4fa"/><circle cx="541.0" cy="1481.9" r="4.2" fill="#f7f4fa"/><circle cx="419.6" cy="1510.5" r="4.2" fill="#e8ddef"/><circle cx="621.9" cy="1510.5" r="4.2" fill="#fde9e1"/><circle cx="662.4" cy="1510.5" r="4.2" fill="#feede7"/><circle cx="500.6" cy="1539.2" r="4.2" fill="#fef0ea"/><circle cx="338.8" cy="1567.8" r="4.2" fill="#fef0ea"/><circle cx="541.0" cy="1567.8" r="4.2" fill="#fde9e1"/><circle cx="662.4" cy="1567.8" r="4.2" fill="#feede7"/><circle cx="541.0" cy="1596.5" r="4.2" fill="#fef0ea"/><circle cx="621.9" cy="1596.5" r="4.2" fill="#fef0ea"/><circle cx="419.6" cy="1625.2" r="4.2" fill="#e8ddef"/><circle cx="541.0" cy="1625.2" r="4.2" fill="#fef3ee"/><circle cx="621.9" cy="1625.2" r="4.2" fill="#fde3d9"/><circle cx="662.4" cy="1625.2" r="4.2" fill="#fde3d9"/><circle cx="702.8" cy="1625.2" r="4.2" fill="#e8ddef"/><circle cx="541.0" cy="1653.8" r="4.2" fill="#ede4f2"/><circle cx="581.5" cy="1653.8" r="4.2" fill="#fef0ea"/><circle cx="702.8" cy="1653.8" r="4.2" fill="#feede7"/><circle cx="581.5" cy="1682.5" r="4.2" fill="#feede7"/><circle cx="702.8" cy="1711.1" r="4.2" fill="#feede7"/><circle cx="419.6" cy="1739.8" r="4.2" fill="#fef3ee"/><circle cx="621.9" cy="1739.8" r="4.2" fill="#fde3d9"/><circle cx="662.4" cy="1739.8" r="4.2" fill="#fde3d9"/><circle cx="419.6" cy="1768.4" r="4.2" fill="#feede7"/><circle cx="500.6" cy="1768.4" r="4.2" fill="#f7f4fa"/><circle cx="541.0" cy="1768.4" r="4.2" fill="#fef0ea"/><circle cx="621.9" cy="1768.4" r="4.2" fill="#f0e9f5"/><circle cx="662.4" cy="1768.4" r="4.2" fill="#f5f0f8"/><circle cx="419.6" cy="1797.1" r="4.2" fill="#faf7fb"/><circle cx="662.4" cy="1797.1" r="4.2" fill="#faf7fb"/><circle cx="338.8" cy="1825.7" r="4.2" fill="#f7f4fa"/><circle cx="419.6" cy="1825.7" r="4.2" fill="#f7f4fa"/><circle cx="541.0" cy="1825.7" r="4.2" fill="#fef6f2"/><circle cx="541.0" cy="1854.3" r="4.2" fill="#feede7"/><circle cx="460.1" cy="1883.0" r="4.2" fill="#fef6f2"/><circle cx="500.6" cy="1911.7" r="4.2" fill="#f2ecf6"/><circle cx="541.0" cy="1911.7" r="4.2" fill="#fff9f7"/><circle cx="621.9" cy="1911.7" r="4.2" fill="#f7f4fa"/><circle cx="662.4" cy="1911.7" r="4.2" fill="#fef0ea"/><circle cx="500.6" cy="1940.3" r="4.2" fill="#f7f4fa"/><circle cx="621.9" cy="1940.3" r="4.2" fill="#feede7"/><circle cx="662.4" cy="1940.3" r="4.2" fill="#ede4f2"/><circle cx="702.8" cy="1940.3" r="4.2" fill="#fcdcd0"/><circle cx="621.9" cy="1997.6" r="4.2" fill="#fef0ea"/><circle cx="419.6" cy="2026.2" r="4.2" fill="#fef0ea"/><circle cx="460.1" cy="2026.2" r="4.2" fill="#fde9e1"/><circle cx="500.6" cy="2026.2" r="4.2" fill="#f7f4fa"/><circle cx="541.0" cy="2026.2" r="4.2" fill="#fef3ee"/><circle cx="621.9" cy="2026.2" r="4.2" fill="#fde9e1"/><circle cx="662.4" cy="2054.9" r="4.2" fill="#fef0ea"/><circle cx="743.2" cy="2054.9" r="4.2" fill="#fef3ee"/><circle cx="581.5" cy="2083.6" r="4.2" fill="#fef3ee"/><circle cx="419.6" cy="2112.2" r="4.2" fill="#fef6f2"/><circle cx="460.1" cy="2140.8" r="4.2" fill="#fef0ea"/><circle cx="419.6" cy="2169.5" r="4.2" fill="#fef0ea"/><circle cx="500.6" cy="2169.5" r="4.2" fill="#ede4f2"/><circle cx="662.4" cy="2198.2" r="4.2" fill="#fde3d9"/><circle cx="743.2" cy="2198.2" r="4.2" fill="#fef3ee"/><circle cx="500.6" cy="2226.8" r="4.2" fill="#f7f4fa"/><circle cx="541.0" cy="2255.4" r="4.2" fill="#faf7fb"/><circle cx="702.8" cy="2255.4" r="4.2" fill="#feede7"/><circle cx="379.2" cy="2284.1" r="4.2" fill="#fbf9fc"/><circle cx="338.8" cy="1252.7" r="4.1" fill="#fff9f7"/><circle cx="702.8" cy="1252.7" r="4.0" fill="#fef8f4"/><circle cx="379.2" cy="1281.4" r="4.0" fill="#fef8f4"/><circle cx="338.8" cy="1310.0" r="4.0" fill="#fef8f4"/><circle cx="298.3" cy="1338.7" r="4.0" fill="#f8f6fa"/><circle cx="257.9" cy="1396.0" r="4.0" fill="#fcfbfd"/><circle cx="662.4" cy="1396.0" r="4.0" fill="#fbf9fc"/><circle cx="621.9" cy="1424.6" r="4.0" fill="#faf7fb"/><circle cx="702.8" cy="1424.6" r="4.0" fill="#f8f6fa"/><circle cx="702.8" cy="1453.2" r="4.0" fill="#fef6f2"/><circle cx="621.9" cy="1481.9" r="4.0" fill="#fef8f4"/><circle cx="419.6" cy="1539.2" r="4.0" fill="#faf7fb"/><circle cx="581.5" cy="1539.2" r="4.0" fill="#f7f4fa"/><circle cx="621.9" cy="1539.2" r="4.0" fill="#fef8f4"/><circle cx="662.4" cy="1539.2" r="4.0" fill="#f5f0f8"/><circle cx="419.6" cy="1567.8" r="4.0" fill="#f8f6fa"/><circle cx="460.1" cy="1567.8" r="4.0" fill="#f8f6fa"/><circle cx="581.5" cy="1567.8" r="4.0" fill="#f8f6fa"/><circle cx="621.9" cy="1567.8" r="4.0" fill="#fef3ee"/><circle cx="702.8" cy="1567.8" r="4.0" fill="#f5f0f8"/><circle cx="460.1" cy="1596.5" r="4.0" fill="#fcfbfd"/><circle cx="500.6" cy="1596.5" r="4.0" fill="#fef8f4"/><circle cx="581.5" cy="1596.5" r="4.0" fill="#fef8f4"/><circle cx="702.8" cy="1596.5" r="4.0" fill="#f5f0f8"/><circle cx="257.9" cy="1711.1" r="4.0" fill="#fcfbfd"/><circle cx="379.2" cy="1711.1" r="4.0" fill="#fbf9fc"/><circle cx="419.6" cy="1711.1" r="4.0" fill="#fef6f2"/><circle cx="338.8" cy="1768.4" r="4.0" fill="#fffaf9"/><circle cx="460.1" cy="1768.4" r="4.0" fill="#fffaf9"/><circle cx="500.6" cy="1797.1" r="4.0" fill="#fff9f7"/><circle cx="541.0" cy="1797.1" r="4.0" fill="#f7f4fa"/><circle cx="379.2" cy="1825.7" r="4.0" fill="#faf7fb"/><circle cx="702.8" cy="1825.7" r="4.0" fill="#fef6f2"/><circle cx="500.6" cy="1854.3" r="4.0" fill="#fef6f2"/><circle cx="379.2" cy="1911.7" r="4.0" fill="#fffaf9"/><circle cx="460.1" cy="1911.7" r="4.0" fill="#fbf9fc"/><circle cx="379.2" cy="1969.0" r="4.0" fill="#fff9f7"/><circle cx="662.4" cy="1997.6" r="4.0" fill="#fef6f2"/><circle cx="338.8" cy="2026.2" r="4.0" fill="#fef3ee"/><circle cx="338.8" cy="2054.9" r="4.0" fill="#fff9f7"/><circle cx="541.0" cy="2054.9" r="4.0" fill="#fef6f2"/><circle cx="621.9" cy="2083.6" r="4.0" fill="#fcfbfd"/><circle cx="662.4" cy="2083.6" r="4.0" fill="#fbf9fc"/><circle cx="257.9" cy="2140.8" r="4.0" fill="#fff9f7"/><circle cx="581.5" cy="2169.5" r="4.0" fill="#fef6f2"/><circle cx="621.9" cy="2169.5" r="4.0" fill="#fef8f4"/><circle cx="621.9" cy="2226.8" r="4.0" fill="#fef6f2"/><circle cx="621.9" cy="1367.3" r="3.8" fill="#f8f6fa"/><circle cx="702.8" cy="1367.3" r="3.8" fill="#fef8f4"/><circle cx="541.0" cy="1310.0" r="3.5" fill="#ffffff"/><circle cx="702.8" cy="1310.0" r="3.5" fill="#fcfbfd"/><circle cx="419.6" cy="1338.7" r="3.5" fill="#fffcfb"/><circle cx="460.1" cy="1338.7" r="3.5" fill="#fef8f4"/><circle cx="541.0" cy="1338.7" r="3.5" fill="#fffaf9"/><circle cx="379.2" cy="1510.5" r="3.5" fill="#fbf9fc"/><circle cx="338.8" cy="1596.5" r="3.5" fill="#fffcfb"/><circle cx="217.4" cy="1682.5" r="3.5" fill="#fef8f4"/><circle cx="621.9" cy="1682.5" r="3.5" fill="#fef8f4"/><circle cx="662.4" cy="1682.5" r="3.5" fill="#fffaf9"/><circle cx="217.4" cy="1711.1" r="3.5" fill="#fcfbfd"/><circle cx="217.4" cy="1739.8" r="3.5" fill="#fffaf9"/><circle cx="702.8" cy="1739.8" r="3.5" fill="#fef8f4"/><circle cx="581.5" cy="1854.3" r="3.5" fill="#fff9f7"/><circle cx="581.5" cy="1883.0" r="3.5" fill="#fffaf9"/><circle cx="621.9" cy="1883.0" r="3.5" fill="#fbf9fc"/><circle cx="702.8" cy="1911.7" r="3.5" fill="#fcfbfd"/><circle cx="702.8" cy="2026.2" r="3.5" fill="#fff9f7"/><circle cx="338.8" cy="2083.6" r="3.5" fill="#ffffff"/><circle cx="541.0" cy="1281.4" r="3.0" fill="#fffefd"/><circle cx="581.5" cy="1510.5" r="3.0" fill="#ffffff"/><circle cx="581.5" cy="1625.2" r="3.0" fill="#fffcfb"/><circle cx="541.0" cy="1711.1" r="3.0" fill="#fcfbfd"/><circle cx="702.8" cy="1883.0" r="3.0" fill="#fcfbfd"/><circle cx="338.8" cy="2312.8" r="3.0" fill="#ffffff"/><circle cx="379.2" cy="1396.0" r="2.5" fill="#ffffff"/><circle cx="702.8" cy="1396.0" r="2.5" fill="#ffffff"/><circle cx="581.5" cy="1711.1" r="2.5" fill="#ffffff"/><circle cx="702.8" cy="1797.1" r="2.5" fill="#ffffff"/><circle cx="581.5" cy="1739.8" r="2.0" fill="#ffffff"/><circle cx="581.5" cy="1797.1" r="2.0" fill="#ffffff"/><circle cx="298.3" cy="1825.7" r="2.0" fill="#ffffff"/><circle cx="257.9" cy="1940.3" r="2.0" fill="#ffffff"/><circle cx="379.2" cy="1940.3" r="2.0" fill="#ffffff"/><circle cx="581.5" cy="1969.0" r="2.0" fill="#ffffff"/><circle cx="581.5" cy="1997.6" r="2.0" fill="#ffffff"/><circle cx="581.5" cy="2026.2" r="2.0" fill="#ffffff"/><circle cx="217.4" cy="1252.7" r="18.8" fill="none" stroke="#000" stroke-width="1.4"/><circle cx="257.9" cy="1252.7" r="26.1" fill="none" stroke="#000" stroke-width="1.4"/><circle cx="379.2" cy="1252.7" r="12.3" fill="none" stroke="#000" stroke-width="1.4"/><circle cx="743.2" cy="1252.7" r="8.1" fill="none" stroke="#000" stroke-width="1.4"/><circle cx="217.4" cy="1281.4" r="14.3" fill="none" stroke="#000" stroke-width="1.4"/><circle cx="257.9" cy="1281.4" r="7.7" fill="none" stroke="#000" stroke-width="1.4"/><circle cx="743.2" cy="1281.4" r="8.1" fill="none" stroke="#000" stroke-width="1.4"/><circle cx="217.4" cy="1310.0" r="11.6" fill="none" stroke="#000" stroke-width="1.4"/><circle cx="257.9" cy="1310.0" r="8.4" fill="none" stroke="#000" stroke-width="1.4"/><circle cx="379.2" cy="1310.0" r="7.4" fill="none" stroke="#000" stroke-width="1.4"/><circle cx="743.2" cy="1310.0" r="8.1" fill="none" stroke="#000" stroke-width="1.4"/><circle cx="217.4" cy="1338.7" r="9.6" fill="none" stroke="#000" stroke-width="1.4"/><circle cx="257.9" cy="1338.7" r="8.4" fill="none" stroke="#000" stroke-width="1.4"/><circle cx="743.2" cy="1338.7" r="8.1" fill="none" stroke="#000" stroke-width="1.4"/><circle cx="257.9" cy="1367.3" r="9.1" fill="none" stroke="#000" stroke-width="1.4"/><circle cx="298.3" cy="1367.3" r="13.2" fill="none" stroke="#000" stroke-width="1.4"/><circle cx="338.8" cy="1367.3" r="8.5" fill="none" stroke="#000" stroke-width="1.4"/><circle cx="581.5" cy="1367.3" r="8.6" fill="none" stroke="#000" stroke-width="1.4"/><circle cx="743.2" cy="1367.3" r="8.9" fill="none" stroke="#000" stroke-width="1.4"/><circle cx="298.3" cy="1396.0" r="8.9" fill="none" stroke="#000" stroke-width="1.4"/><circle cx="743.2" cy="1396.0" r="7.4" fill="none" stroke="#000" stroke-width="1.4"/><circle cx="581.5" cy="1424.6" r="10.6" fill="none" stroke="#000" stroke-width="1.4"/><circle cx="743.2" cy="1424.6" r="8.4" fill="none" stroke="#000" stroke-width="1.4"/><circle cx="257.9" cy="1453.2" r="11.9" fill="none" stroke="#000" stroke-width="1.4"/><circle cx="379.2" cy="1453.2" r="7.7" fill="none" stroke="#000" stroke-width="1.4"/><circle cx="743.2" cy="1453.2" r="9.9" fill="none" stroke="#000" stroke-width="1.4"/><circle cx="257.9" cy="1481.9" r="7.7" fill="none" stroke="#000" stroke-width="1.4"/><circle cx="298.3" cy="1481.9" r="10.8" fill="none" stroke="#000" stroke-width="1.4"/><circle cx="743.2" cy="1481.9" r="7.7" fill="none" stroke="#000" stroke-width="1.4"/><circle cx="743.2" cy="1510.5" r="7.7" fill="none" stroke="#000" stroke-width="1.4"/><circle cx="743.2" cy="1539.2" r="8.9" fill="none" stroke="#000" stroke-width="1.4"/><circle cx="743.2" cy="1567.8" r="7.4" fill="none" stroke="#000" stroke-width="1.4"/><circle cx="257.9" cy="1596.5" r="7.7" fill="none" stroke="#000" stroke-width="1.4"/><circle cx="298.3" cy="1596.5" r="8.9" fill="none" stroke="#000" stroke-width="1.4"/><circle cx="743.2" cy="1596.5" r="9.9" fill="none" stroke="#000" stroke-width="1.4"/><circle cx="298.3" cy="1625.2" r="8.1" fill="none" stroke="#000" stroke-width="1.4"/><circle cx="743.2" cy="1625.2" r="8.9" fill="none" stroke="#000" stroke-width="1.4"/><circle cx="743.2" cy="1653.8" r="7.7" fill="none" stroke="#000" stroke-width="1.4"/><circle cx="257.9" cy="1682.5" r="7.7" fill="none" stroke="#000" stroke-width="1.4"/><circle cx="298.3" cy="1682.5" r="9.9" fill="none" stroke="#000" stroke-width="1.4"/><circle cx="743.2" cy="1682.5" r="10.8" fill="none" stroke="#000" stroke-width="1.4"/><circle cx="743.2" cy="1711.1" r="7.7" fill="none" stroke="#000" stroke-width="1.4"/><circle cx="298.3" cy="1739.8" r="9.9" fill="none" stroke="#000" stroke-width="1.4"/><circle cx="743.2" cy="1739.8" r="7.7" fill="none" stroke="#000" stroke-width="1.4"/><circle cx="298.3" cy="1768.4" r="8.1" fill="none" stroke="#000" stroke-width="1.4"/><circle cx="743.2" cy="1768.4" r="7.7" fill="none" stroke="#000" stroke-width="1.4"/><circle cx="298.3" cy="1797.1" r="8.9" fill="none" stroke="#000" stroke-width="1.4"/><circle cx="621.9" cy="1797.1" r="6.9" fill="none" stroke="#000" stroke-width="1.4"/><circle cx="743.2" cy="1797.1" r="7.7" fill="none" stroke="#000" stroke-width="1.4"/><circle cx="743.2" cy="1825.7" r="7.7" fill="none" stroke="#000" stroke-width="1.4"/><circle cx="621.9" cy="1854.3" r="8.6" fill="none" stroke="#000" stroke-width="1.4"/><circle cx="702.8" cy="1854.3" r="11.8" fill="none" stroke="#000" stroke-width="1.4"/><circle cx="743.2" cy="1854.3" r="8.9" fill="none" stroke="#000" stroke-width="1.4"/><circle cx="298.3" cy="1883.0" r="8.9" fill="none" stroke="#000" stroke-width="1.4"/><circle cx="743.2" cy="1883.0" r="7.7" fill="none" stroke="#000" stroke-width="1.4"/><circle cx="743.2" cy="1911.7" r="7.7" fill="none" stroke="#000" stroke-width="1.4"/><circle cx="743.2" cy="1940.3" r="8.9" fill="none" stroke="#000" stroke-width="1.4"/><circle cx="257.9" cy="1969.0" r="8.6" fill="none" stroke="#000" stroke-width="1.4"/><circle cx="298.3" cy="1969.0" r="12.3" fill="none" stroke="#000" stroke-width="1.4"/><circle cx="743.2" cy="1969.0" r="10.8" fill="none" stroke="#000" stroke-width="1.4"/><circle cx="743.2" cy="1997.6" r="7.4" fill="none" stroke="#000" stroke-width="1.4"/><circle cx="298.3" cy="2026.2" r="9.9" fill="none" stroke="#000" stroke-width="1.4"/><circle cx="743.2" cy="2026.2" r="10.8" fill="none" stroke="#000" stroke-width="1.4"/><circle cx="702.8" cy="2054.9" r="7.1" fill="none" stroke="#000" stroke-width="1.4"/><circle cx="298.3" cy="2083.6" r="8.1" fill="none" stroke="#000" stroke-width="1.4"/><circle cx="702.8" cy="2083.6" r="21.1" fill="none" stroke="#000" stroke-width="1.4"/><circle cx="702.8" cy="2112.2" r="20.4" fill="none" stroke="#000" stroke-width="1.4"/><circle cx="702.8" cy="2140.8" r="9.4" fill="none" stroke="#000" stroke-width="1.4"/><circle cx="702.8" cy="2169.5" r="8.4" fill="none" stroke="#000" stroke-width="1.4"/><circle cx="743.2" cy="2169.5" r="8.9" fill="none" stroke="#000" stroke-width="1.4"/><circle cx="298.3" cy="2198.2" r="9.9" fill="none" stroke="#000" stroke-width="1.4"/><circle cx="702.8" cy="2198.2" r="7.7" fill="none" stroke="#000" stroke-width="1.4"/><circle cx="541.0" cy="2226.8" r="7.7" fill="none" stroke="#000" stroke-width="1.4"/><circle cx="702.8" cy="2226.8" r="7.7" fill="none" stroke="#000" stroke-width="1.4"/><circle cx="621.9" cy="2255.4" r="9.4" fill="none" stroke="#000" stroke-width="1.4"/><circle cx="621.9" cy="2284.1" r="11.6" fill="none" stroke="#000" stroke-width="1.4"/><circle cx="621.9" cy="2312.8" r="13.6" fill="none" stroke="#000" stroke-width="1.4"/></g>
<line x1="193.5" y1="1236.1" x2="193.5" y2="2331.4" stroke="#000" stroke-width="1.9"/>
<line x1="192.6" y1="2330.5" x2="767.3" y2="2330.5" stroke="#000" stroke-width="1.9"/>
<g stroke="#000" stroke-width="1.5"><line x1="187.5" y1="1252.70" x2="193.5" y2="1252.70"/><line x1="187.5" y1="1281.35" x2="193.5" y2="1281.35"/><line x1="187.5" y1="1310.00" x2="193.5" y2="1310.00"/><line x1="187.5" y1="1338.65" x2="193.5" y2="1338.65"/><line x1="187.5" y1="1367.30" x2="193.5" y2="1367.30"/><line x1="187.5" y1="1395.95" x2="193.5" y2="1395.95"/><line x1="187.5" y1="1424.60" x2="193.5" y2="1424.60"/><line x1="187.5" y1="1453.25" x2="193.5" y2="1453.25"/><line x1="187.5" y1="1481.90" x2="193.5" y2="1481.90"/><line x1="187.5" y1="1510.55" x2="193.5" y2="1510.55"/><line x1="187.5" y1="1539.20" x2="193.5" y2="1539.20"/><line x1="187.5" y1="1567.85" x2="193.5" y2="1567.85"/><line x1="187.5" y1="1596.50" x2="193.5" y2="1596.50"/><line x1="187.5" y1="1625.15" x2="193.5" y2="1625.15"/><line x1="187.5" y1="1653.80" x2="193.5" y2="1653.80"/><line x1="187.5" y1="1682.45" x2="193.5" y2="1682.45"/><line x1="187.5" y1="1711.10" x2="193.5" y2="1711.10"/><line x1="187.5" y1="1739.75" x2="193.5" y2="1739.75"/><line x1="187.5" y1="1768.40" x2="193.5" y2="1768.40"/><line x1="187.5" y1="1797.05" x2="193.5" y2="1797.05"/><line x1="187.5" y1="1825.70" x2="193.5" y2="1825.70"/><line x1="187.5" y1="1854.35" x2="193.5" y2="1854.35"/><line x1="187.5" y1="1883.00" x2="193.5" y2="1883.00"/><line x1="187.5" y1="1911.65" x2="193.5" y2="1911.65"/><line x1="187.5" y1="1940.30" x2="193.5" y2="1940.30"/><line x1="187.5" y1="1968.95" x2="193.5" y2="1968.95"/><line x1="187.5" y1="1997.60" x2="193.5" y2="1997.60"/><line x1="187.5" y1="2026.25" x2="193.5" y2="2026.25"/><line x1="187.5" y1="2054.90" x2="193.5" y2="2054.90"/><line x1="187.5" y1="2083.55" x2="193.5" y2="2083.55"/><line x1="187.5" y1="2112.20" x2="193.5" y2="2112.20"/><line x1="187.5" y1="2140.85" x2="193.5" y2="2140.85"/><line x1="187.5" y1="2169.50" x2="193.5" y2="2169.50"/><line x1="187.5" y1="2198.15" x2="193.5" y2="2198.15"/><line x1="187.5" y1="2226.80" x2="193.5" y2="2226.80"/><line x1="187.5" y1="2255.45" x2="193.5" y2="2255.45"/><line x1="187.5" y1="2284.10" x2="193.5" y2="2284.10"/><line x1="187.5" y1="2312.75" x2="193.5" y2="2312.75"/></g>
<text transform="translate(176.30,1258.60) scale(1,1.0436)" font-size="30.0" text-anchor="end" fill="#000">Gria2</text>
<text transform="translate(176.30,1287.25) scale(1,1.0436)" font-size="30.0" text-anchor="end" fill="#000">Kalrn</text>
<text transform="translate(176.30,1315.90) scale(1,1.0436)" font-size="30.0" text-anchor="end" fill="#000">Frmd4a</text>
<text transform="translate(176.30,1344.55) scale(1,1.0436)" font-size="30.0" text-anchor="end" fill="#000">Adcy2</text>
<text transform="translate(176.30,1373.20) scale(1,1.0436)" font-size="30.0" text-anchor="end" fill="#000">Cadm1</text>
<text transform="translate(176.30,1401.85) scale(1,1.0436)" font-size="30.0" text-anchor="end" fill="#000">Pias1</text>
<text transform="translate(176.30,1430.50) scale(1,1.0436)" font-size="30.0" text-anchor="end" fill="#000">Mpp6</text>
<text transform="translate(176.30,1459.15) scale(1,1.0436)" font-size="30.0" text-anchor="end" fill="#000">Gpm6a</text>
<text transform="translate(176.30,1487.80) scale(1,1.0436)" font-size="30.0" text-anchor="end" fill="#000">Rpl15</text>
<text transform="translate(176.30,1516.45) scale(1,1.0436)" font-size="30.0" text-anchor="end" fill="#000">Wapl</text>
<text transform="translate(176.30,1545.10) scale(1,1.0436)" font-size="30.0" text-anchor="end" fill="#000">Glul</text>
<text transform="translate(176.30,1573.75) scale(1,1.0436)" font-size="30.0" text-anchor="end" fill="#000">Baz1b</text>
<text transform="translate(176.30,1602.40) scale(1,1.0436)" font-size="30.0" text-anchor="end" fill="#000">Rhoa</text>
<text transform="translate(176.30,1631.05) scale(1,1.0436)" font-size="30.0" text-anchor="end" fill="#000">Cdc73</text>
<text transform="translate(176.30,1659.70) scale(1,1.0436)" font-size="30.0" text-anchor="end" fill="#000">Csgalnact1</text>
<text transform="translate(176.30,1688.35) scale(1,1.0436)" font-size="30.0" text-anchor="end" fill="#000">Klf9</text>
<text transform="translate(176.30,1717.00) scale(1,1.0436)" font-size="30.0" text-anchor="end" fill="#000">Samd12</text>
<text transform="translate(176.30,1745.65) scale(1,1.0436)" font-size="30.0" text-anchor="end" fill="#000">Ythdf3</text>
<text transform="translate(176.30,1774.30) scale(1,1.0436)" font-size="30.0" text-anchor="end" fill="#000">Hook3</text>
<text transform="translate(176.30,1802.95) scale(1,1.0436)" font-size="30.0" text-anchor="end" fill="#000">Tspan7</text>
<text transform="translate(176.30,1831.60) scale(1,1.0436)" font-size="30.0" text-anchor="end" fill="#000">Itsn2</text>
<text transform="translate(176.30,1860.25) scale(1,1.0436)" font-size="30.0" text-anchor="end" fill="#000">Dtna</text>
<text transform="translate(176.30,1888.90) scale(1,1.0436)" font-size="30.0" text-anchor="end" fill="#000">Wasl</text>
<text transform="translate(176.30,1917.55) scale(1,1.0436)" font-size="30.0" text-anchor="end" fill="#000">Mpdz</text>
<text transform="translate(176.30,1946.20) scale(1,1.0436)" font-size="30.0" text-anchor="end" fill="#000">Ywhag</text>
<text transform="translate(176.30,1974.85) scale(1,1.0436)" font-size="30.0" text-anchor="end" fill="#000">Dnaja1</text>
<text transform="translate(176.30,2003.50) scale(1,1.0436)" font-size="30.0" text-anchor="end" fill="#000">Hsp90b1</text>
<text transform="translate(176.30,2032.15) scale(1,1.0436)" font-size="30.0" text-anchor="end" fill="#000">Calr</text>
<text transform="translate(176.30,2060.80) scale(1,1.0436)" font-size="30.0" text-anchor="end" fill="#000">Cdh19</text>
<text transform="translate(176.30,2089.45) scale(1,1.0436)" font-size="30.0" text-anchor="end" fill="#000">Adipor2</text>
<text transform="translate(176.30,2118.10) scale(1,1.0436)" font-size="30.0" text-anchor="end" fill="#000">Mobp</text>
<text transform="translate(176.30,2146.75) scale(1,1.0436)" font-size="30.0" text-anchor="end" fill="#000">Cryab</text>
<text transform="translate(176.30,2175.40) scale(1,1.0436)" font-size="30.0" text-anchor="end" fill="#000">St13</text>
<text transform="translate(176.30,2204.05) scale(1,1.0436)" font-size="30.0" text-anchor="end" fill="#000">Dennd5b</text>
<text transform="translate(176.30,2232.70) scale(1,1.0436)" font-size="30.0" text-anchor="end" fill="#000">Chordc1</text>
<text transform="translate(176.30,2261.35) scale(1,1.0436)" font-size="30.0" text-anchor="end" fill="#000">Slco1c1</text>
<text transform="translate(176.30,2290.00) scale(1,1.0436)" font-size="30.0" text-anchor="end" fill="#000">Paqr8</text>
<text transform="translate(176.30,2318.65) scale(1,1.0436)" font-size="30.0" text-anchor="end" fill="#000">Hdac4</text>
<text transform="translate(228.10,2337.00) rotate(-90) scale(1,1.0436)" font-size="34.1" text-anchor="end" fill="#000">CA1</text>
<text transform="translate(268.87,2337.00) rotate(-90) scale(1,1.0436)" font-size="34.1" text-anchor="end" fill="#000">CA3</text>
<text transform="translate(309.64,2337.00) rotate(-90) scale(1,1.0436)" font-size="34.1" text-anchor="end" fill="#000">DG</text>
<text transform="translate(350.41,2337.00) rotate(-90) scale(1,1.0436)" font-size="34.1" text-anchor="end" fill="#000">PPPGlut</text>
<text transform="translate(391.18,2337.00) rotate(-90) scale(1,1.0436)" font-size="34.1" text-anchor="end" fill="#000">SubGlut</text>
<text transform="translate(431.95,2337.00) rotate(-90) scale(1,1.0436)" font-size="34.1" text-anchor="end" fill="#000">CRGlut</text>
<text transform="translate(472.72,2337.00) rotate(-90) scale(1,1.0436)" font-size="34.1" text-anchor="end" fill="#000">ENTGlut</text>
<text transform="translate(513.49,2337.00) rotate(-90) scale(1,1.0436)" font-size="34.1" text-anchor="end" fill="#000">IMN</text>
<text transform="translate(554.26,2337.00) rotate(-90) scale(1,1.0436)" font-size="34.1" text-anchor="end" fill="#000">CGE GABA</text>
<text transform="translate(595.03,2337.00) rotate(-90) scale(1,1.0436)" font-size="34.1" text-anchor="end" fill="#000">MGE GABA</text>
<text transform="translate(635.80,2337.00) rotate(-90) scale(1,1.0436)" font-size="34.1" text-anchor="end" fill="#000">Astrocytes</text>
<text transform="translate(676.57,2337.00) rotate(-90) scale(1,1.0436)" font-size="34.1" text-anchor="end" fill="#000">Microglia</text>
<text transform="translate(717.34,2337.00) rotate(-90) scale(1,1.0436)" font-size="34.1" text-anchor="end" fill="#000">Oligo</text>
<text transform="translate(758.11,2337.00) rotate(-90) scale(1,1.0436)" font-size="34.1" text-anchor="end" fill="#000">Other NN</text>
<rect x="781.8" y="1240.1" width="146.5" height="725.5" fill="#f1f2f1"/>
<text transform="translate(0,1271.10) scale(1,1.0436)" fill="#000"><tspan x="785.60" y="0.00" font-size="29.0">–</tspan><tspan x="802.75" y="0.00" font-size="29.0">log</tspan><tspan x="843.15" y="9.49" font-size="16.4">10</tspan><tspan x="861.20" y="0.00" font-size="29.0">(P</tspan><tspan x="891.71" y="9.58" font-size="16.2">adj</tspan><tspan x="915.53" y="0.00" font-size="29.0">)</tspan></text>
<circle cx="838.6" cy="1324.9" r="8.6" fill="#000"/>
<text transform="translate(869.79,1331.70) scale(1,1.0436)" font-size="29" text-anchor="start" fill="#000">1</text>
<circle cx="838.6" cy="1360.2" r="10.5" fill="#000"/>
<text transform="translate(870.54,1367.00) scale(1,1.0436)" font-size="29" text-anchor="start" fill="#000">2</text>
<circle cx="838.6" cy="1395.7" r="11.4" fill="#000"/>
<text transform="translate(870.90,1402.50) scale(1,1.0436)" font-size="29" text-anchor="start" fill="#000">3</text>
<circle cx="838.6" cy="1431.2" r="12.9" fill="#000"/>
<text transform="translate(871.33,1438.00) scale(1,1.0436)" font-size="29" text-anchor="start" fill="#000">4</text>
<circle cx="838.6" cy="1466.7" r="13.6" fill="#000"/>
<text transform="translate(870.84,1473.50) scale(1,1.0436)" font-size="29" text-anchor="start" fill="#000">5</text>
<circle cx="838.6" cy="1501.5" r="14.4" fill="#000"/>
<text transform="translate(870.53,1508.30) scale(1,1.0436)" font-size="29" text-anchor="start" fill="#000">6</text>
<circle cx="838.6" cy="1536.5" r="15.1" fill="#000"/>
<text transform="translate(870.51,1543.30) scale(1,1.0436)" font-size="29" text-anchor="start" fill="#000">7</text>
<circle cx="838.6" cy="1572.1" r="15.8" fill="#000"/>
<text transform="translate(870.74,1578.90) scale(1,1.0436)" font-size="29" text-anchor="start" fill="#000">8</text>
<circle cx="838.6" cy="1610.1" r="16.5" fill="#000"/>
<text transform="translate(870.64,1616.90) scale(1,1.0436)" font-size="29" text-anchor="start" fill="#000">9</text>
<circle cx="838.6" cy="1648.9" r="17.2" fill="#000"/>
<text transform="translate(869.79,1655.70) scale(1,1.0436)" font-size="29" text-anchor="start" fill="#000">10</text>
<text transform="translate(0,1728.70) scale(1,1.0436)" fill="#000"><tspan x="801.81" y="0.00" font-size="29.6">log</tspan><tspan x="841.46" y="9.49" font-size="16.8">2</tspan><tspan x="852.16" y="0.00" font-size="29.6">(FC)</tspan></text>
<defs><linearGradient id="gC" x1="0" x2="0" y1="0" y2="1"><stop offset="0.0000" stop-color="#ff2614"/><stop offset="0.1145" stop-color="#fb6e50"/><stop offset="0.2403" stop-color="#fb9b80"/><stop offset="0.3662" stop-color="#fdcdbe"/><stop offset="0.4920" stop-color="#ffffff"/><stop offset="0.6179" stop-color="#dec8e4"/><stop offset="0.7437" stop-color="#a58ac8"/><stop offset="0.8696" stop-color="#6958a8"/><stop offset="0.9954" stop-color="#2644a0"/></linearGradient></defs>
<rect x="822.2" y="1768.0" width="35.9" height="175.6" fill="url(#gC)"/>
<text transform="translate(868.34,1772.90) scale(1,1.0436)" font-size="29" text-anchor="start" fill="#000">2</text>
<line x1="850.7" y1="1810.2" x2="858.1" y2="1810.2" stroke="#fff" stroke-width="1.9"/>
<line x1="822.2" y1="1810.2" x2="829.6" y2="1810.2" stroke="#fff" stroke-width="1.9"/>
<text transform="translate(867.59,1817.10) scale(1,1.0436)" font-size="29" text-anchor="start" fill="#000">1</text>
<text transform="translate(868.67,1861.30) scale(1,1.0436)" font-size="29" text-anchor="start" fill="#000">0</text>
<line x1="850.7" y1="1898.6" x2="858.1" y2="1898.6" stroke="#fff" stroke-width="1.9"/>
<line x1="822.2" y1="1898.6" x2="829.6" y2="1898.6" stroke="#fff" stroke-width="1.9"/>
<text transform="translate(868.37,1905.50) scale(1,1.0436)" font-size="29" text-anchor="start" fill="#000">−1</text>
<text transform="translate(868.37,1949.70) scale(1,1.0436)" font-size="29" text-anchor="start" fill="#000">−2</text>
<text transform="translate(955.26,1964.80) scale(1,1.0436)" font-size="89" text-anchor="start" fill="#231f20" textLength="69.01" lengthAdjust="spacingAndGlyphs">D</text>
<rect x="1314.0" y="1925.2" width="152.9" height="51.0" fill="#f0b3d3"/>
<text transform="translate(1314.65,1963.40) scale(1,1.0436)" font-size="37.5" text-anchor="start" fill="#231f20" textLength="307.25" lengthAdjust="spacingAndGlyphs">Inhibitory-enriched</text>
<clipPath id="clipD"><rect x="1162.8" y="1976.2" width="595.2" height="356.20000000000005"/></clipPath>
<g stroke="#d2d2d2" stroke-width="1.5" fill="none"><line x1="1161.3" y1="1993.40" x2="1758.0" y2="1993.40" stroke-dasharray="16 16"/><line x1="1161.3" y1="2022.60" x2="1758.0" y2="2022.60" stroke-dasharray="16 16"/><line x1="1161.3" y1="2051.80" x2="1758.0" y2="2051.80" stroke-dasharray="16 16"/><line x1="1161.3" y1="2081.00" x2="1758.0" y2="2081.00" stroke-dasharray="16 16"/><line x1="1161.3" y1="2110.20" x2="1758.0" y2="2110.20" stroke-dasharray="16 16"/><line x1="1161.3" y1="2139.40" x2="1758.0" y2="2139.40" stroke-dasharray="16 16"/><line x1="1161.3" y1="2168.60" x2="1758.0" y2="2168.60" stroke-dasharray="16 16"/><line x1="1161.3" y1="2197.80" x2="1758.0" y2="2197.80" stroke-dasharray="16 16"/><line x1="1161.3" y1="2227.00" x2="1758.0" y2="2227.00" stroke-dasharray="16 16"/><line x1="1161.3" y1="2256.20" x2="1758.0" y2="2256.20" stroke-dasharray="16 16"/><line x1="1161.3" y1="2285.40" x2="1758.0" y2="2285.40" stroke-dasharray="16 16"/><line x1="1161.3" y1="2314.60" x2="1758.0" y2="2314.60" stroke-dasharray="16 16"/><line x1="1188.00" y1="2332.4" x2="1188.00" y2="1976.2" stroke-dasharray="16 15.85"/><line x1="1229.92" y1="2332.4" x2="1229.92" y2="1976.2" stroke-dasharray="16 15.85"/><line x1="1271.84" y1="2332.4" x2="1271.84" y2="1976.2" stroke-dasharray="16 15.85"/><line x1="1313.76" y1="2332.4" x2="1313.76" y2="1976.2" stroke-dasharray="16 15.85"/><line x1="1355.68" y1="2332.4" x2="1355.68" y2="1976.2" stroke-dasharray="16 15.85"/><line x1="1397.60" y1="2332.4" x2="1397.60" y2="1976.2" stroke-dasharray="16 15.85"/><line x1="1439.52" y1="2332.4" x2="1439.52" y2="1976.2" stroke-dasharray="16 15.85"/><line x1="1481.44" y1="2332.4" x2="1481.44" y2="1976.2" stroke-dasharray="16 15.85"/><line x1="1523.36" y1="2332.4" x2="1523.36" y2="1976.2" stroke-dasharray="16 15.85"/><line x1="1565.28" y1="2332.4" x2="1565.28" y2="1976.2" stroke-dasharray="16 15.85"/><line x1="1607.20" y1="2332.4" x2="1607.20" y2="1976.2" stroke-dasharray="16 15.85"/><line x1="1649.12" y1="2332.4" x2="1649.12" y2="1976.2" stroke-dasharray="16 15.85"/><line x1="1691.04" y1="2332.4" x2="1691.04" y2="1976.2" stroke-dasharray="16 15.85"/><line x1="1732.96" y1="2332.4" x2="1732.96" y2="1976.2" stroke-dasharray="16 15.85"/></g>
<g clip-path="url(#clipD)"><circle cx="1271.8" cy="2256.2" r="25.2" fill="#e8ddef"/><circle cx="1649.1" cy="2285.4" r="24.5" fill="#a08ec4"/><circle cx="1271.8" cy="2314.6" r="24.4" fill="#ede4f2"/><circle cx="1565.3" cy="2022.6" r="23.5" fill="#fcdcd0"/><circle cx="1229.9" cy="2022.6" r="22.4" fill="#f0e9f5"/><circle cx="1565.3" cy="2110.2" r="21.3" fill="#fbcdbd"/><circle cx="1271.8" cy="2285.4" r="20.2" fill="#f2ecf6"/><circle cx="1565.3" cy="1993.4" r="19.7" fill="#fbd2c3"/><circle cx="1271.8" cy="2051.8" r="19.4" fill="#f0e9f5"/><circle cx="1733.0" cy="2110.2" r="17.8" fill="#f9b8a3"/><circle cx="1188.0" cy="2022.6" r="16.9" fill="#f0e9f5"/><circle cx="1271.8" cy="2197.8" r="16.9" fill="#f5f0f8"/><circle cx="1229.9" cy="2256.2" r="16.9" fill="#ede4f2"/><circle cx="1733.0" cy="2256.2" r="16.9" fill="#f9bea9"/><circle cx="1565.3" cy="2256.2" r="16.6" fill="#e8ddef"/><circle cx="1565.3" cy="2314.6" r="16.4" fill="#fcdcd0"/><circle cx="1565.3" cy="2051.8" r="15.8" fill="#fce0d5"/><circle cx="1691.0" cy="2227.0" r="15.8" fill="#f7a88f"/><circle cx="1523.4" cy="2227.0" r="15.5" fill="#f8ad96"/><circle cx="1565.3" cy="2139.4" r="15.1" fill="#fcdcd0"/><circle cx="1313.8" cy="2256.2" r="15.1" fill="#e3d6ec"/><circle cx="1271.8" cy="1993.4" r="14.9" fill="#f7f4fa"/><circle cx="1691.0" cy="2314.6" r="14.8" fill="#ded0e8"/><circle cx="1607.2" cy="2285.4" r="14.7" fill="#d8cae4"/><circle cx="1271.8" cy="2168.6" r="14.4" fill="#f2ecf6"/><circle cx="1188.0" cy="2314.6" r="14.4" fill="#ede4f2"/><circle cx="1229.9" cy="2139.4" r="14.1" fill="#e8ddef"/><circle cx="1565.3" cy="2285.4" r="14.1" fill="#fcdcd0"/><circle cx="1565.3" cy="2081.0" r="14.0" fill="#fbd2c3"/><circle cx="1565.3" cy="2168.6" r="13.8" fill="#fde3d9"/><circle cx="1691.0" cy="2022.6" r="14.3" fill="#fde9e1"/><circle cx="1313.8" cy="2168.6" r="14.3" fill="#fde3d9"/><circle cx="1523.4" cy="2197.8" r="13.7" fill="#fbd2c3"/><circle cx="1188.0" cy="2227.0" r="14.3" fill="#fde3d9"/><circle cx="1523.4" cy="2314.6" r="13.7" fill="#fcd7ca"/><circle cx="1229.9" cy="2285.4" r="14.1" fill="#fef0ea"/><circle cx="1229.9" cy="2314.6" r="13.5" fill="#f0e9f5"/><circle cx="1649.1" cy="2139.4" r="13.5" fill="#d3c3e1"/><circle cx="1523.4" cy="2051.8" r="13.4" fill="#fcd7ca"/><circle cx="1188.0" cy="2197.8" r="12.6" fill="#fef6f2"/><circle cx="1188.0" cy="2256.2" r="12.6" fill="#f2ecf6"/><circle cx="1188.0" cy="2168.6" r="12.4" fill="#fffaf9"/><circle cx="1188.0" cy="2110.2" r="12.3" fill="#f2ecf6"/><circle cx="1733.0" cy="2285.4" r="12.0" fill="#fde3d9"/><circle cx="1355.7" cy="2022.6" r="11.7" fill="#f7f4fa"/><circle cx="1313.8" cy="2285.4" r="11.3" fill="#fbd2c3"/><circle cx="1313.8" cy="2022.6" r="11.1" fill="#f2ecf6"/><circle cx="1313.8" cy="2110.2" r="11.1" fill="#fcd7ca"/><circle cx="1523.4" cy="2139.4" r="11.1" fill="#fcd7ca"/><circle cx="1355.7" cy="2314.6" r="11.1" fill="#fff9f7"/><circle cx="1229.9" cy="1993.4" r="10.9" fill="#fef8f4"/><circle cx="1733.0" cy="2081.0" r="10.9" fill="#fbcdbd"/><circle cx="1355.7" cy="1993.4" r="10.8" fill="#feede7"/><circle cx="1523.4" cy="2256.2" r="10.6" fill="#e8ddef"/><circle cx="1188.0" cy="2051.8" r="10.1" fill="#fef3ee"/><circle cx="1313.8" cy="2227.0" r="10.1" fill="#fac8b6"/><circle cx="1313.8" cy="2314.6" r="10.0" fill="#fde9e1"/><circle cx="1565.3" cy="2197.8" r="9.6" fill="#fde9e1"/><circle cx="1229.9" cy="2110.2" r="9.4" fill="#fef6f2"/><circle cx="1649.1" cy="2081.0" r="9.2" fill="#d8cae4"/><circle cx="1397.6" cy="2256.2" r="9.2" fill="#f5977e"/><circle cx="1565.3" cy="2227.0" r="9.0" fill="#fcdcd0"/><circle cx="1523.4" cy="2022.6" r="8.8" fill="#fcd7ca"/><circle cx="1733.0" cy="2197.8" r="8.3" fill="#fcdcd0"/><circle cx="1355.7" cy="2110.2" r="7.8" fill="#f5f0f8"/><circle cx="1439.5" cy="2256.2" r="7.8" fill="#ded0e8"/><circle cx="1229.9" cy="2227.0" r="7.4" fill="#fef0ea"/><circle cx="1355.7" cy="2285.4" r="7.2" fill="#fef6f2"/><circle cx="1271.8" cy="2227.0" r="7.0" fill="#fef3ee"/><circle cx="1733.0" cy="2051.8" r="6.7" fill="#fde3d9"/><circle cx="1355.7" cy="2227.0" r="6.5" fill="#fef0ea"/><circle cx="1271.8" cy="2022.6" r="6.0" fill="#fcfbfd"/><circle cx="1229.9" cy="2081.0" r="5.8" fill="#fde3d9"/><circle cx="1271.8" cy="2081.0" r="5.8" fill="#fde3d9"/><circle cx="1313.8" cy="1993.4" r="4.6" fill="#fde3d9"/><circle cx="1481.4" cy="1993.4" r="4.6" fill="#fcd7ca"/><circle cx="1523.4" cy="1993.4" r="4.6" fill="#feede7"/><circle cx="1607.2" cy="1993.4" r="4.6" fill="#e8ddef"/><circle cx="1649.1" cy="1993.4" r="4.6" fill="#ded0e8"/><circle cx="1691.0" cy="1993.4" r="4.6" fill="#fff9f7"/><circle cx="1733.0" cy="1993.4" r="4.6" fill="#fef6f2"/><circle cx="1397.6" cy="2022.6" r="4.6" fill="#fbd2c3"/><circle cx="1481.4" cy="2022.6" r="4.6" fill="#fef6f2"/><circle cx="1607.2" cy="2022.6" r="4.6" fill="#fef3ee"/><circle cx="1649.1" cy="2022.6" r="4.6" fill="#f0e9f5"/><circle cx="1733.0" cy="2022.6" r="4.6" fill="#fff9f7"/><circle cx="1313.8" cy="2051.8" r="4.6" fill="#fef3ee"/><circle cx="1397.6" cy="2051.8" r="4.6" fill="#f6a087"/><circle cx="1439.5" cy="2051.8" r="4.6" fill="#fbd2c3"/><circle cx="1481.4" cy="2051.8" r="4.6" fill="#faf7fb"/><circle cx="1649.1" cy="2051.8" r="4.6" fill="#f8f6fa"/><circle cx="1691.0" cy="2051.8" r="4.6" fill="#f7f4fa"/><circle cx="1188.0" cy="2081.0" r="4.6" fill="#fac8b6"/><circle cx="1313.8" cy="2081.0" r="4.6" fill="#fac3b0"/><circle cx="1355.7" cy="2081.0" r="4.6" fill="#f7f4fa"/><circle cx="1397.6" cy="2081.0" r="4.6" fill="#f27252"/><circle cx="1439.5" cy="2081.0" r="4.6" fill="#f0e9f5"/><circle cx="1481.4" cy="2081.0" r="4.6" fill="#8070b4"/><circle cx="1523.4" cy="2081.0" r="4.6" fill="#fcfbfd"/><circle cx="1607.2" cy="2081.0" r="4.6" fill="#f2ecf6"/><circle cx="1691.0" cy="2081.0" r="4.6" fill="#f7f4fa"/><circle cx="1397.6" cy="2110.2" r="4.6" fill="#ded0e8"/><circle cx="1439.5" cy="2110.2" r="4.6" fill="#fbd2c3"/><circle cx="1481.4" cy="2110.2" r="4.6" fill="#f7f4fa"/><circle cx="1523.4" cy="2110.2" r="4.6" fill="#fde3d9"/><circle cx="1607.2" cy="2110.2" r="4.6" fill="#f7f4fa"/><circle cx="1649.1" cy="2110.2" r="4.6" fill="#f0e9f5"/><circle cx="1691.0" cy="2110.2" r="4.6" fill="#f7f4fa"/><circle cx="1271.8" cy="2139.4" r="4.6" fill="#fbf9fc"/><circle cx="1313.8" cy="2139.4" r="4.6" fill="#f7f4fa"/><circle cx="1355.7" cy="2139.4" r="4.6" fill="#fff9f7"/><circle cx="1397.6" cy="2139.4" r="4.6" fill="#fbd2c3"/><circle cx="1439.5" cy="2139.4" r="4.6" fill="#fde9e1"/><circle cx="1481.4" cy="2139.4" r="4.6" fill="#fac8b6"/><circle cx="1607.2" cy="2139.4" r="4.6" fill="#fffcfb"/><circle cx="1691.0" cy="2139.4" r="4.6" fill="#fbcdbd"/><circle cx="1733.0" cy="2139.4" r="4.6" fill="#feede7"/><circle cx="1397.6" cy="2168.6" r="4.6" fill="#ede4f2"/><circle cx="1439.5" cy="2168.6" r="4.6" fill="#fcdcd0"/><circle cx="1481.4" cy="2168.6" r="4.6" fill="#faf7fb"/><circle cx="1607.2" cy="2168.6" r="4.6" fill="#fde9e1"/><circle cx="1649.1" cy="2168.6" r="4.6" fill="#e8ddef"/><circle cx="1691.0" cy="2168.6" r="4.6" fill="#f7f4fa"/><circle cx="1733.0" cy="2168.6" r="4.6" fill="#fff9f7"/><circle cx="1313.8" cy="2197.8" r="4.6" fill="#fef8f4"/><circle cx="1439.5" cy="2197.8" r="4.6" fill="#fef0ea"/><circle cx="1481.4" cy="2197.8" r="4.6" fill="#f7f4fa"/><circle cx="1607.2" cy="2197.8" r="4.6" fill="#feede7"/><circle cx="1649.1" cy="2197.8" r="4.6" fill="#d8cae4"/><circle cx="1691.0" cy="2197.8" r="4.6" fill="#fef6f2"/><circle cx="1397.6" cy="2227.0" r="4.6" fill="#fcd7ca"/><circle cx="1439.5" cy="2227.0" r="4.6" fill="#fac3b0"/><circle cx="1481.4" cy="2227.0" r="4.6" fill="#f7f4fa"/><circle cx="1607.2" cy="2227.0" r="4.6" fill="#fef6f2"/><circle cx="1649.1" cy="2227.0" r="4.6" fill="#fcdcd0"/><circle cx="1733.0" cy="2227.0" r="4.6" fill="#fde3d9"/><circle cx="1481.4" cy="2256.2" r="4.6" fill="#fde3d9"/><circle cx="1607.2" cy="2256.2" r="4.6" fill="#faf7fb"/><circle cx="1649.1" cy="2256.2" r="4.6" fill="#f2ecf6"/><circle cx="1691.0" cy="2256.2" r="4.6" fill="#fef6f2"/><circle cx="1397.6" cy="2285.4" r="4.6" fill="#ded0e8"/><circle cx="1439.5" cy="2285.4" r="4.6" fill="#f5f0f8"/><circle cx="1481.4" cy="2285.4" r="4.6" fill="#fcdcd0"/><circle cx="1523.4" cy="2285.4" r="4.6" fill="#fef0ea"/><circle cx="1691.0" cy="2285.4" r="4.6" fill="#f7f4fa"/><circle cx="1397.6" cy="2314.6" r="4.6" fill="#fcdcd0"/><circle cx="1439.5" cy="2314.6" r="4.6" fill="#fff9f7"/><circle cx="1481.4" cy="2314.6" r="4.6" fill="#fcd7ca"/><circle cx="1607.2" cy="2314.6" r="4.6" fill="#fcd7ca"/><circle cx="1733.0" cy="2314.6" r="4.6" fill="#fef3ee"/><circle cx="1439.5" cy="1993.4" r="4.5" fill="#fde9e1"/><circle cx="1439.5" cy="2022.6" r="4.5" fill="#fef6f2"/><circle cx="1397.6" cy="1993.4" r="3.5" fill="#fffaf9"/><circle cx="1523.4" cy="2168.6" r="3.5" fill="#fffcfb"/><circle cx="1188.0" cy="2285.4" r="3.5" fill="#fff9f7"/><circle cx="1229.9" cy="2197.8" r="3.0" fill="#fffefd"/><circle cx="1271.8" cy="1993.4" r="14.9" fill="none" stroke="#000" stroke-width="1.75"/><circle cx="1565.3" cy="1993.4" r="19.7" fill="none" stroke="#000" stroke-width="1.75"/><circle cx="1188.0" cy="2022.6" r="16.9" fill="none" stroke="#000" stroke-width="1.75"/><circle cx="1229.9" cy="2022.6" r="22.4" fill="none" stroke="#000" stroke-width="1.75"/><circle cx="1565.3" cy="2022.6" r="23.5" fill="none" stroke="#000" stroke-width="1.75"/><circle cx="1271.8" cy="2051.8" r="19.4" fill="none" stroke="#000" stroke-width="1.75"/><circle cx="1565.3" cy="2051.8" r="15.8" fill="none" stroke="#000" stroke-width="1.75"/><circle cx="1565.3" cy="2081.0" r="14.0" fill="none" stroke="#000" stroke-width="1.75"/><circle cx="1565.3" cy="2110.2" r="21.3" fill="none" stroke="#000" stroke-width="1.75"/><circle cx="1733.0" cy="2110.2" r="17.8" fill="none" stroke="#000" stroke-width="1.75"/><circle cx="1229.9" cy="2139.4" r="14.1" fill="none" stroke="#000" stroke-width="1.75"/><circle cx="1565.3" cy="2139.4" r="15.1" fill="none" stroke="#000" stroke-width="1.75"/><circle cx="1271.8" cy="2168.6" r="14.4" fill="none" stroke="#000" stroke-width="1.75"/><circle cx="1565.3" cy="2168.6" r="13.8" fill="none" stroke="#000" stroke-width="1.75"/><circle cx="1271.8" cy="2197.8" r="16.9" fill="none" stroke="#000" stroke-width="1.75"/><circle cx="1523.4" cy="2197.8" r="13.7" fill="none" stroke="#000" stroke-width="1.75"/><circle cx="1523.4" cy="2227.0" r="15.5" fill="none" stroke="#000" stroke-width="1.75"/><circle cx="1691.0" cy="2227.0" r="15.8" fill="none" stroke="#000" stroke-width="1.75"/><circle cx="1229.9" cy="2256.2" r="16.9" fill="none" stroke="#000" stroke-width="1.75"/><circle cx="1271.8" cy="2256.2" r="25.2" fill="none" stroke="#000" stroke-width="1.75"/><circle cx="1313.8" cy="2256.2" r="15.1" fill="none" stroke="#000" stroke-width="1.75"/><circle cx="1565.3" cy="2256.2" r="16.6" fill="none" stroke="#000" stroke-width="1.75"/><circle cx="1733.0" cy="2256.2" r="16.9" fill="none" stroke="#000" stroke-width="1.75"/><circle cx="1271.8" cy="2285.4" r="20.2" fill="none" stroke="#000" stroke-width="1.75"/><circle cx="1565.3" cy="2285.4" r="14.1" fill="none" stroke="#000" stroke-width="1.75"/><circle cx="1607.2" cy="2285.4" r="14.7" fill="none" stroke="#000" stroke-width="1.75"/><circle cx="1649.1" cy="2285.4" r="24.5" fill="none" stroke="#000" stroke-width="1.75"/><circle cx="1188.0" cy="2314.6" r="14.4" fill="none" stroke="#000" stroke-width="1.75"/><circle cx="1229.9" cy="2314.6" r="13.5" fill="none" stroke="#000" stroke-width="1.75"/><circle cx="1271.8" cy="2314.6" r="24.4" fill="none" stroke="#000" stroke-width="1.75"/><circle cx="1523.4" cy="2314.6" r="13.7" fill="none" stroke="#000" stroke-width="1.75"/><circle cx="1565.3" cy="2314.6" r="16.4" fill="none" stroke="#000" stroke-width="1.75"/><circle cx="1691.0" cy="2314.6" r="14.8" fill="none" stroke="#000" stroke-width="1.75"/></g>
<line x1="1162.8" y1="1976.2" x2="1162.8" y2="2333.3" stroke="#000" stroke-width="1.9"/>
<line x1="1161.8" y1="2332.4" x2="1758.0" y2="2332.4" stroke="#000" stroke-width="1.9"/>
<g stroke="#000" stroke-width="1.5"><line x1="1156.8" y1="1993.40" x2="1162.8" y2="1993.40"/><line x1="1156.8" y1="2022.60" x2="1162.8" y2="2022.60"/><line x1="1156.8" y1="2051.80" x2="1162.8" y2="2051.80"/><line x1="1156.8" y1="2081.00" x2="1162.8" y2="2081.00"/><line x1="1156.8" y1="2110.20" x2="1162.8" y2="2110.20"/><line x1="1156.8" y1="2139.40" x2="1162.8" y2="2139.40"/><line x1="1156.8" y1="2168.60" x2="1162.8" y2="2168.60"/><line x1="1156.8" y1="2197.80" x2="1162.8" y2="2197.80"/><line x1="1156.8" y1="2227.00" x2="1162.8" y2="2227.00"/><line x1="1156.8" y1="2256.20" x2="1162.8" y2="2256.20"/><line x1="1156.8" y1="2285.40" x2="1162.8" y2="2285.40"/><line x1="1156.8" y1="2314.60" x2="1162.8" y2="2314.60"/></g>
<text transform="translate(1148.00,1999.40) scale(1,1.0436)" font-size="30.0" text-anchor="end" fill="#000">Uvrag</text>
<text transform="translate(1148.00,2028.60) scale(1,1.0436)" font-size="30.0" text-anchor="end" fill="#000">Oxr1</text>
<text transform="translate(1148.00,2057.80) scale(1,1.0436)" font-size="30.0" text-anchor="end" fill="#000">Osbpl8</text>
<text transform="translate(1148.00,2087.00) scale(1,1.0436)" font-size="30.0" text-anchor="end" fill="#000">Nek7</text>
<text transform="translate(1148.00,2116.20) scale(1,1.0436)" font-size="30.0" text-anchor="end" fill="#000">Mpp6</text>
<text transform="translate(1148.00,2145.40) scale(1,1.0436)" font-size="30.0" text-anchor="end" fill="#000">Mef2c</text>
<text transform="translate(1148.00,2174.60) scale(1,1.0436)" font-size="30.0" text-anchor="end" fill="#000">Mbnl2</text>
<text transform="translate(1148.00,2203.80) scale(1,1.0436)" font-size="30.0" text-anchor="end" fill="#000">Fbxw7</text>
<text transform="translate(1148.00,2233.00) scale(1,1.0436)" font-size="30.0" text-anchor="end" fill="#000">Chordc1</text>
<text transform="translate(1148.00,2262.20) scale(1,1.0436)" font-size="30.0" text-anchor="end" fill="#000">Cadm1</text>
<text transform="translate(1148.00,2291.40) scale(1,1.0436)" font-size="30.0" text-anchor="end" fill="#000">Arhgap5</text>
<text transform="translate(1148.00,2320.60) scale(1,1.0436)" font-size="30.0" text-anchor="end" fill="#000">Apba1</text>
<text transform="translate(1194.60,2338.60) rotate(-90) scale(1,1.0436)" font-size="33.6" text-anchor="end" fill="#000">CA1</text>
<text transform="translate(1236.48,2338.60) rotate(-90) scale(1,1.0436)" font-size="33.6" text-anchor="end" fill="#000">CA3</text>
<text transform="translate(1278.36,2338.60) rotate(-90) scale(1,1.0436)" font-size="33.6" text-anchor="end" fill="#000">DG</text>
<text transform="translate(1320.24,2338.60) rotate(-90) scale(1,1.0436)" font-size="33.6" text-anchor="end" fill="#000">PPPGlut</text>
<text transform="translate(1362.12,2338.60) rotate(-90) scale(1,1.0436)" font-size="33.6" text-anchor="end" fill="#000">SUBGlut</text>
<text transform="translate(1404.00,2338.60) rotate(-90) scale(1,1.0436)" font-size="33.6" text-anchor="end" fill="#000">CRGlut</text>
<text transform="translate(1445.88,2338.60) rotate(-90) scale(1,1.0436)" font-size="33.6" text-anchor="end" fill="#000">ENTGlut</text>
<text transform="translate(1487.76,2338.60) rotate(-90) scale(1,1.0436)" font-size="33.6" text-anchor="end" fill="#000">IMN</text>
<text transform="translate(1529.64,2338.60) rotate(-90) scale(1,1.0436)" font-size="33.6" text-anchor="end" fill="#000">CGEGaba</text>
<text transform="translate(1571.52,2338.60) rotate(-90) scale(1,1.0436)" font-size="33.6" text-anchor="end" fill="#000">MGEGaba</text>
<text transform="translate(1613.40,2338.60) rotate(-90) scale(1,1.0436)" font-size="33.6" text-anchor="end" fill="#000">Astrocytes</text>
<text transform="translate(1655.28,2338.60) rotate(-90) scale(1,1.0436)" font-size="33.6" text-anchor="end" fill="#000">Microglia</text>
<text transform="translate(1697.16,2338.60) rotate(-90) scale(1,1.0436)" font-size="33.6" text-anchor="end" fill="#000">Oligo</text>
<text transform="translate(1739.04,2338.60) rotate(-90) scale(1,1.0436)" font-size="33.6" text-anchor="end" fill="#000">OtherNN</text>
<rect x="1767.1" y="1954.1" width="275.6" height="379.5" fill="#f1f2f1"/>
<text transform="translate(0,1992.30) scale(1,1.0436)" fill="#000"><tspan x="1773.80" y="0.00" font-size="29.0">–</tspan><tspan x="1790.95" y="0.00" font-size="29.0">log</tspan><tspan x="1831.35" y="9.49" font-size="16.4">10</tspan><tspan x="1849.40" y="0.00" font-size="29.0">(P</tspan><tspan x="1879.91" y="9.58" font-size="16.2">adj</tspan><tspan x="1903.73" y="0.00" font-size="29.0">)</tspan></text>
<text transform="translate(0,1994.70) scale(1,1.0436)" fill="#000"><tspan x="1918.56" y="0.00" font-size="33.300000000000004">log</tspan><tspan x="1963.16" y="10.67" font-size="18.900000000000002">2</tspan><tspan x="1975.21" y="0.00" font-size="33.300000000000004">(FC)</tspan></text>
<circle cx="1824.8" cy="2045.2" r="14.1" fill="#000"/>
<text transform="translate(1870.29,2044.20) scale(1,1.0436)" font-size="29" text-anchor="start" fill="#000">1</text>
<circle cx="1824.8" cy="2083.7" r="17.8" fill="#000"/>
<text transform="translate(1870.04,2082.70) scale(1,1.0436)" font-size="29" text-anchor="start" fill="#000">2</text>
<circle cx="1824.8" cy="2128.8" r="20.9" fill="#000"/>
<text transform="translate(1870.40,2127.80) scale(1,1.0436)" font-size="29" text-anchor="start" fill="#000">3</text>
<circle cx="1824.8" cy="2181.4" r="23.1" fill="#000"/>
<text transform="translate(1870.83,2180.40) scale(1,1.0436)" font-size="29" text-anchor="start" fill="#000">4</text>
<circle cx="1824.8" cy="2240.0" r="25.4" fill="#000"/>
<text transform="translate(1870.34,2239.00) scale(1,1.0436)" font-size="29" text-anchor="start" fill="#000">5</text>
<circle cx="1824.8" cy="2303.5" r="27.2" fill="#000"/>
<text transform="translate(1870.03,2302.50) scale(1,1.0436)" font-size="29" text-anchor="start" fill="#000">6</text>
<line x1="1792" y1="2035.8" x2="1798.5" y2="2035.8" stroke="#fff" stroke-width="1.8"/>
<line x1="1792" y1="2080" x2="1798.5" y2="2080" stroke="#fff" stroke-width="1.8"/>
<defs><linearGradient id="gD" x1="0" x2="0" y1="0" y2="1"><stop offset="0.0000" stop-color="#ff2614"/><stop offset="0.1237" stop-color="#fb6e50"/><stop offset="0.2473" stop-color="#fb9b80"/><stop offset="0.3710" stop-color="#fdcdbe"/><stop offset="0.4947" stop-color="#ffffff"/><stop offset="0.6183" stop-color="#dec8e4"/><stop offset="0.7420" stop-color="#a58ac8"/><stop offset="0.8656" stop-color="#6958a8"/><stop offset="0.9893" stop-color="#2644a0"/></linearGradient></defs>
<rect x="1934.7" y="2036.7" width="35.7" height="177.6" fill="url(#gD)"/>
<text transform="translate(1980.24,2050.60) scale(1,1.0436)" font-size="29" text-anchor="start" fill="#000">2</text>
<line x1="1963.0" y1="2080.0" x2="1970.4" y2="2080.0" stroke="#fff" stroke-width="1.9"/>
<text transform="translate(1979.49,2093.90) scale(1,1.0436)" font-size="29" text-anchor="start" fill="#000">1</text>
<text transform="translate(1980.57,2138.00) scale(1,1.0436)" font-size="29" text-anchor="start" fill="#000">0</text>
<line x1="1963.0" y1="2168.3" x2="1970.4" y2="2168.3" stroke="#fff" stroke-width="1.9"/>
<text transform="translate(1980.27,2182.20) scale(1,1.0436)" font-size="29" text-anchor="start" fill="#000">−1</text>
<text transform="translate(1980.27,2226.30) scale(1,1.0436)" font-size="29" text-anchor="start" fill="#000">−2</text>
<line x1="1962.4" y1="2212.4" x2="1969.8" y2="2212.4" stroke="#fff" stroke-width="1.9"/>
</svg>
</body></html>
